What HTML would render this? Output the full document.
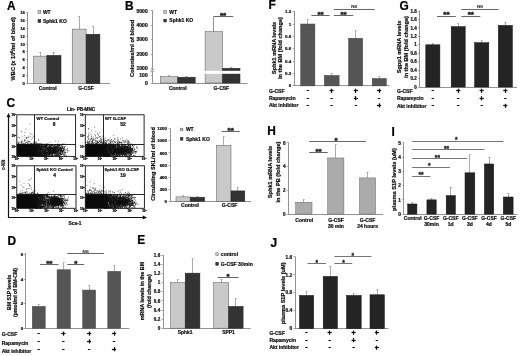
<!DOCTYPE html>
<html><head><meta charset="utf-8"><title>Figure</title>
<style>html,body{margin:0;padding:0;background:#fff;}svg{display:block;filter:grayscale(1);}text{font-family:"Liberation Sans",sans-serif;}</style>
</head><body>
<svg width="520" height="356" viewBox="0 0 520 356">
<rect x="0" y="0" width="520" height="356" fill="#ffffff"/>
<text x="7.00" y="10.40" font-size="11.9" text-anchor="start" font-weight="bold" fill="#000" stroke="#000" stroke-width="0.22">A</text>
<text x="125.00" y="10.40" font-size="11.9" text-anchor="start" font-weight="bold" fill="#000" stroke="#000" stroke-width="0.22">B</text>
<text x="6.50" y="107.20" font-size="11.9" text-anchor="start" font-weight="bold" fill="#000" stroke="#000" stroke-width="0.22">C</text>
<text x="7.50" y="244.90" font-size="11.9" text-anchor="start" font-weight="bold" fill="#000" stroke="#000" stroke-width="0.22">D</text>
<text x="137.30" y="244.00" font-size="11.9" text-anchor="start" font-weight="bold" fill="#000" stroke="#000" stroke-width="0.22">E</text>
<text x="268.40" y="9.40" font-size="11.9" text-anchor="start" font-weight="bold" fill="#000" stroke="#000" stroke-width="0.22">F</text>
<text x="399.60" y="9.70" font-size="11.9" text-anchor="start" font-weight="bold" fill="#000" stroke="#000" stroke-width="0.22">G</text>
<text x="267.30" y="134.60" font-size="11.9" text-anchor="start" font-weight="bold" fill="#000" stroke="#000" stroke-width="0.22">H</text>
<text x="391.50" y="135.80" font-size="11.9" text-anchor="start" font-weight="bold" fill="#000" stroke="#000" stroke-width="0.22">I</text>
<text x="270.40" y="247.40" font-size="11.9" text-anchor="start" font-weight="bold" fill="#000" stroke="#000" stroke-width="0.22">J</text>
<line x1="27.50" y1="12.00" x2="27.50" y2="83.60" stroke="#777" stroke-width="0.8"/>
<line x1="27.70" y1="83.50" x2="110.00" y2="83.50" stroke="#777" stroke-width="0.8"/>
<line x1="26.10" y1="83.50" x2="27.70" y2="83.50" stroke="#777" stroke-width="0.6"/>
<text x="24.90" y="85.08" font-size="4.1" text-anchor="end" font-weight="bold" fill="#111" stroke="#111" stroke-width="0.22">0</text>
<line x1="26.10" y1="75.50" x2="27.70" y2="75.50" stroke="#777" stroke-width="0.6"/>
<text x="24.90" y="77.18" font-size="4.1" text-anchor="end" font-weight="bold" fill="#111" stroke="#111" stroke-width="0.22">2</text>
<line x1="26.10" y1="67.50" x2="27.70" y2="67.50" stroke="#777" stroke-width="0.6"/>
<text x="24.90" y="69.28" font-size="4.1" text-anchor="end" font-weight="bold" fill="#111" stroke="#111" stroke-width="0.22">4</text>
<line x1="26.10" y1="59.50" x2="27.70" y2="59.50" stroke="#777" stroke-width="0.6"/>
<text x="24.90" y="61.38" font-size="4.1" text-anchor="end" font-weight="bold" fill="#111" stroke="#111" stroke-width="0.22">6</text>
<line x1="26.10" y1="51.50" x2="27.70" y2="51.50" stroke="#777" stroke-width="0.6"/>
<text x="24.90" y="53.48" font-size="4.1" text-anchor="end" font-weight="bold" fill="#111" stroke="#111" stroke-width="0.22">8</text>
<line x1="26.10" y1="44.50" x2="27.70" y2="44.50" stroke="#777" stroke-width="0.6"/>
<text x="24.90" y="45.58" font-size="4.1" text-anchor="end" font-weight="bold" fill="#111" stroke="#111" stroke-width="0.22">10</text>
<line x1="26.10" y1="36.50" x2="27.70" y2="36.50" stroke="#777" stroke-width="0.6"/>
<text x="24.90" y="37.68" font-size="4.1" text-anchor="end" font-weight="bold" fill="#111" stroke="#111" stroke-width="0.22">12</text>
<line x1="26.10" y1="28.50" x2="27.70" y2="28.50" stroke="#777" stroke-width="0.6"/>
<text x="24.90" y="29.78" font-size="4.1" text-anchor="end" font-weight="bold" fill="#111" stroke="#111" stroke-width="0.22">14</text>
<line x1="26.10" y1="20.50" x2="27.70" y2="20.50" stroke="#777" stroke-width="0.6"/>
<text x="24.90" y="21.88" font-size="4.1" text-anchor="end" font-weight="bold" fill="#111" stroke="#111" stroke-width="0.22">16</text>
<line x1="26.10" y1="12.50" x2="27.70" y2="12.50" stroke="#777" stroke-width="0.6"/>
<text x="24.90" y="13.98" font-size="4.1" text-anchor="end" font-weight="bold" fill="#111" stroke="#111" stroke-width="0.22">18</text>
<line x1="40.50" y1="52.40" x2="40.50" y2="56.15" stroke="#888" stroke-width="0.7"/>
<line x1="39.20" y1="52.50" x2="41.20" y2="52.50" stroke="#888" stroke-width="0.6"/>
<rect x="33.50" y="56.15" width="13.40" height="27.45" fill="#c9c9c9" stroke="#555" stroke-width="0.5"/>
<line x1="53.50" y1="52.40" x2="53.50" y2="55.36" stroke="#888" stroke-width="0.7"/>
<line x1="52.95" y1="52.50" x2="54.95" y2="52.50" stroke="#888" stroke-width="0.6"/>
<rect x="46.90" y="55.36" width="14.10" height="28.24" fill="#333333" stroke="#222" stroke-width="0.5"/>
<line x1="79.50" y1="16.45" x2="79.50" y2="29.09" stroke="#888" stroke-width="0.7"/>
<line x1="78.15" y1="16.50" x2="80.15" y2="16.50" stroke="#888" stroke-width="0.6"/>
<rect x="72.20" y="29.09" width="13.90" height="54.51" fill="#c9c9c9" stroke="#555" stroke-width="0.5"/>
<line x1="93.50" y1="26.72" x2="93.50" y2="34.22" stroke="#888" stroke-width="0.7"/>
<line x1="92.00" y1="26.50" x2="94.00" y2="26.50" stroke="#888" stroke-width="0.6"/>
<rect x="86.10" y="34.22" width="13.80" height="49.38" fill="#333333" stroke="#222" stroke-width="0.5"/>
<text x="47.70" y="89.80" font-size="5" text-anchor="middle" font-weight="bold" fill="#111" stroke="#111" stroke-width="0.22">Control</text>
<text x="86.00" y="89.80" font-size="5" text-anchor="middle" font-weight="bold" fill="#111" stroke="#111" stroke-width="0.22">G-CSF</text>
<rect x="38.00" y="10.40" width="2.80" height="2.90" fill="#c9c9c9" stroke="#555" stroke-width="0.5"/>
<text x="42.90" y="13.70" font-size="5.0" text-anchor="start" font-weight="bold" fill="#111" stroke="#111" stroke-width="0.22">WT</text>
<rect x="38.00" y="19.50" width="2.80" height="3.00" fill="#333333" stroke="#222" stroke-width="0.5"/>
<text x="42.90" y="22.90" font-size="5.0" text-anchor="start" font-weight="bold" fill="#111" stroke="#111" stroke-width="0.22">Sphk1 KO</text>
<text x="14.70" y="48.80" font-size="5.6" text-anchor="middle" font-weight="bold" fill="#111" transform="rotate(-90 14.70 48.80)" stroke="#111" stroke-width="0.22">WBC (x 10<tspan font-size="3.6" dy="-2">6</tspan><tspan dy="2">/ml of blood)</tspan></text>
<line x1="152.50" y1="10.20" x2="152.50" y2="83.00" stroke="#777" stroke-width="0.8"/>
<line x1="152.30" y1="83.50" x2="247.50" y2="83.50" stroke="#777" stroke-width="0.8"/>
<line x1="150.70" y1="83.50" x2="152.30" y2="83.50" stroke="#777" stroke-width="0.6"/>
<text x="147.70" y="84.80" font-size="5.0" text-anchor="end" font-weight="bold" fill="#111" stroke="#111" stroke-width="0.22">0</text>
<line x1="150.70" y1="75.50" x2="152.30" y2="75.50" stroke="#777" stroke-width="0.6"/>
<text x="147.70" y="77.10" font-size="5.0" text-anchor="end" font-weight="bold" fill="#111" stroke="#111" stroke-width="0.22">100</text>
<line x1="150.70" y1="68.50" x2="152.30" y2="68.50" stroke="#777" stroke-width="0.6"/>
<text x="147.70" y="70.10" font-size="5.0" text-anchor="end" font-weight="bold" fill="#111" stroke="#111" stroke-width="0.22">1000</text>
<line x1="150.70" y1="54.50" x2="152.30" y2="54.50" stroke="#777" stroke-width="0.6"/>
<text x="147.70" y="55.80" font-size="5.0" text-anchor="end" font-weight="bold" fill="#111" stroke="#111" stroke-width="0.22">2000</text>
<line x1="150.70" y1="39.50" x2="152.30" y2="39.50" stroke="#777" stroke-width="0.6"/>
<text x="147.70" y="41.10" font-size="5.0" text-anchor="end" font-weight="bold" fill="#111" stroke="#111" stroke-width="0.22">3000</text>
<line x1="150.70" y1="25.50" x2="152.30" y2="25.50" stroke="#777" stroke-width="0.6"/>
<text x="147.70" y="27.10" font-size="5.0" text-anchor="end" font-weight="bold" fill="#111" stroke="#111" stroke-width="0.22">4000</text>
<line x1="150.70" y1="10.50" x2="152.30" y2="10.50" stroke="#777" stroke-width="0.6"/>
<text x="147.70" y="12.50" font-size="5.0" text-anchor="end" font-weight="bold" fill="#111" stroke="#111" stroke-width="0.22">5000</text>
<line x1="169.50" y1="75.80" x2="169.50" y2="76.70" stroke="#888" stroke-width="0.7"/>
<line x1="168.05" y1="75.50" x2="170.05" y2="75.50" stroke="#888" stroke-width="0.6"/>
<rect x="160.30" y="76.70" width="17.50" height="6.30" fill="#c9c9c9" stroke="#555" stroke-width="0.5"/>
<line x1="186.50" y1="76.40" x2="186.50" y2="77.20" stroke="#888" stroke-width="0.7"/>
<line x1="185.50" y1="76.50" x2="187.50" y2="76.50" stroke="#888" stroke-width="0.6"/>
<rect x="177.80" y="77.20" width="17.40" height="5.80" fill="#333333" stroke="#222" stroke-width="0.5"/>
<rect x="205.10" y="31.70" width="17.40" height="51.30" fill="#c9c9c9" stroke="#555" stroke-width="0.5"/>
<line x1="213.50" y1="16.30" x2="213.50" y2="31.70" stroke="#666" stroke-width="0.7"/>
<line x1="231.50" y1="67.00" x2="231.50" y2="68.30" stroke="#888" stroke-width="0.7"/>
<line x1="230.25" y1="67.50" x2="232.25" y2="67.50" stroke="#888" stroke-width="0.6"/>
<rect x="222.50" y="68.30" width="17.50" height="14.70" fill="#333333" stroke="#222" stroke-width="0.5"/>
<rect x="158.00" y="70.80" width="83.00" height="3.00" fill="#fff"/>
<rect x="151.00" y="69.90" width="3.00" height="1.70" fill="#fff"/>
<path d="M150.3 70.3 L154.3 69.5 M150.3 72.0 L154.3 71.2" stroke="#666" stroke-width="0.6" fill="none"/>
<text x="177.80" y="89.80" font-size="5" text-anchor="middle" font-weight="bold" fill="#111" stroke="#111" stroke-width="0.22">Control</text>
<text x="221.40" y="89.80" font-size="5" text-anchor="middle" font-weight="bold" fill="#111" stroke="#111" stroke-width="0.22">G-CSF</text>
<rect x="163.80" y="10.70" width="2.60" height="2.70" fill="#c9c9c9" stroke="#555" stroke-width="0.5"/>
<text x="169.30" y="13.80" font-size="5.0" text-anchor="start" font-weight="bold" fill="#111" stroke="#111" stroke-width="0.22">WT</text>
<rect x="163.80" y="19.20" width="2.60" height="2.80" fill="#333333" stroke="#222" stroke-width="0.5"/>
<text x="169.30" y="22.40" font-size="5.0" text-anchor="start" font-weight="bold" fill="#111" stroke="#111" stroke-width="0.22">Sphk1 KO</text>
<text x="134.30" y="48.30" font-size="5.8" text-anchor="middle" font-weight="bold" fill="#111" transform="rotate(-90 134.30 48.30)" stroke="#111" stroke-width="0.22">Colonies/ml of blood</text>
<line x1="213.90" y1="16.50" x2="233.20" y2="16.50" stroke="#555" stroke-width="0.9"/>
<text x="223.10" y="17.90" font-size="8" text-anchor="middle" font-weight="bold" fill="#222" stroke="#222" stroke-width="0.45">**</text>
<line x1="8.50" y1="217.60" x2="8.50" y2="115.50" stroke="#111" stroke-width="1.2"/>
<path d="M6.50 117.30 L8.50 112.90 L10.50 117.30 Z" fill="#111"/>
<line x1="8.10" y1="217.50" x2="144.50" y2="217.50" stroke="#111" stroke-width="1.2"/>
<path d="M142.70 215.50 L147.10 217.50 L142.70 219.50 Z" fill="#111"/>
<text x="81.00" y="111.20" font-size="4.6" text-anchor="middle" font-weight="bold" fill="#111" stroke="#111" stroke-width="0.22">Lin- PB-MNC</text>
<text x="4.90" y="164.80" font-size="4.7" text-anchor="middle" font-weight="bold" fill="#111" transform="rotate(-90 4.90 164.80)" stroke="#111" stroke-width="0.22">c-Kit</text>
<text x="75.00" y="225.30" font-size="4.8" text-anchor="middle" font-weight="bold" fill="#111" stroke="#111" stroke-width="0.22">Sca-1</text>
<rect x="16.80" y="144.00" width="19.10" height="12.40" fill="#0a0a0a"/>
<path d="M37.6 145.9h.8M41.2 144.9h.8M39.6 148.5h.8M35.7 150.3h.8M35.6 149.4h.8M35.8 145.1h.8M38.4 154.3h.8M36.1 146.8h.8M40.8 155.8h.8M40.1 148.9h.8M56.0 144.6h.8M46.2 147.6h.8M36.3 145.5h.8M37.4 154.1h.8M36.5 151.2h.8M41.0 148.6h.8M39.8 144.8h.8M35.7 146.6h.8M41.7 149.3h.8M37.5 151.3h.8M38.7 147.7h.8M44.1 152.7h.8M36.9 151.1h.8M39.5 154.9h.8M42.6 147.6h.8M57.0 145.5h.8M38.4 153.4h.8M36.3 150.1h.8M35.6 152.3h.8M43.4 151.1h.8M46.9 147.9h.8M41.9 151.4h.8M40.2 149.7h.8M45.5 155.7h.8M38.9 152.2h.8M35.7 152.7h.8M41.1 156.3h.8M44.9 147.5h.8M38.1 152.3h.8M35.5 149.7h.8M36.4 145.5h.8M35.7 153.5h.8M36.2 147.1h.8M38.1 154.8h.8M35.9 149.6h.8M39.8 155.0h.8M44.8 154.7h.8M37.2 149.1h.8M37.8 155.0h.8M52.8 145.9h.8M36.5 146.9h.8M36.9 150.0h.8M40.3 147.3h.8M35.4 149.2h.8M37.9 151.0h.8M52.2 152.6h.8M39.4 151.7h.8M41.6 144.7h.8M48.0 153.7h.8M46.8 153.9h.8M38.1 148.9h.8M36.0 151.9h.8M35.8 144.8h.8M36.7 146.0h.8M37.7 144.7h.8M35.4 145.9h.8M36.0 148.5h.8M35.5 154.8h.8M40.6 145.8h.8M37.0 148.3h.8M37.9 145.5h.8M45.8 156.3h.8M38.9 150.0h.8M35.9 145.3h.8M37.7 147.3h.8M45.1 146.0h.8M35.5 155.8h.8M39.5 145.8h.8M39.7 144.3h.8M39.5 156.1h.8M46.3 152.6h.8M37.1 148.5h.8M36.4 153.6h.8M39.6 153.7h.8M37.6 146.8h.8M44.6 156.2h.8M45.9 154.0h.8M44.8 153.2h.8M36.8 150.4h.8M37.8 144.4h.8M35.6 147.5h.8M37.0 152.6h.8M52.6 149.5h.8M50.6 156.3h.8M52.5 148.5h.8M36.8 146.8h.8M36.6 146.5h.8M40.8 155.2h.8M45.5 149.9h.8M41.2 153.9h.8M35.9 152.2h.8M48.6 153.7h.8M43.0 149.9h.8M36.5 153.8h.8M37.6 153.9h.8M55.0 148.9h.8M38.2 155.7h.8M42.5 146.1h.8M36.1 145.9h.8M48.3 154.0h.8M36.3 154.2h.8M57.0 152.2h.8M37.8 150.8h.8M36.2 144.2h.8M54.9 152.1h.8M39.5 155.6h.8M38.5 154.8h.8M45.0 146.6h.8M37.0 147.6h.8M36.9 151.3h.8M37.1 149.2h.8M36.2 155.3h.8M37.8 149.7h.8M40.2 155.2h.8M38.4 155.4h.8M39.2 150.6h.8M39.5 144.2h.8M38.6 146.3h.8M35.4 153.9h.8M36.4 149.9h.8M42.5 150.9h.8M37.6 150.4h.8M39.9 153.7h.8M36.0 150.9h.8M37.0 147.4h.8M43.5 150.3h.8M39.9 153.4h.8M48.8 149.5h.8M40.6 150.3h.8M39.3 152.6h.8M38.7 150.6h.8M39.0 155.7h.8M42.0 154.9h.8M51.1 147.2h.8M39.9 155.7h.8M45.5 145.7h.8M36.1 149.5h.8M35.8 147.0h.8M35.8 152.3h.8M43.8 155.1h.8M36.3 152.9h.8M41.3 145.8h.8M47.2 156.0h.8M36.8 155.8h.8M38.2 150.0h.8M60.7 154.3h.8M36.4 149.4h.8M39.4 148.2h.8M36.6 147.9h.8M42.4 144.2h.8M39.8 149.5h.8M35.5 148.1h.8M40.8 150.4h.8M35.8 156.2h.8M43.9 156.0h.8M36.0 147.3h.8M35.6 153.7h.8M37.1 145.6h.8M38.4 155.3h.8M44.8 147.2h.8M36.3 155.4h.8M40.0 152.7h.8M35.9 144.7h.8M41.8 149.3h.8M35.8 155.6h.8M40.9 153.9h.8M35.9 154.6h.8M35.8 154.7h.8M38.7 148.2h.8M39.8 155.5h.8M37.1 145.6h.8M39.5 147.0h.8M36.0 146.0h.8M35.7 146.5h.8M37.5 147.8h.8M43.2 147.6h.8M39.2 146.2h.8M37.7 144.2h.8M37.0 144.2h.8M42.7 150.8h.8M36.6 149.9h.8M50.4 145.3h.8M44.8 149.4h.8M39.2 154.3h.8M38.1 150.3h.8M41.8 156.2h.8M37.7 154.3h.8M42.1 151.9h.8M38.3 148.3h.8M35.7 145.6h.8M35.8 153.2h.8M37.0 146.0h.8M35.9 154.4h.8M46.6 152.3h.8M37.2 147.0h.8M37.3 149.7h.8M36.3 149.5h.8M37.1 155.9h.8M55.2 150.8h.8M36.9 156.0h.8M37.4 148.4h.8M35.4 148.7h.8M38.9 150.2h.8M36.6 150.3h.8M35.4 147.3h.8M35.9 149.0h.8M35.6 144.3h.8M37.4 146.9h.8M40.2 150.6h.8M43.0 152.2h.8M42.3 154.9h.8M38.1 148.0h.8M58.4 145.9h.8M42.5 152.0h.8M35.6 154.4h.8M47.6 151.8h.8M42.7 154.1h.8M36.2 150.5h.8M39.3 154.4h.8M44.4 154.2h.8M40.2 155.1h.8M41.7 152.6h.8M36.8 144.4h.8M36.2 148.5h.8M36.0 154.4h.8M39.9 151.8h.8M40.8 152.4h.8M39.1 144.0h.8M44.2 153.3h.8M39.2 150.6h.8M41.3 144.8h.8M42.7 147.1h.8M35.8 147.3h.8M42.6 146.5h.8M42.8 156.1h.8M39.1 148.7h.8M39.0 152.5h.8M43.4 151.7h.8M41.1 145.0h.8M36.3 147.1h.8M42.9 147.8h.8M40.0 144.2h.8M35.7 147.3h.8M41.5 152.6h.8M41.6 147.6h.8M39.4 149.8h.8M38.9 145.5h.8M47.7 146.5h.8M56.4 155.6h.8M35.5 149.7h.8M44.8 156.0h.8M38.7 147.3h.8M36.7 155.7h.8M36.7 151.2h.8M36.2 150.5h.8M52.2 145.6h.8M44.8 150.3h.8M47.4 152.7h.8M36.8 155.1h.8M39.1 144.3h.8M35.4 150.1h.8M38.7 147.7h.8M36.2 148.3h.8M37.5 154.4h.8M35.4 153.3h.8M45.4 145.5h.8M49.8 152.8h.8M48.2 147.6h.8M38.0 148.9h.8M37.9 149.3h.8M37.2 144.6h.8M36.0 154.3h.8M37.2 155.6h.8M37.0 147.3h.8M39.3 146.4h.8M38.0 155.9h.8M47.3 154.1h.8M40.9 155.3h.8M50.9 150.8h.8M42.4 144.6h.8M42.6 149.6h.8M43.1 152.0h.8M37.3 144.6h.8M49.8 145.6h.8M38.9 148.3h.8M37.3 153.2h.8M56.0 147.2h.8M41.3 147.7h.8M39.9 148.9h.8M36.4 146.0h.8M36.7 155.2h.8M39.2 146.7h.8M48.4 156.4h.8M38.7 145.7h.8M36.6 145.1h.8M37.7 145.1h.8M36.9 147.2h.8M40.0 155.0h.8M43.0 149.1h.8M38.3 150.5h.8M38.0 148.2h.8M35.8 147.4h.8M54.3 145.6h.8M39.2 151.8h.8M46.3 146.7h.8M37.1 147.1h.8M38.2 149.5h.8M52.3 154.5h.8M46.7 144.3h.8M35.6 152.8h.8M47.8 149.9h.8M40.3 144.0h.8M38.1 155.5h.8M45.0 154.6h.8M55.1 147.1h.8M36.0 145.9h.8M39.5 152.5h.8M51.0 152.9h.8M41.1 153.5h.8M38.8 150.8h.8M35.6 153.7h.8M36.9 155.4h.8M41.1 147.8h.8M36.2 147.1h.8M41.0 152.7h.8M36.1 144.9h.8M39.5 151.2h.8M38.1 146.8h.8M40.5 144.1h.8M37.4 149.7h.8M53.0 152.0h.8M47.2 149.9h.8M36.9 147.1h.8M53.2 152.7h.8M37.4 144.3h.8M39.2 152.4h.8M38.4 147.2h.8M41.5 155.5h.8M36.8 144.4h.8M37.7 149.2h.8M41.7 146.5h.8M44.2 153.2h.8M39.3 146.5h.8M54.7 147.9h.8M44.8 146.9h.8M36.8 153.4h.8M37.3 155.8h.8M39.2 146.3h.8M36.8 149.2h.8M41.4 155.8h.8M36.3 148.9h.8M36.7 156.1h.8M36.2 144.6h.8M35.7 148.9h.8M48.0 155.0h.8M42.7 156.4h.8M50.2 148.1h.8M36.5 155.6h.8M42.9 144.4h.8M41.4 148.7h.8M38.0 148.1h.8M36.4 144.0h.8M37.2 148.4h.8M52.5 145.5h.8M53.7 146.6h.8M37.8 154.2h.8M44.9 149.4h.8M35.7 149.9h.8M38.0 155.4h.8M36.6 148.5h.8M47.9 144.4h.8M38.3 154.1h.8M43.4 144.5h.8M35.6 144.8h.8M49.3 147.2h.8M43.0 155.1h.8M37.7 147.4h.8M52.8 151.7h.8M37.1 152.9h.8M37.5 147.4h.8M35.4 153.4h.8M49.1 151.9h.8M51.2 144.3h.8M36.9 149.9h.8M52.7 155.8h.8M38.1 147.1h.8M38.5 150.1h.8M49.9 146.3h.8M44.3 153.2h.8M44.9 153.6h.8M40.5 148.1h.8M37.5 148.5h.8M43.8 145.0h.8M36.6 153.3h.8M37.0 144.8h.8M35.6 150.9h.8M37.6 156.2h.8M47.2 156.2h.8M37.1 145.0h.8M36.0 150.2h.8M42.2 149.5h.8M36.9 149.2h.8M40.7 152.4h.8M43.0 154.5h.8M41.4 145.5h.8M45.5 147.6h.8M40.0 148.6h.8M42.8 146.5h.8M37.0 147.0h.8M36.3 155.0h.8M40.1 148.0h.8M38.2 156.3h.8M39.3 146.9h.8M44.5 152.1h.8M61.3 145.3h.8M38.9 154.2h.8M45.5 155.3h.8M35.6 147.6h.8M36.1 146.4h.8M55.3 151.2h.8M50.0 148.6h.8M46.5 149.6h.8M37.1 153.6h.8M51.4 145.3h.8M40.4 151.7h.8M36.7 148.6h.8M36.2 146.5h.8M37.0 151.4h.8M41.2 146.5h.8M35.5 148.1h.8M41.6 146.3h.8M37.5 146.5h.8M44.1 150.8h.8M35.8 145.3h.8M38.2 150.8h.8M41.0 145.1h.8M36.4 152.6h.8M38.3 147.5h.8M37.4 155.8h.8M37.5 151.0h.8M37.8 149.2h.8M46.4 156.4h.8M37.9 146.4h.8M42.6 146.5h.8M35.4 155.2h.8M38.4 154.2h.8M38.3 154.9h.8M38.8 146.0h.8M35.5 150.8h.8M41.0 155.3h.8M35.9 151.7h.8M37.9 150.3h.8M36.3 147.5h.8M39.5 155.5h.8M36.0 150.1h.8M44.4 156.0h.8M36.6 145.6h.8M51.2 156.1h.8M39.0 144.7h.8M49.7 148.8h.8M48.3 151.7h.8M45.0 146.0h.8M43.9 146.8h.8M38.3 154.5h.8M45.1 146.3h.8M36.8 149.0h.8M39.4 148.8h.8M36.1 147.1h.8M42.5 155.1h.8M35.6 151.0h.8M43.2 144.5h.8M45.4 145.5h.8M40.4 150.8h.8M40.8 147.8h.8M38.4 151.2h.8M38.5 152.2h.8M38.7 149.4h.8M35.5 151.7h.8M39.1 146.9h.8M43.3 153.7h.8M38.8 146.2h.8M38.9 145.3h.8M36.2 149.3h.8M35.9 149.5h.8M39.3 144.5h.8M41.0 145.0h.8M42.7 153.6h.8M39.3 144.7h.8M39.3 148.7h.8M52.0 145.7h.8M46.1 156.4h.8M42.6 154.1h.8M36.6 156.2h.8M39.1 155.9h.8M49.0 146.0h.8M43.9 155.5h.8M35.8 148.4h.8M43.2 146.0h.8M47.9 147.4h.8M44.7 145.8h.8M39.2 155.4h.8M36.7 147.3h.8M39.3 148.0h.8M35.6 146.3h.8M36.4 155.6h.8M41.7 155.1h.8M36.4 153.7h.8M36.1 150.6h.8M41.0 148.5h.8M46.7 150.9h.8M40.2 154.9h.8M36.0 156.3h.8M40.9 148.9h.8M44.2 147.3h.8M61.0 151.2h.8M37.9 153.5h.8M38.6 146.2h.8M42.9 144.6h.8M44.8 147.1h.8M41.0 156.2h.8M40.2 152.2h.8M37.5 144.0h.8M35.6 145.9h.8M40.7 149.4h.8M39.4 155.1h.8M36.2 146.8h.8M41.2 144.3h.8M35.4 148.4h.8M36.0 148.4h.8M36.8 151.2h.8M40.3 146.5h.8M40.8 149.9h.8M36.2 155.6h.8M36.9 145.9h.8M36.0 151.9h.8M46.7 153.7h.8M38.2 147.3h.8M35.5 152.0h.8M39.9 148.3h.8M41.1 149.5h.8M50.6 153.1h.8M37.0 155.2h.8M35.6 150.6h.8M38.3 146.9h.8M35.7 153.7h.8M35.5 150.8h.8M51.0 145.8h.8M36.6 151.5h.8M39.3 152.0h.8M44.6 146.2h.8M37.4 147.7h.8M35.7 155.0h.8M43.8 152.9h.8M35.4 154.5h.8M42.9 149.8h.8M42.8 149.6h.8M36.8 145.3h.8M36.9 144.5h.8M37.6 153.3h.8M41.9 154.5h.8M42.2 147.3h.8M39.8 149.4h.8M43.9 150.5h.8M37.1 152.0h.8M53.9 146.7h.8M47.1 144.2h.8M37.1 146.9h.8M42.9 155.7h.8M42.9 148.1h.8M47.1 148.1h.8M36.9 155.3h.8M40.9 152.6h.8M41.4 156.1h.8M38.9 154.4h.8M42.0 154.6h.8M38.6 153.0h.8M40.0 147.8h.8M36.7 151.7h.8M35.8 155.3h.8M36.3 144.3h.8M36.0 155.5h.8M37.7 145.8h.8M35.6 144.5h.8M41.9 151.9h.8M42.0 153.1h.8M35.8 151.3h.8M37.9 154.1h.8M44.8 155.1h.8M35.8 154.8h.8M48.9 155.7h.8M36.0 146.6h.8M36.1 144.4h.8M45.8 154.1h.8M40.9 154.2h.8M40.9 147.6h.8M36.0 145.2h.8M43.2 146.5h.8M37.5 149.3h.8M35.5 147.2h.8M37.2 152.9h.8M37.9 148.0h.8M53.7 150.2h.8M45.9 151.7h.8M35.6 149.1h.8M38.6 153.6h.8M37.7 152.7h.8M39.6 146.7h.8M46.3 145.1h.8M44.8 146.1h.8M35.4 146.5h.8M43.3 156.1h.8M35.4 150.1h.8M39.1 153.9h.8M36.5 150.1h.8M37.7 154.3h.8M37.1 155.7h.8M37.2 146.7h.8M42.0 150.2h.8M36.0 151.9h.8M35.9 153.8h.8M42.0 153.8h.8M40.8 148.4h.8M38.2 148.9h.8M47.6 145.1h.8M47.5 144.3h.8M36.7 147.3h.8M48.1 150.2h.8M38.0 155.0h.8M36.9 149.7h.8M39.6 153.4h.8M43.1 152.0h.8M37.8 148.1h.8M36.3 154.5h.8M41.4 153.2h.8M36.4 149.4h.8M43.6 151.2h.8M36.1 149.7h.8M47.3 147.0h.8M36.6 147.7h.8M42.1 154.5h.8M36.3 145.9h.8M37.0 148.0h.8M39.5 146.0h.8M37.6 146.3h.8M55.7 153.0h.8M36.0 155.9h.8M36.0 148.8h.8M58.1 153.9h.8M42.7 149.4h.8M36.6 151.9h.8M36.0 146.6h.8M38.1 144.4h.8M38.2 153.8h.8M41.9 150.2h.8M40.9 149.7h.8M36.2 151.5h.8M38.3 153.2h.8M48.5 149.3h.8M40.1 153.3h.8M38.4 146.8h.8M42.4 154.9h.8M43.6 152.7h.8M45.9 152.4h.8M41.0 149.6h.8M37.5 151.8h.8M36.0 149.2h.8M43.8 152.8h.8M40.9 147.1h.8M38.4 149.6h.8M40.7 149.1h.8M41.6 155.5h.8M36.5 152.1h.8M43.7 148.8h.8M39.1 156.1h.8M35.6 150.7h.8M36.4 153.7h.8M50.9 150.4h.8M36.0 151.1h.8M39.7 152.9h.8M39.3 151.9h.8M45.1 150.5h.8M38.3 155.8h.8M36.7 152.5h.8M38.1 153.5h.8M36.1 156.2h.8M37.8 144.7h.8M37.2 149.0h.8M35.5 149.2h.8M38.4 152.7h.8M49.3 152.3h.8M54.1 155.3h.8M59.8 149.1h.8M54.7 155.7h.8M48.9 151.7h.8M60.1 154.2h.8M55.8 146.5h.8M44.2 151.2h.8M46.8 153.9h.8M57.4 145.4h.8M47.1 150.9h.8M49.2 150.0h.8M55.5 148.0h.8M55.4 148.5h.8M48.9 152.1h.8M48.7 151.3h.8M62.8 150.5h.8M51.5 152.7h.8M50.0 153.7h.8M44.1 152.3h.8M49.1 148.1h.8M63.9 147.9h.8M63.8 152.4h.8M61.8 147.5h.8M60.2 154.8h.8M51.6 150.1h.8M68.4 151.0h.8M49.7 148.6h.8M55.3 151.4h.8M53.6 155.6h.8M50.3 151.9h.8M61.9 147.4h.8M59.2 155.9h.8M43.6 147.2h.8M45.7 144.9h.8M55.3 144.9h.8M55.6 154.8h.8M41.9 149.5h.8M39.9 152.8h.8M47.6 149.7h.8M52.8 152.1h.8M50.1 150.5h.8M48.8 150.8h.8M44.8 150.6h.8M39.8 149.0h.8M64.8 150.7h.8M44.2 151.2h.8M46.1 145.5h.8M47.6 152.7h.8M54.9 150.2h.8M46.4 147.2h.8M61.2 151.2h.8M46.2 144.1h.8M44.9 150.2h.8M53.8 150.0h.8M50.6 146.3h.8M45.6 155.5h.8M47.5 153.0h.8M41.4 149.6h.8M54.1 153.6h.8M45.1 152.2h.8M54.9 148.2h.8M55.5 147.8h.8M47.2 150.4h.8M34.8 150.1h.8M45.9 146.1h.8M49.6 152.7h.8M49.8 154.2h.8M44.9 146.5h.8M62.5 151.6h.8M58.5 148.0h.8M57.6 151.2h.8M56.6 150.5h.8M60.2 148.5h.8M46.1 146.0h.8M59.9 148.2h.8M45.6 147.6h.8M49.5 146.6h.8M50.5 148.6h.8M48.8 147.6h.8M52.6 149.1h.8M53.1 151.2h.8M48.9 148.1h.8M57.4 145.7h.8M47.8 149.6h.8M50.2 153.4h.8M49.5 153.3h.8M42.9 145.0h.8M60.3 151.8h.8M55.6 150.8h.8M55.5 146.8h.8M58.6 148.9h.8M58.8 150.7h.8M39.6 146.6h.8M59.7 150.0h.8M49.8 151.2h.8M49.6 148.8h.8M53.1 150.9h.8M62.3 150.6h.8M64.6 155.9h.8M63.6 153.6h.8M53.2 150.9h.8M51.5 148.3h.8M52.0 148.5h.8M63.1 152.1h.8M49.5 144.7h.8M52.1 149.2h.8M45.3 147.0h.8M37.8 152.2h.8M52.2 150.0h.8M61.8 150.9h.8M53.5 149.3h.8M48.5 154.9h.8M58.9 155.6h.8M50.1 150.5h.8M46.7 153.3h.8M43.3 152.1h.8M59.5 154.7h.8M46.3 153.7h.8M47.8 148.2h.8M43.8 153.9h.8M63.1 148.7h.8M47.5 149.4h.8M48.9 145.1h.8M48.0 154.0h.8M64.5 149.6h.8M47.9 148.9h.8M40.1 153.2h.8M45.3 153.6h.8M41.3 146.6h.8M54.3 148.2h.8M57.5 150.5h.8M44.8 152.3h.8M57.9 144.7h.8M64.3 151.9h.8M57.3 144.9h.8M47.7 149.4h.8M59.4 146.1h.8M46.7 144.4h.8M50.8 151.5h.8M41.4 148.7h.8M55.7 155.2h.8M56.7 149.5h.8M44.7 147.6h.8M48.1 150.9h.8M52.1 155.4h.8M54.3 147.2h.8M62.4 153.3h.8M53.1 148.3h.8M40.2 147.4h.8M58.3 148.0h.8M43.8 151.0h.8M54.0 152.3h.8M56.7 154.7h.8M46.9 153.4h.8M46.0 152.5h.8M53.6 151.2h.8M58.7 150.4h.8M59.6 153.1h.8M53.3 148.7h.8M47.5 148.9h.8M51.1 150.4h.8M57.4 147.9h.8M47.8 149.5h.8M53.6 147.3h.8M62.9 148.8h.8M52.4 151.3h.8M53.6 152.3h.8M54.2 150.9h.8M40.1 148.3h.8M37.2 152.3h.8M54.4 149.9h.8M47.1 148.7h.8M64.4 155.6h.8M52.0 154.3h.8M42.1 144.6h.8M49.3 147.8h.8M48.8 151.0h.8M52.7 151.3h.8M52.2 153.2h.8M63.9 146.7h.8M53.5 149.7h.8M54.7 145.9h.8M55.8 151.0h.8M50.0 148.2h.8M43.2 147.7h.8M56.9 152.1h.8M52.3 152.0h.8M48.5 150.7h.8M52.7 152.1h.8M51.9 150.0h.8M51.5 148.5h.8M66.9 152.0h.8M61.5 145.8h.8M56.9 153.0h.8M64.7 154.4h.8M57.4 146.9h.8M46.7 151.3h.8M55.7 147.4h.8M49.9 149.2h.8M52.8 151.5h.8M50.5 146.7h.8M60.5 155.2h.8M51.7 153.5h.8M55.3 152.4h.8M55.5 148.2h.8M56.1 153.5h.8M46.6 156.3h.8M66.0 155.9h.8M65.3 152.7h.8M50.2 148.6h.8M47.1 150.8h.8M52.2 152.5h.8M67.2 150.4h.8M56.8 151.9h.8M54.2 149.8h.8M51.6 148.0h.8M53.6 150.4h.8M54.5 147.9h.8M52.7 150.6h.8M56.3 147.3h.8M55.1 153.4h.8M56.3 149.3h.8M49.2 149.7h.8M57.1 155.1h.8M51.4 148.5h.8M54.8 151.1h.8M46.5 148.2h.8M51.7 152.5h.8M44.6 147.4h.8M55.6 146.8h.8M53.1 151.5h.8M51.7 147.4h.8M52.0 149.5h.8M54.6 147.9h.8M59.5 145.4h.8M51.3 150.5h.8M58.7 148.6h.8M55.9 148.7h.8M57.2 155.7h.8M49.8 151.8h.8M46.4 153.4h.8M60.3 150.6h.8M45.0 151.7h.8M59.9 153.7h.8M57.7 145.0h.8M48.0 154.7h.8M44.4 153.8h.8M64.6 152.7h.8M59.7 149.4h.8M44.4 150.1h.8M51.1 150.3h.8M56.9 150.0h.8M53.6 151.7h.8M52.4 156.0h.8M55.3 150.7h.8M51.1 148.6h.8M61.1 150.9h.8M45.4 148.8h.8M51.5 149.1h.8M59.4 147.0h.8M55.6 150.9h.8M44.7 150.6h.8M51.8 152.0h.8M49.5 151.4h.8M41.6 147.2h.8M57.5 153.6h.8M52.3 148.7h.8M59.4 144.2h.8M47.2 152.5h.8M56.6 147.4h.8M40.1 154.8h.8M53.4 147.8h.8M52.8 153.2h.8M35.6 153.8h.8M57.2 144.2h.8M57.4 145.1h.8M59.8 151.6h.8M67.0 148.6h.8M52.4 153.6h.8M48.2 148.3h.8M50.0 150.2h.8M45.4 151.9h.8M55.9 150.7h.8M63.5 149.5h.8M60.9 148.8h.8M57.3 144.6h.8M53.7 149.9h.8M49.2 148.6h.8M50.1 148.3h.8M38.1 148.7h.8M48.8 148.9h.8M45.5 150.0h.8M57.5 149.7h.8M49.2 154.5h.8M58.8 153.2h.8M59.9 149.5h.8M51.6 153.8h.8M48.8 150.1h.8M54.9 151.6h.8M50.6 153.4h.8M51.2 152.6h.8M59.4 152.4h.8M57.2 147.0h.8M43.9 148.6h.8M55.5 155.0h.8M44.5 151.4h.8M46.8 148.3h.8M50.6 152.5h.8M53.8 154.0h.8M46.0 153.1h.8M58.4 150.7h.8M55.5 148.8h.8M45.3 149.2h.8M49.2 155.4h.8M53.7 151.4h.8M57.2 148.1h.8M58.4 151.6h.8M42.5 152.3h.8M56.0 151.8h.8M62.7 149.2h.8M55.7 152.7h.8M46.5 154.0h.8M43.0 146.5h.8M55.8 147.2h.8M51.6 145.5h.8M52.8 147.0h.8M54.6 145.9h.8M55.3 149.6h.8M52.8 150.2h.8M53.2 146.5h.8M35.7 150.6h.8M46.3 149.1h.8M55.2 144.5h.8M47.4 148.6h.8M45.5 151.4h.8M51.5 148.0h.8M46.0 152.9h.8M48.1 152.2h.8M55.3 144.8h.8M45.4 150.5h.8M54.6 152.8h.8M57.6 153.6h.8M50.0 149.8h.8M57.4 149.2h.8M59.3 145.7h.8M56.6 149.9h.8M39.6 153.4h.8M54.4 150.5h.8M45.4 149.1h.8M62.2 148.0h.8M44.6 150.1h.8M49.8 147.7h.8M46.9 153.6h.8M43.0 156.3h.8M48.9 147.2h.8M57.5 152.1h.8M45.6 152.7h.8M40.4 147.7h.8M59.7 149.7h.8M43.9 152.0h.8M58.4 150.4h.8M40.7 149.4h.8M55.1 152.8h.8M64.4 149.7h.8M49.3 150.3h.8M60.2 147.6h.8M57.6 148.4h.8M55.4 152.5h.8M44.7 150.2h.8M54.0 152.2h.8M46.4 147.5h.8M51.1 149.8h.8M42.7 153.2h.8M48.9 154.8h.8M57.9 150.5h.8M57.1 147.1h.8M50.3 148.7h.8M44.1 150.5h.8M51.5 154.8h.8M46.4 149.1h.8M55.1 151.7h.8M52.6 149.0h.8M55.6 151.5h.8M40.4 149.7h.8M43.5 146.9h.8M53.4 150.6h.8M53.1 147.8h.8M51.1 147.7h.8M54.9 152.5h.8M63.8 154.2h.8M47.2 149.1h.8M46.3 151.4h.8M65.3 152.6h.8M38.1 146.7h.8M44.0 152.0h.8M52.4 151.3h.8M64.0 148.0h.8M46.9 156.3h.8M54.6 148.1h.8M39.2 145.9h.8M36.5 150.7h.8M52.7 153.4h.8M51.5 148.4h.8M47.6 156.2h.8M40.9 151.0h.8M52.6 152.3h.8M49.8 151.9h.8M57.7 150.0h.8M49.4 149.9h.8M46.1 149.8h.8M50.4 151.1h.8M61.1 154.4h.8M49.5 152.3h.8M54.3 152.7h.8M52.5 151.2h.8M49.4 148.1h.8M58.1 154.3h.8M56.7 151.8h.8M54.1 149.1h.8M40.8 152.4h.8M53.7 148.8h.8M46.1 154.3h.8M40.7 155.7h.8M47.7 150.4h.8M49.1 150.9h.8M51.0 148.2h.8M59.4 148.1h.8M49.1 152.1h.8M48.9 149.1h.8M54.7 149.3h.8M44.3 150.1h.8M51.0 155.6h.8M45.3 153.4h.8M47.3 149.4h.8M50.3 151.3h.8M58.0 155.7h.8M48.3 154.4h.8M58.9 152.9h.8M47.5 153.1h.8M51.7 151.5h.8M50.7 152.4h.8M59.6 153.8h.8M51.1 153.4h.8M61.8 147.6h.8M62.0 146.4h.8M55.9 152.2h.8M62.0 151.3h.8M49.3 148.1h.8M44.3 152.7h.8M50.9 148.3h.8M55.9 148.2h.8M49.6 149.1h.8M63.2 154.8h.8M51.4 145.7h.8M54.2 150.7h.8M54.7 152.1h.8M50.3 153.2h.8M57.8 151.1h.8M49.8 149.0h.8M56.9 147.1h.8M51.4 148.2h.8M43.3 152.3h.8M52.2 150.6h.8M58.1 146.0h.8M52.0 151.3h.8M57.8 147.2h.8M57.1 151.1h.8M61.2 153.9h.8M52.4 149.2h.8M50.2 147.6h.8M52.2 144.8h.8M51.9 151.7h.8M58.8 149.4h.8M61.4 148.5h.8M51.5 144.8h.8M47.5 148.1h.8M61.9 152.0h.8M45.4 152.0h.8M55.5 149.8h.8M52.5 149.6h.8M49.0 145.3h.8M51.8 154.2h.8M61.5 149.6h.8M47.7 149.8h.8M58.1 151.5h.8M48.7 151.5h.8M51.1 152.0h.8M49.8 146.1h.8M52.8 152.7h.8M45.4 150.1h.8M58.0 149.4h.8M48.3 156.4h.8M57.7 153.5h.8M46.4 155.2h.8M41.9 148.9h.8M57.1 154.3h.8M46.5 148.5h.8M53.6 144.8h.8M56.4 152.1h.8M49.6 152.0h.8M57.3 151.3h.8M55.7 154.9h.8M49.4 150.9h.8M49.1 153.5h.8M49.8 151.8h.8M53.3 150.6h.8M63.2 150.2h.8M61.3 152.8h.8M60.7 150.0h.8M58.2 152.6h.8M48.5 151.2h.8M51.6 150.3h.8M60.6 148.4h.8M41.8 145.4h.8M49.6 148.6h.8M52.5 152.1h.8M63.4 151.3h.8M55.3 148.3h.8M56.0 154.4h.8M60.8 144.8h.8M58.0 155.0h.8M57.6 146.1h.8M50.5 152.1h.8M55.0 148.1h.8M46.8 153.2h.8M44.0 154.6h.8M52.5 151.3h.8M44.1 148.7h.8M56.7 146.2h.8M65.4 146.4h.8M44.8 150.6h.8M55.4 152.6h.8M50.1 149.8h.8M50.9 148.8h.8M36.3 153.2h.8M54.0 150.9h.8M48.5 151.2h.8M52.3 150.2h.8M59.3 145.5h.8M54.0 147.4h.8M50.4 154.8h.8M45.6 150.2h.8M48.7 153.2h.8M46.3 145.6h.8M55.6 149.4h.8M50.4 153.6h.8M46.9 149.4h.8M53.3 151.6h.8M49.2 153.4h.8M66.4 149.3h.8M64.1 144.4h.8M61.2 149.5h.8M53.3 149.5h.8M48.4 146.8h.8M49.9 154.2h.8M59.5 149.4h.8M49.1 148.4h.8M44.9 155.6h.8M56.5 150.8h.8M49.3 147.5h.8M60.6 152.7h.8M46.5 153.3h.8M45.5 152.3h.8M46.4 149.3h.8M55.5 151.7h.8M58.7 148.0h.8M62.3 154.3h.8M52.3 151.8h.8M47.5 150.0h.8M44.2 150.7h.8M53.6 154.3h.8M58.3 152.8h.8M50.1 149.8h.8M50.3 151.1h.8M40.4 152.7h.8M42.6 149.0h.8M52.5 149.0h.8M62.8 150.2h.8M62.2 153.8h.8M49.3 151.6h.8M60.5 149.5h.8M53.0 148.8h.8M52.8 149.4h.8M52.9 153.3h.8M61.1 150.8h.8M53.7 152.9h.8M50.6 147.4h.8M59.3 147.8h.8M58.2 147.7h.8M63.8 147.4h.8M57.7 154.8h.8M46.4 154.7h.8M47.3 145.4h.8M56.9 152.5h.8M52.1 149.6h.8M50.0 149.6h.8M41.2 148.8h.8M63.6 154.9h.8M50.1 148.4h.8M40.0 149.5h.8M58.9 151.2h.8M37.7 144.3h.8M37.6 153.9h.8M39.8 150.9h.8M42.9 152.5h.8M45.5 145.8h.8M60.0 150.7h.8M54.5 154.0h.8M62.1 144.2h.8M44.4 145.9h.8M49.1 154.8h.8M57.8 144.4h.8M39.7 154.1h.8M54.2 148.9h.8M48.3 146.0h.8M59.1 148.9h.8M59.9 151.6h.8M36.6 148.1h.8M40.7 155.1h.8M51.6 144.5h.8M39.4 148.5h.8M48.1 151.2h.8M45.7 148.4h.8M34.6 151.2h.8M44.1 144.3h.8M47.8 156.2h.8M35.7 145.8h.8M54.0 147.4h.8M42.4 150.2h.8M42.1 151.1h.8M49.8 155.9h.8M63.4 144.4h.8M50.8 153.6h.8M59.9 153.6h.8M52.9 151.9h.8M45.0 147.5h.8M57.6 154.8h.8M61.8 152.4h.8M43.3 153.5h.8M56.0 150.3h.8M52.9 148.3h.8M50.5 149.0h.8M36.2 148.2h.8M43.8 156.3h.8M48.5 148.6h.8M41.5 146.9h.8M44.6 145.7h.8M34.6 154.8h.8M47.6 149.5h.8M51.0 147.7h.8M39.3 144.8h.8M43.2 147.8h.8M55.6 150.8h.8M61.8 148.2h.8M61.3 151.2h.8M36.7 146.2h.8M51.4 156.2h.8M44.8 153.6h.8M46.9 154.8h.8M36.4 150.0h.8M60.7 147.4h.8M41.9 144.3h.8M39.2 147.3h.8M55.0 146.7h.8M46.1 146.5h.8M52.0 154.7h.8M53.3 146.4h.8M55.8 155.9h.8M51.9 145.0h.8M58.0 154.9h.8M44.4 145.7h.8M39.9 150.7h.8M60.0 151.9h.8M61.3 146.6h.8M43.9 153.3h.8M53.3 149.0h.8M54.2 148.2h.8M36.1 149.1h.8M35.7 151.8h.8M44.2 150.1h.8M51.9 147.2h.8M47.9 144.2h.8M61.4 151.0h.8M63.2 144.7h.8M52.3 153.0h.8M44.0 145.2h.8M39.0 145.8h.8M56.8 145.1h.8M58.2 149.2h.8M50.1 151.3h.8M50.6 152.2h.8M52.0 148.1h.8M56.0 147.2h.8M55.2 153.5h.8M57.1 147.8h.8M57.0 156.1h.8M47.6 147.5h.8M49.7 155.7h.8M38.3 144.1h.8M48.3 152.1h.8M57.0 148.5h.8M63.3 146.8h.8M56.5 145.1h.8M35.2 145.7h.8M36.2 150.2h.8M50.6 146.3h.8M61.8 148.5h.8M38.8 146.2h.8M55.9 155.4h.8M39.1 144.4h.8M57.1 147.0h.8M63.1 150.2h.8M53.0 148.3h.8M57.8 149.7h.8M43.9 155.2h.8M37.5 153.1h.8M36.3 152.0h.8M46.1 154.7h.8M36.2 151.0h.8M46.4 155.4h.8M62.0 151.8h.8M40.9 147.1h.8M42.1 149.4h.8M41.2 146.5h.8M56.6 152.0h.8M43.1 156.3h.8M40.7 151.1h.8M39.0 154.7h.8M59.8 147.3h.8M56.3 154.2h.8M42.7 148.1h.8M48.6 155.0h.8M39.1 152.5h.8M51.8 149.6h.8M51.3 154.9h.8M40.5 155.0h.8M44.9 153.7h.8M59.6 146.3h.8M59.6 156.3h.8M43.1 144.3h.8M37.7 156.1h.8M34.7 155.3h.8M38.8 153.1h.8M37.2 146.1h.8M54.3 145.1h.8M44.3 155.4h.8M55.3 154.9h.8M63.0 144.4h.8M41.3 153.8h.8M54.5 144.5h.8M49.1 146.9h.8M47.0 145.3h.8M35.0 156.3h.8M43.6 154.9h.8M37.9 150.0h.8M38.4 149.3h.8M39.6 152.5h.8M38.7 153.2h.8M49.0 145.4h.8M44.7 150.2h.8M61.2 148.3h.8M40.7 156.0h.8M60.2 153.1h.8M42.4 146.2h.8M42.1 144.9h.8M35.7 150.3h.8M46.3 150.9h.8M45.0 144.1h.8M54.5 152.1h.8M50.3 150.8h.8M54.6 156.2h.8M59.9 152.9h.8M46.1 147.9h.8M46.6 156.1h.8M45.7 148.8h.8M46.4 145.8h.8M63.6 144.1h.8M52.1 155.5h.8M41.8 151.6h.8M45.4 147.0h.8M40.2 145.4h.8M59.0 153.7h.8M60.9 144.6h.8M54.7 148.0h.8M53.3 150.8h.8M43.6 156.0h.8M34.4 153.3h.8M59.3 150.3h.8M51.7 156.3h.8M41.2 151.8h.8M56.1 148.7h.8M55.2 148.9h.8M49.8 151.6h.8M54.2 148.0h.8M52.8 150.7h.8M40.9 151.6h.8M42.1 155.3h.8M48.2 152.9h.8M49.6 149.9h.8M40.9 145.8h.8M61.5 150.6h.8M49.7 150.5h.8M58.1 147.0h.8M39.4 154.2h.8M47.8 151.9h.8M58.6 155.1h.8M59.7 144.5h.8M45.5 154.3h.8M58.3 145.5h.8M38.9 147.1h.8M37.4 148.4h.8M57.9 150.5h.8M47.6 145.1h.8M46.0 156.4h.8M54.7 149.6h.8M48.4 153.9h.8M56.6 145.9h.8M54.3 148.5h.8M49.6 146.9h.8" stroke="#111" stroke-width="0.8" fill="none"/>
<path d="M24.0 139.8h.8M18.1 137.4h.8M21.1 141.5h.8M20.8 142.8h.8M29.7 142.9h.8M21.8 137.0h.8M31.6 134.4h.8M32.1 137.8h.8M21.1 131.4h.8M28.1 137.4h.8M24.0 135.7h.8M23.9 141.6h.8M29.6 141.7h.8M28.6 136.1h.8M31.3 139.3h.8M27.4 137.7h.8M33.2 136.3h.8M29.6 124.1h.8M24.0 140.4h.8M19.0 137.8h.8M30.4 136.9h.8M26.0 137.3h.8M32.8 143.9h.8M27.6 142.2h.8M25.5 129.1h.8M24.7 140.4h.8M25.7 137.4h.8M26.0 138.5h.8M26.3 138.6h.8M30.1 133.4h.8M24.5 132.3h.8M27.0 141.0h.8M30.6 143.5h.8M21.5 140.0h.8M18.4 143.8h.8M18.6 143.5h.8M32.3 143.6h.8M30.8 143.8h.8M31.4 143.6h.8M31.0 144.0h.8M25.4 140.0h.8M33.6 141.7h.8M34.8 143.3h.8M27.5 143.1h.8M16.9 143.0h.8M22.2 143.9h.8M23.2 143.9h.8M28.2 141.4h.8M27.3 143.6h.8M23.1 143.8h.8M34.7 143.2h.8M22.1 141.6h.8M21.0 142.5h.8M24.5 143.5h.8M26.4 142.3h.8M24.3 143.9h.8M33.3 143.1h.8M28.3 141.2h.8M17.9 143.4h.8M25.2 142.5h.8M28.4 143.5h.8M33.2 143.1h.8M22.8 143.4h.8M29.0 141.7h.8M26.2 142.7h.8M34.9 143.4h.8M18.0 142.3h.8M17.8 143.2h.8M34.6 142.4h.8M20.5 143.2h.8M35.8 141.8h.8M27.1 143.1h.8M30.7 143.5h.8M21.1 143.0h.8M34.1 142.2h.8M21.1 141.7h.8M18.9 142.1h.8M36.4 142.7h.8M25.3 143.5h.8M35.5 143.2h.8M30.9 143.8h.8M31.1 143.6h.8M17.7 143.4h.8M21.6 143.1h.8M49.6 142.2h.8M38.4 140.7h.8M58.3 141.4h.8M38.4 139.5h.8M55.3 141.1h.8" stroke="#333" stroke-width="0.75" fill="none"/>
<rect x="16.80" y="114.80" width="58.80" height="41.60" fill="none" stroke="#111" stroke-width="0.9"/>
<line x1="34.50" y1="114.80" x2="34.50" y2="144.00" stroke="#111" stroke-width="0.9"/>
<line x1="16.80" y1="144.50" x2="75.60" y2="144.50" stroke="#111" stroke-width="0.9"/>
<text x="16.00" y="116.40" font-size="3.0" text-anchor="end" font-weight="bold" fill="#000" stroke="#000" stroke-width="0.22">10<tspan font-size="2" dy="-1.1">4</tspan></text>
<text x="16.80" y="160.00" font-size="3.0" text-anchor="middle" font-weight="bold" fill="#000" stroke="#000" stroke-width="0.22">10<tspan font-size="2" dy="-1.1">0</tspan></text>
<text x="16.00" y="126.80" font-size="3.0" text-anchor="end" font-weight="bold" fill="#000" stroke="#000" stroke-width="0.22">10<tspan font-size="2" dy="-1.1">3</tspan></text>
<text x="31.50" y="160.00" font-size="3.0" text-anchor="middle" font-weight="bold" fill="#000" stroke="#000" stroke-width="0.22">10<tspan font-size="2" dy="-1.1">1</tspan></text>
<text x="16.00" y="137.20" font-size="3.0" text-anchor="end" font-weight="bold" fill="#000" stroke="#000" stroke-width="0.22">10<tspan font-size="2" dy="-1.1">2</tspan></text>
<text x="46.20" y="160.00" font-size="3.0" text-anchor="middle" font-weight="bold" fill="#000" stroke="#000" stroke-width="0.22">10<tspan font-size="2" dy="-1.1">2</tspan></text>
<text x="16.00" y="147.60" font-size="3.0" text-anchor="end" font-weight="bold" fill="#000" stroke="#000" stroke-width="0.22">10<tspan font-size="2" dy="-1.1">1</tspan></text>
<text x="60.90" y="160.00" font-size="3.0" text-anchor="middle" font-weight="bold" fill="#000" stroke="#000" stroke-width="0.22">10<tspan font-size="2" dy="-1.1">3</tspan></text>
<text x="16.00" y="158.00" font-size="3.0" text-anchor="end" font-weight="bold" fill="#000" stroke="#000" stroke-width="0.22">10<tspan font-size="2" dy="-1.1">0</tspan></text>
<text x="75.60" y="160.00" font-size="3.0" text-anchor="middle" font-weight="bold" fill="#000" stroke="#000" stroke-width="0.22">10<tspan font-size="2" dy="-1.1">4</tspan></text>
<text x="36.40" y="120.00" font-size="4.25" text-anchor="start" font-weight="bold" fill="#111" stroke="#111" stroke-width="0.22">WT Control</text>
<text x="54.20" y="126.10" font-size="4.9" text-anchor="middle" font-weight="bold" fill="#111" stroke="#111" stroke-width="0.22">6</text>
<rect x="85.30" y="144.00" width="19.30" height="12.40" fill="#0a0a0a"/>
<path d="M104.3 148.7h.8M109.7 146.8h.8M108.4 145.2h.8M107.5 153.0h.8M107.2 152.4h.8M104.8 154.3h.8M104.8 155.4h.8M134.6 155.6h.8M108.2 147.6h.8M106.5 153.3h.8M107.9 155.5h.8M104.6 150.0h.8M115.1 151.4h.8M108.4 145.1h.8M104.9 147.4h.8M116.4 154.5h.8M105.5 155.5h.8M104.3 151.4h.8M122.9 148.3h.8M120.0 152.1h.8M104.4 148.1h.8M107.4 147.1h.8M111.6 146.2h.8M112.6 147.7h.8M104.5 150.9h.8M104.7 150.8h.8M112.6 151.4h.8M107.5 144.4h.8M108.1 145.2h.8M109.8 145.6h.8M108.8 148.4h.8M106.7 152.2h.8M105.1 146.1h.8M119.7 148.1h.8M114.3 154.8h.8M107.7 145.8h.8M104.6 154.9h.8M104.8 150.2h.8M108.3 145.5h.8M107.6 146.0h.8M108.3 150.3h.8M106.6 146.5h.8M106.9 146.5h.8M104.8 147.0h.8M115.4 150.2h.8M116.3 144.2h.8M119.9 150.1h.8M112.7 151.1h.8M110.5 146.8h.8M111.7 145.9h.8M105.8 144.4h.8M106.8 150.4h.8M106.0 155.0h.8M104.6 151.2h.8M105.6 151.4h.8M112.5 152.8h.8M104.5 147.0h.8M109.1 156.2h.8M104.3 151.7h.8M110.6 154.1h.8M106.4 154.1h.8M107.5 155.4h.8M104.2 155.7h.8M107.0 149.0h.8M104.6 147.0h.8M111.4 152.4h.8M105.0 148.3h.8M104.9 146.5h.8M105.5 148.1h.8M124.6 156.4h.8M112.7 149.9h.8M107.9 153.7h.8M117.2 153.3h.8M109.7 146.5h.8M109.5 154.5h.8M112.6 145.1h.8M111.1 148.3h.8M105.1 156.0h.8M110.2 153.2h.8M104.9 154.3h.8M119.3 155.2h.8M111.6 154.3h.8M113.0 151.3h.8M107.2 154.2h.8M112.5 154.8h.8M106.1 155.9h.8M108.3 155.7h.8M104.8 156.0h.8M112.6 147.1h.8M114.1 146.9h.8M105.3 149.7h.8M105.6 150.1h.8M117.2 152.5h.8M110.9 148.9h.8M112.5 153.8h.8M110.4 155.7h.8M113.7 149.0h.8M104.6 152.1h.8M114.1 148.2h.8M109.1 154.4h.8M112.8 144.1h.8M107.8 144.2h.8M104.7 154.1h.8M107.1 151.5h.8M107.5 148.2h.8M105.4 148.4h.8M114.3 151.7h.8M106.0 145.1h.8M105.8 152.7h.8M107.3 152.2h.8M113.2 145.5h.8M110.4 144.5h.8M113.6 146.3h.8M105.8 155.9h.8M106.6 146.8h.8M116.2 151.6h.8M116.4 148.9h.8M107.9 155.9h.8M108.0 156.3h.8M105.3 154.3h.8M105.1 150.5h.8M104.1 146.2h.8M120.1 149.6h.8M113.2 147.1h.8M106.5 145.3h.8M108.5 154.7h.8M108.1 148.7h.8M118.6 155.1h.8M110.1 144.9h.8M109.5 149.5h.8M121.5 148.5h.8M110.1 151.8h.8M106.7 150.5h.8M110.3 155.2h.8M107.9 148.5h.8M124.7 144.7h.8M114.0 152.5h.8M108.6 149.6h.8M111.7 155.0h.8M111.3 153.3h.8M104.3 148.0h.8M104.9 155.8h.8M116.3 145.8h.8M109.0 151.2h.8M104.4 148.9h.8M111.7 152.0h.8M105.9 153.5h.8M106.0 150.7h.8M107.1 156.1h.8M109.9 154.0h.8M110.3 148.7h.8M122.2 152.8h.8M110.6 147.4h.8M105.1 151.1h.8M113.7 153.8h.8M106.4 145.7h.8M108.1 154.9h.8M105.1 153.2h.8M105.1 147.9h.8M104.4 147.7h.8M106.8 156.0h.8M122.1 146.3h.8M106.1 155.7h.8M105.3 148.0h.8M107.3 145.3h.8M105.8 148.9h.8M106.8 155.9h.8M105.8 146.5h.8M117.3 149.6h.8M114.1 151.9h.8M112.4 147.9h.8M105.0 153.4h.8M107.6 150.9h.8M110.2 153.3h.8M105.9 148.5h.8M117.8 150.6h.8M106.0 151.8h.8M105.8 153.6h.8M104.3 154.3h.8M108.7 148.4h.8M119.6 147.3h.8M105.6 144.9h.8M108.5 153.3h.8M110.3 149.1h.8M113.2 145.4h.8M106.1 152.0h.8M122.9 151.9h.8M110.6 153.6h.8M106.9 155.7h.8M111.6 148.2h.8M106.8 154.0h.8M106.5 146.3h.8M115.4 150.6h.8M108.2 152.3h.8M116.8 145.7h.8M106.4 144.8h.8M107.0 150.2h.8M114.6 152.3h.8M108.8 149.0h.8M108.8 147.4h.8M114.3 153.8h.8M114.1 145.9h.8M110.2 153.4h.8M107.9 155.1h.8M116.7 153.2h.8M113.6 152.0h.8M115.7 145.6h.8M110.8 152.7h.8M109.3 147.4h.8M104.5 151.5h.8M113.7 147.4h.8M105.4 146.8h.8M104.6 152.4h.8M124.4 153.9h.8M106.6 152.7h.8M104.5 154.4h.8M106.3 144.0h.8M109.6 145.7h.8M105.9 144.7h.8M107.3 150.9h.8M113.2 144.5h.8M113.8 145.4h.8M105.5 151.8h.8M106.4 148.1h.8M108.7 146.7h.8M112.8 146.6h.8M114.2 154.0h.8M108.3 144.4h.8M112.4 144.4h.8M108.0 149.3h.8M104.5 151.8h.8M111.2 151.3h.8M106.9 150.3h.8M109.0 146.8h.8M115.2 156.3h.8M113.1 155.9h.8M106.3 156.2h.8M104.5 149.9h.8M104.9 149.6h.8M110.4 152.8h.8M107.4 148.2h.8M105.3 149.0h.8M105.9 146.4h.8M111.4 150.4h.8M107.3 146.5h.8M110.8 146.4h.8M105.8 150.9h.8M110.7 156.1h.8M111.7 155.8h.8M118.0 153.0h.8M111.1 144.8h.8M105.4 144.2h.8M115.1 153.0h.8M109.6 147.3h.8M106.5 146.0h.8M109.6 156.3h.8M106.1 144.5h.8M105.2 148.4h.8M116.7 154.0h.8M107.4 145.3h.8M104.7 145.9h.8M112.4 149.8h.8M129.8 155.3h.8M112.8 149.9h.8M113.6 145.6h.8M104.7 151.0h.8M108.0 146.6h.8M105.7 144.3h.8M117.3 152.8h.8M120.1 156.2h.8M107.3 153.1h.8M106.8 154.1h.8M114.2 145.7h.8M104.2 146.7h.8M108.9 148.7h.8M104.2 154.3h.8M112.6 149.8h.8M104.3 155.0h.8M108.3 144.9h.8M106.2 151.7h.8M116.0 150.0h.8M109.7 146.6h.8M105.6 155.2h.8M106.8 145.3h.8M109.0 145.6h.8M105.3 149.7h.8M108.9 151.9h.8M110.9 149.5h.8M104.5 153.0h.8M104.4 149.8h.8M106.9 152.3h.8M111.0 147.0h.8M109.9 152.6h.8M107.6 145.8h.8M117.3 151.4h.8M104.5 147.0h.8M127.9 146.8h.8M106.8 153.8h.8M113.6 151.9h.8M111.5 144.5h.8M104.6 156.1h.8M113.0 144.5h.8M104.4 147.0h.8M118.8 146.7h.8M110.2 155.5h.8M109.7 155.4h.8M105.8 145.9h.8M104.2 153.4h.8M104.7 156.1h.8M110.9 146.3h.8M113.1 146.0h.8M108.0 145.3h.8M112.6 155.0h.8M117.7 144.0h.8M114.6 150.9h.8M113.6 150.2h.8M109.4 151.4h.8M112.9 145.0h.8M104.4 150.8h.8M106.0 148.9h.8M104.1 153.2h.8M104.2 154.3h.8M113.3 149.7h.8M104.8 152.1h.8M105.4 149.3h.8M104.7 156.1h.8M108.4 148.4h.8M104.6 153.1h.8M114.5 154.5h.8M104.7 148.6h.8M106.1 153.5h.8M105.0 151.5h.8M125.2 153.5h.8M104.1 144.9h.8M104.8 152.6h.8M109.1 150.4h.8M107.4 149.1h.8M109.3 152.0h.8M117.7 153.1h.8M112.9 155.3h.8M114.1 152.9h.8M104.3 152.4h.8M114.5 149.3h.8M115.7 146.2h.8M119.8 149.5h.8M110.8 147.1h.8M106.1 148.3h.8M106.3 145.2h.8M107.3 156.2h.8M109.9 155.6h.8M112.0 154.4h.8M132.5 153.3h.8M105.9 147.1h.8M107.0 144.3h.8M105.5 155.0h.8M118.1 148.1h.8M112.2 153.6h.8M116.2 153.9h.8M108.3 145.3h.8M113.7 147.9h.8M109.5 148.6h.8M108.3 156.0h.8M105.1 150.6h.8M109.9 150.7h.8M119.4 149.1h.8M117.6 152.6h.8M122.9 145.1h.8M105.4 147.6h.8M117.1 144.2h.8M105.8 152.9h.8M129.3 146.2h.8M107.3 152.5h.8M110.6 153.3h.8M111.8 147.1h.8M105.7 144.3h.8M110.6 146.6h.8M105.8 156.0h.8M109.8 151.3h.8M110.0 151.4h.8M110.6 147.8h.8M104.5 144.8h.8M104.2 148.5h.8M104.9 145.4h.8M107.8 156.0h.8M110.5 147.4h.8M112.2 146.2h.8M104.7 147.8h.8M107.0 152.6h.8M107.3 153.0h.8M104.6 155.6h.8M106.4 154.3h.8M104.3 154.3h.8M105.5 154.6h.8M113.0 152.3h.8M105.9 144.1h.8M105.3 155.2h.8M105.0 152.2h.8M109.0 152.2h.8M105.2 145.8h.8M104.7 156.2h.8M106.8 152.1h.8M108.7 146.8h.8M104.5 144.2h.8M114.6 145.6h.8M122.2 148.5h.8M111.2 145.7h.8M112.6 147.1h.8M106.6 150.5h.8M104.8 147.1h.8M112.8 147.5h.8M106.7 153.5h.8M105.5 146.4h.8M105.5 148.8h.8M106.6 152.0h.8M107.6 154.8h.8M104.4 152.2h.8M114.1 146.9h.8M104.3 149.4h.8M104.8 149.7h.8M110.9 145.2h.8M104.8 149.9h.8M105.2 146.9h.8M107.3 145.5h.8M104.5 148.5h.8M107.6 155.6h.8M108.6 144.9h.8M105.5 153.2h.8M108.7 154.8h.8M122.2 154.6h.8M104.7 155.7h.8M108.2 147.0h.8M105.1 154.7h.8M105.4 145.0h.8M105.8 155.5h.8M107.5 153.1h.8M104.5 149.6h.8M106.2 146.5h.8M110.1 148.5h.8M104.8 156.2h.8M107.7 146.2h.8M104.2 152.1h.8M108.1 144.3h.8M107.6 153.2h.8M108.3 146.9h.8M107.9 151.5h.8M109.9 145.8h.8M113.1 155.7h.8M111.5 154.6h.8M106.6 155.2h.8M105.2 146.8h.8M109.1 155.2h.8M104.6 146.7h.8M104.3 149.4h.8M104.9 146.4h.8M111.7 151.2h.8M119.5 149.0h.8M110.4 144.2h.8M120.4 146.9h.8M107.7 150.3h.8M120.4 150.1h.8M130.6 151.7h.8M105.4 154.3h.8M105.3 156.4h.8M107.5 146.8h.8M122.0 148.0h.8M107.0 148.3h.8M110.2 144.3h.8M106.7 146.0h.8M113.8 144.0h.8M109.2 147.2h.8M107.4 151.0h.8M110.9 145.7h.8M105.6 145.5h.8M121.8 145.8h.8M104.9 150.5h.8M108.9 155.0h.8M104.4 146.9h.8M105.1 151.3h.8M107.4 149.1h.8M116.2 152.2h.8M114.9 155.9h.8M105.8 155.7h.8M107.0 144.6h.8M117.6 145.3h.8M104.2 147.6h.8M106.0 156.0h.8M115.3 149.2h.8M108.2 154.5h.8M113.1 152.1h.8M108.1 145.4h.8M105.6 152.2h.8M109.0 153.9h.8M116.7 155.9h.8M105.3 144.9h.8M116.6 151.1h.8M105.2 152.6h.8M105.7 146.9h.8M106.6 150.5h.8M110.3 144.9h.8M111.5 151.7h.8M107.6 152.3h.8M112.9 144.1h.8M107.6 152.4h.8M110.9 152.0h.8M105.2 155.9h.8M112.6 146.9h.8M107.2 155.9h.8M105.4 149.1h.8M122.0 155.2h.8M105.6 153.1h.8M106.6 152.2h.8M112.1 145.6h.8M105.5 146.7h.8M105.8 144.4h.8M104.9 149.0h.8M107.1 145.0h.8M108.9 155.7h.8M108.8 148.4h.8M110.8 149.4h.8M105.2 150.0h.8M104.2 152.4h.8M105.1 148.6h.8M122.2 153.5h.8M114.0 152.0h.8M109.6 152.7h.8M122.8 146.4h.8M112.1 147.7h.8M105.7 154.2h.8M109.2 154.5h.8M115.5 151.3h.8M105.3 144.2h.8M108.3 153.0h.8M105.8 144.9h.8M104.1 146.1h.8M110.6 144.0h.8M105.5 147.3h.8M110.9 156.2h.8M104.2 145.4h.8M119.1 156.0h.8M105.0 148.2h.8M108.2 148.0h.8M107.1 149.9h.8M105.7 144.7h.8M104.6 146.0h.8M104.6 151.7h.8M110.7 147.3h.8M112.7 153.0h.8M106.4 150.1h.8M105.2 155.5h.8M108.6 144.6h.8M105.0 152.6h.8M106.8 152.9h.8M105.5 153.9h.8M113.0 145.2h.8M109.0 146.4h.8M110.9 154.0h.8M112.7 146.9h.8M104.6 152.2h.8M108.7 145.7h.8M105.3 151.2h.8M104.7 151.9h.8M105.6 147.2h.8M107.1 150.6h.8M111.2 144.4h.8M111.2 146.7h.8M106.0 151.9h.8M110.6 151.6h.8M116.9 146.5h.8M106.1 152.2h.8M105.8 146.0h.8M105.5 153.6h.8M113.7 152.9h.8M121.6 153.9h.8M106.1 147.9h.8M111.1 144.7h.8M109.3 145.1h.8M104.4 150.4h.8M105.0 155.6h.8M115.6 149.7h.8M105.3 145.5h.8M108.0 150.5h.8M106.6 152.9h.8M108.2 153.6h.8M104.7 144.9h.8M106.8 150.0h.8M105.7 152.3h.8M105.5 147.9h.8M107.7 152.8h.8M112.2 148.6h.8M107.4 155.5h.8M119.0 151.7h.8M104.7 149.7h.8M109.7 147.5h.8M104.3 156.2h.8M117.3 145.6h.8M107.5 151.7h.8M106.1 144.8h.8M111.7 153.6h.8M107.3 145.1h.8M106.9 145.2h.8M122.3 144.6h.8M106.0 153.5h.8M104.9 145.3h.8M104.5 146.0h.8M108.3 154.3h.8M105.1 146.2h.8M112.1 149.3h.8M106.4 145.5h.8M105.6 156.0h.8M104.8 147.2h.8M111.5 155.1h.8M117.0 149.9h.8M121.3 151.5h.8M106.0 149.8h.8M111.0 153.1h.8M104.9 146.4h.8M121.6 145.3h.8M113.3 148.2h.8M105.7 147.2h.8M107.6 156.3h.8M105.0 154.6h.8M106.2 146.1h.8M111.6 148.2h.8M105.2 149.2h.8M113.6 154.7h.8M108.8 144.1h.8M112.0 151.5h.8M116.7 155.8h.8M106.3 154.5h.8M113.5 147.3h.8M106.6 148.6h.8M106.5 148.7h.8M104.7 146.8h.8M117.3 149.1h.8M109.7 155.0h.8M111.8 147.0h.8M118.0 154.0h.8M129.8 153.0h.8M111.8 154.1h.8M105.7 152.1h.8M106.7 154.4h.8M104.9 150.7h.8M106.4 154.2h.8M106.4 154.5h.8M114.5 154.9h.8M104.9 155.6h.8M111.6 152.4h.8M109.9 144.6h.8M115.3 150.8h.8M107.4 148.2h.8M112.5 153.7h.8M115.3 146.7h.8M106.4 147.1h.8M104.7 148.1h.8M104.2 153.9h.8M105.5 144.9h.8M104.5 153.2h.8M105.3 149.7h.8M106.9 153.9h.8M121.0 147.8h.8M109.6 155.1h.8M107.6 155.2h.8M111.4 147.9h.8M115.5 151.1h.8M104.7 151.3h.8M113.8 150.4h.8M107.7 149.2h.8M115.8 152.3h.8M105.4 148.5h.8M106.6 155.9h.8M110.6 145.5h.8M117.6 144.4h.8M109.0 149.4h.8M111.1 149.3h.8M104.6 150.5h.8M113.5 153.8h.8M106.5 146.8h.8M111.6 153.9h.8M105.5 155.0h.8M131.0 149.4h.8M106.7 152.8h.8M118.7 146.5h.8M106.1 148.1h.8M111.3 146.3h.8M108.5 150.2h.8M110.2 145.8h.8M121.4 156.4h.8M108.6 153.9h.8M105.2 155.3h.8M108.5 153.4h.8M115.3 148.5h.8M118.3 146.6h.8M104.2 150.2h.8M116.7 155.2h.8M121.2 150.3h.8M118.9 150.9h.8M105.0 151.8h.8M113.0 149.3h.8M109.2 147.2h.8M105.9 149.2h.8M120.3 147.1h.8M120.5 150.7h.8M121.5 147.9h.8M129.8 150.4h.8M116.3 150.3h.8M128.9 152.3h.8M129.0 152.1h.8M118.6 146.3h.8M115.8 150.4h.8M110.8 149.9h.8M116.1 154.0h.8M126.2 149.3h.8M122.1 155.3h.8M126.0 149.7h.8M117.9 146.3h.8M123.4 153.2h.8M121.0 150.7h.8M116.3 151.0h.8M124.8 146.9h.8M125.9 149.9h.8M124.7 150.7h.8M123.8 151.4h.8M126.4 148.5h.8M121.0 147.2h.8M122.0 153.9h.8M119.8 153.6h.8M118.6 151.7h.8M129.3 151.6h.8M124.2 154.6h.8M125.6 153.4h.8M119.7 148.5h.8M126.5 147.7h.8M129.1 149.1h.8M123.4 153.0h.8M114.7 156.3h.8M121.6 150.1h.8M115.1 145.8h.8M110.4 147.8h.8M125.1 149.3h.8M129.0 147.9h.8M112.1 152.0h.8M120.0 146.5h.8M130.6 151.5h.8M112.7 149.2h.8M115.8 154.0h.8M118.3 148.9h.8M123.5 155.2h.8M130.3 150.7h.8M119.7 148.9h.8M127.8 147.6h.8M121.3 152.6h.8M118.1 148.3h.8M115.4 149.0h.8M126.7 146.4h.8M113.9 150.3h.8M127.3 148.3h.8M125.1 153.6h.8M116.9 150.0h.8M126.9 151.2h.8M117.6 150.2h.8M119.8 150.8h.8M123.2 151.0h.8M117.7 150.6h.8M123.3 150.0h.8M131.6 149.2h.8M107.1 154.0h.8M118.4 151.6h.8M119.8 153.3h.8M118.0 152.2h.8M131.2 152.3h.8M116.1 155.5h.8M128.4 150.5h.8M112.3 151.3h.8M120.8 151.9h.8M122.3 155.1h.8M122.5 149.4h.8M118.8 151.4h.8M124.6 147.0h.8M114.9 153.2h.8M119.9 153.6h.8M120.2 148.7h.8M124.2 151.3h.8M120.8 151.3h.8M124.7 152.1h.8M126.0 150.4h.8M118.8 146.0h.8M119.2 153.6h.8M122.6 151.4h.8M112.9 144.5h.8M125.1 148.3h.8M117.6 144.7h.8M130.6 154.7h.8M110.0 148.9h.8M119.8 151.8h.8M126.8 150.3h.8M120.5 152.1h.8M110.3 150.1h.8M121.0 151.4h.8M114.7 148.6h.8M113.7 150.0h.8M117.1 154.2h.8M117.2 149.3h.8M126.9 149.7h.8M135.1 151.8h.8M110.0 154.4h.8M103.2 149.5h.8M115.8 150.6h.8M116.0 149.1h.8M118.6 152.6h.8M115.2 149.4h.8M128.6 150.5h.8M117.4 150.7h.8M112.6 153.8h.8M116.3 144.2h.8M127.8 154.9h.8M127.0 152.4h.8M124.3 155.0h.8M129.7 145.9h.8M124.8 150.2h.8M131.6 149.6h.8M118.7 145.7h.8M121.5 151.4h.8M130.3 149.9h.8M113.6 153.6h.8M121.0 145.5h.8M116.0 150.6h.8M113.9 152.4h.8M116.1 153.7h.8M118.8 154.1h.8M128.4 153.2h.8M127.5 145.7h.8M118.4 153.3h.8M127.9 148.8h.8M124.5 150.8h.8M119.5 149.2h.8M121.5 154.2h.8M110.0 153.7h.8M122.7 145.8h.8M123.1 150.1h.8M115.2 152.2h.8M119.4 154.0h.8M130.1 151.9h.8M124.0 147.7h.8M121.1 154.0h.8M133.9 145.3h.8M123.0 150.4h.8M135.5 151.6h.8M135.0 144.4h.8M109.8 151.0h.8M112.0 144.7h.8M118.5 149.2h.8M122.1 155.1h.8M115.0 148.4h.8M111.3 150.8h.8M128.3 153.8h.8M106.2 152.0h.8M119.3 148.9h.8M113.5 148.9h.8M123.3 152.7h.8M126.7 148.1h.8M121.3 147.9h.8M127.2 150.7h.8M112.5 153.7h.8M132.6 145.3h.8M133.3 152.1h.8M112.7 147.6h.8M126.5 150.2h.8M122.5 150.9h.8M124.3 149.5h.8M115.0 149.3h.8M115.4 154.5h.8M118.2 144.7h.8M117.6 149.1h.8M115.7 148.4h.8M117.7 152.7h.8M120.2 151.5h.8M120.7 154.2h.8M121.6 151.4h.8M128.5 154.7h.8M129.5 148.2h.8M112.1 148.4h.8M111.9 151.4h.8M128.7 148.9h.8M128.9 153.6h.8M121.5 153.7h.8M116.1 150.7h.8M120.2 151.0h.8M125.0 151.1h.8M118.5 152.6h.8M119.0 153.1h.8M115.8 147.0h.8M136.3 146.6h.8M126.7 155.6h.8M126.1 151.9h.8M120.7 150.4h.8M115.9 152.2h.8M126.1 146.5h.8M120.3 147.3h.8M114.5 153.0h.8M130.0 147.8h.8M119.2 152.3h.8M118.2 151.6h.8M124.1 152.8h.8M128.1 151.0h.8M117.5 146.5h.8M121.0 147.6h.8M118.6 149.9h.8M120.8 153.4h.8M123.5 150.9h.8M132.0 150.7h.8M133.2 150.5h.8M124.0 147.5h.8M122.0 147.8h.8M130.6 151.2h.8M130.6 152.1h.8M120.8 148.9h.8M118.6 151.6h.8M122.2 149.8h.8M123.5 148.6h.8M115.6 149.2h.8M128.4 152.5h.8M119.2 151.9h.8M125.7 147.5h.8M133.8 149.6h.8M114.5 150.9h.8M122.8 154.6h.8M129.9 149.4h.8M118.1 149.7h.8M119.5 147.7h.8M120.8 154.4h.8M127.5 149.7h.8M113.5 152.6h.8M129.5 146.4h.8M125.0 155.9h.8M128.7 152.6h.8M121.2 148.8h.8M123.7 154.3h.8M126.3 153.2h.8M120.9 150.0h.8M130.7 151.0h.8M127.6 149.2h.8M114.7 151.1h.8M115.8 151.7h.8M119.7 147.0h.8M121.0 152.0h.8M130.2 145.0h.8M121.4 148.6h.8M135.7 151.8h.8M114.3 152.6h.8M126.9 153.6h.8M128.2 149.2h.8M113.0 151.4h.8M120.8 149.3h.8M109.7 152.5h.8M124.8 154.2h.8M123.9 150.0h.8M115.2 149.5h.8M115.2 149.9h.8M116.0 153.6h.8M120.1 151.8h.8M121.2 149.6h.8M108.2 149.3h.8M118.2 153.8h.8M113.7 152.6h.8M125.3 150.3h.8M120.6 153.2h.8M105.7 147.7h.8M134.0 151.8h.8M112.1 145.9h.8M108.7 148.6h.8M119.4 147.0h.8M120.2 148.9h.8M126.5 146.5h.8M120.5 150.9h.8M126.3 146.9h.8M121.0 146.6h.8M125.8 151.9h.8M128.5 149.6h.8M132.1 148.9h.8M110.2 148.2h.8M120.6 153.7h.8M117.6 148.7h.8M124.9 146.6h.8M127.0 151.9h.8M114.3 150.2h.8M116.6 147.8h.8M122.9 149.5h.8M126.9 150.6h.8M110.5 151.0h.8M125.7 151.4h.8M111.8 148.5h.8M112.8 149.6h.8M116.2 153.1h.8M124.5 146.0h.8M119.6 155.7h.8M118.6 150.8h.8M126.9 154.6h.8M128.4 150.2h.8M113.6 148.8h.8M124.9 145.7h.8M121.9 155.1h.8M113.4 152.6h.8M115.9 148.2h.8M123.8 152.3h.8M120.4 151.8h.8M125.5 155.6h.8M115.1 147.6h.8M132.2 152.9h.8M116.8 152.3h.8M131.6 149.4h.8M123.4 153.1h.8M117.1 147.2h.8M126.4 150.4h.8M122.4 148.2h.8M125.1 153.3h.8M121.5 150.6h.8M115.3 148.7h.8M112.9 150.7h.8M122.3 148.6h.8M113.2 149.9h.8M125.3 154.5h.8M109.9 150.9h.8M129.7 148.1h.8M118.5 153.0h.8M122.4 147.9h.8M114.1 148.9h.8M120.9 151.0h.8M126.6 148.0h.8M124.2 151.7h.8M119.2 152.7h.8M120.7 151.8h.8M117.3 148.0h.8M117.8 155.6h.8M123.8 151.3h.8M116.3 151.0h.8M113.8 151.4h.8M120.9 148.9h.8M124.3 146.8h.8M113.1 152.5h.8M114.2 146.4h.8M128.7 152.3h.8M124.2 150.5h.8M114.1 151.8h.8M121.0 148.4h.8M122.2 151.8h.8M121.1 152.9h.8M124.5 147.2h.8M124.3 149.3h.8M119.2 152.2h.8M127.9 147.6h.8M121.3 151.8h.8M117.7 152.5h.8M116.8 148.3h.8M128.8 148.2h.8M129.3 149.4h.8M123.4 148.4h.8M114.4 149.2h.8M126.2 152.0h.8M129.2 148.5h.8M126.2 152.8h.8M129.3 148.8h.8M115.0 148.6h.8M123.7 151.3h.8M114.1 151.9h.8M115.6 150.4h.8M119.5 151.9h.8M112.2 147.1h.8M121.2 151.0h.8M124.9 147.6h.8M113.2 150.2h.8M130.4 153.2h.8M127.9 152.1h.8M127.9 149.0h.8M128.7 152.7h.8M126.7 149.2h.8M118.8 148.8h.8M130.2 146.5h.8M118.5 151.2h.8M112.8 151.0h.8M128.0 152.3h.8M113.7 150.5h.8M126.6 152.4h.8M112.6 153.7h.8M124.2 155.2h.8M119.3 149.8h.8M133.6 152.9h.8M132.0 149.9h.8M120.9 152.9h.8M116.6 152.7h.8M112.4 144.6h.8M118.5 152.3h.8M134.4 150.1h.8M122.4 149.9h.8M123.2 154.2h.8M125.1 151.7h.8M123.7 149.8h.8M126.2 156.2h.8M106.8 145.5h.8M125.4 149.1h.8M135.7 152.3h.8M111.3 150.6h.8M123.9 153.8h.8M117.4 145.9h.8M112.7 153.3h.8M129.0 145.3h.8M123.7 148.5h.8M122.3 152.8h.8M119.7 150.3h.8M108.8 150.5h.8M131.1 148.8h.8M123.9 152.0h.8M136.9 148.0h.8M126.8 149.8h.8M121.1 150.6h.8M110.4 152.5h.8M116.8 151.1h.8M126.9 150.0h.8M111.6 147.4h.8M125.5 154.3h.8M133.1 146.9h.8M122.5 150.9h.8M116.9 150.0h.8M115.1 151.0h.8M118.4 149.8h.8M130.2 147.5h.8M121.8 148.6h.8M118.9 150.3h.8M121.3 151.1h.8M116.4 152.3h.8M113.9 147.1h.8M115.7 154.1h.8M129.1 148.9h.8M133.6 151.5h.8M111.6 151.7h.8M114.7 147.0h.8M106.9 151.0h.8M123.9 147.4h.8M125.2 151.7h.8M124.8 152.4h.8M116.3 151.6h.8M124.4 148.7h.8M119.1 146.8h.8M122.4 147.1h.8M123.9 150.7h.8M120.1 152.3h.8M119.3 155.4h.8M123.7 147.1h.8M117.7 151.5h.8M132.2 148.8h.8M130.9 151.0h.8M129.5 148.7h.8M116.1 149.4h.8M121.4 147.6h.8M113.3 152.6h.8M127.9 150.3h.8M118.1 153.7h.8M110.0 152.6h.8M122.6 152.4h.8M123.6 153.4h.8M125.0 150.4h.8M126.6 147.6h.8M122.6 151.6h.8M111.0 152.1h.8M124.1 153.1h.8M121.4 154.1h.8M127.4 152.3h.8M122.8 150.6h.8M114.4 153.2h.8M118.4 150.0h.8M123.4 153.9h.8M118.6 147.5h.8M123.6 151.1h.8M108.9 148.6h.8M121.7 145.2h.8M128.7 146.8h.8M126.3 147.3h.8M118.5 148.4h.8M118.9 144.8h.8M116.5 153.0h.8M108.8 154.6h.8M121.9 146.5h.8M111.9 148.9h.8M121.7 149.0h.8M130.9 150.2h.8M116.7 147.7h.8M113.7 150.1h.8M120.0 148.0h.8M123.2 148.2h.8M117.7 153.5h.8M128.1 149.2h.8M132.3 149.2h.8M128.8 151.0h.8M118.1 150.3h.8M118.7 151.1h.8M120.5 150.0h.8M114.9 151.7h.8M127.0 147.3h.8M121.0 153.1h.8M126.6 148.0h.8M125.8 151.5h.8M129.5 151.9h.8M115.5 150.5h.8M115.8 151.1h.8M122.3 144.7h.8M125.3 151.4h.8M127.8 150.6h.8M115.9 152.5h.8M127.5 144.1h.8M128.0 152.2h.8M118.2 147.6h.8M118.6 153.6h.8M122.6 152.6h.8M118.3 146.4h.8M126.8 152.4h.8M124.6 150.3h.8M119.8 149.3h.8M123.5 149.9h.8M121.3 151.7h.8M124.8 151.6h.8M122.5 151.7h.8M128.5 154.1h.8M130.2 148.5h.8M123.6 150.8h.8M133.5 155.2h.8M124.2 156.3h.8M130.1 147.1h.8M125.9 151.3h.8M118.8 154.7h.8M125.0 146.4h.8M115.7 149.8h.8M128.6 151.7h.8M127.5 149.7h.8M129.6 149.7h.8M126.1 149.7h.8M119.0 151.6h.8M113.9 150.6h.8M124.3 146.9h.8M120.7 149.9h.8M114.9 145.1h.8M128.3 149.2h.8M108.7 152.6h.8M119.4 152.1h.8M112.9 153.4h.8M111.6 149.3h.8M120.2 151.7h.8M118.0 150.2h.8M130.1 151.6h.8M127.9 150.1h.8M118.3 149.7h.8M118.5 146.2h.8M122.5 150.1h.8M119.3 153.2h.8M136.5 148.0h.8M125.4 147.2h.8M128.2 150.2h.8M111.7 147.3h.8M126.0 148.5h.8M115.8 152.1h.8M123.8 150.7h.8M131.8 148.9h.8M106.1 153.5h.8M109.5 149.9h.8M132.5 147.9h.8M122.0 146.8h.8M129.7 153.6h.8M110.6 149.6h.8M117.6 152.6h.8M128.1 151.1h.8M126.8 151.8h.8M123.4 150.0h.8M116.6 152.0h.8M116.4 151.9h.8M116.6 150.1h.8M127.6 153.6h.8M121.6 150.1h.8M121.8 152.3h.8M121.1 150.8h.8M126.0 151.8h.8M121.6 149.5h.8M112.8 148.2h.8M121.0 148.6h.8M135.2 151.6h.8M118.9 150.8h.8M120.0 149.1h.8M109.6 149.2h.8M113.4 151.1h.8M117.6 148.2h.8M119.8 148.9h.8M123.6 149.4h.8M112.9 151.2h.8M112.1 144.9h.8M112.5 151.9h.8M113.3 147.3h.8M134.3 149.5h.8M123.3 148.1h.8M129.9 154.4h.8M117.2 146.8h.8M108.1 151.0h.8M114.1 145.5h.8M123.7 149.9h.8M124.0 146.5h.8M113.0 150.5h.8M131.0 151.7h.8M119.0 152.7h.8M126.8 146.7h.8M134.8 153.7h.8M121.0 151.6h.8M112.2 154.2h.8M136.5 151.0h.8M123.4 149.9h.8M121.5 147.4h.8M121.9 153.4h.8M119.2 153.5h.8M111.9 148.6h.8M118.6 149.3h.8M128.2 147.0h.8M126.8 147.8h.8M107.5 151.2h.8M126.7 151.8h.8M121.3 153.4h.8M123.4 152.8h.8M112.5 156.0h.8M118.5 147.1h.8M116.7 153.4h.8M121.6 150.1h.8M130.1 153.9h.8M124.3 148.0h.8M126.4 149.3h.8M122.8 149.8h.8M109.5 149.2h.8M119.2 145.5h.8M113.4 155.5h.8M120.2 156.4h.8M124.9 149.2h.8M116.6 155.4h.8M115.2 152.2h.8M118.1 147.9h.8M118.2 149.0h.8M131.6 148.4h.8M117.1 144.4h.8M112.9 153.7h.8M122.4 145.9h.8M117.7 154.6h.8M119.3 146.2h.8M122.4 145.9h.8M119.0 150.9h.8M120.7 147.8h.8M133.1 155.4h.8M125.3 154.7h.8M122.9 151.1h.8M116.5 148.9h.8M124.3 149.4h.8M113.4 148.4h.8M117.5 144.1h.8M112.7 151.8h.8M105.4 150.5h.8M128.9 148.4h.8M125.0 151.1h.8M117.3 145.6h.8M117.1 151.0h.8M120.6 150.0h.8M128.6 152.1h.8M119.6 152.1h.8M116.7 152.9h.8M123.4 151.3h.8M124.0 148.9h.8M130.6 149.1h.8M119.5 151.6h.8M113.8 153.9h.8M130.5 151.4h.8M117.0 155.5h.8M116.7 150.5h.8M121.4 154.2h.8M112.1 154.6h.8M127.5 151.1h.8M112.0 154.7h.8M104.8 147.8h.8M132.0 152.7h.8M118.4 148.6h.8M112.1 152.7h.8M114.3 150.1h.8M126.0 148.9h.8M120.2 154.4h.8M110.6 150.7h.8M131.1 149.7h.8M118.2 151.4h.8M110.2 150.0h.8M123.9 149.4h.8M132.0 145.1h.8M123.6 151.2h.8M123.7 146.8h.8M132.0 151.1h.8M123.3 150.5h.8M118.3 149.8h.8M118.7 150.5h.8M130.7 152.6h.8M116.3 149.7h.8M121.6 149.2h.8M125.2 151.6h.8M111.1 151.2h.8M113.3 150.0h.8M117.9 148.6h.8M124.7 149.5h.8M131.5 151.0h.8M126.7 149.2h.8M133.8 148.2h.8M115.4 145.5h.8M131.2 153.5h.8M118.5 145.0h.8M115.8 150.4h.8M126.1 153.3h.8M125.7 150.7h.8M129.3 147.5h.8M121.9 153.8h.8M109.5 149.4h.8M123.4 147.2h.8M113.0 154.4h.8M116.7 149.2h.8M128.4 149.7h.8M129.4 155.5h.8M117.0 156.0h.8M107.1 155.4h.8M121.7 154.8h.8M115.1 156.3h.8M103.8 154.5h.8M126.9 148.6h.8M127.1 146.6h.8M124.9 149.8h.8M115.0 146.4h.8M126.3 153.1h.8M105.7 156.1h.8M109.5 148.7h.8M115.1 151.1h.8M128.9 155.7h.8M121.5 148.5h.8M106.2 144.9h.8M118.1 151.2h.8M116.1 156.2h.8M115.1 148.4h.8M115.2 146.1h.8M130.3 151.3h.8M118.8 149.3h.8M110.4 147.9h.8M117.4 149.5h.8M131.5 151.0h.8M109.1 144.7h.8M107.7 148.3h.8M125.8 155.0h.8M110.0 153.7h.8M115.9 150.7h.8M118.6 144.5h.8M105.0 152.3h.8M123.1 148.7h.8M129.8 154.2h.8M111.9 144.8h.8M119.1 152.1h.8M109.6 144.5h.8M117.2 144.4h.8M124.5 151.8h.8M111.2 149.5h.8M109.9 146.3h.8M108.4 154.1h.8M116.2 152.9h.8M113.2 154.0h.8M120.4 152.1h.8M114.5 151.0h.8M108.6 156.1h.8M122.6 150.6h.8M121.6 145.2h.8M112.8 146.9h.8M127.6 144.2h.8M116.0 154.8h.8M125.8 152.9h.8M111.8 146.9h.8M123.5 147.7h.8M124.1 148.3h.8M125.2 151.1h.8M126.7 156.2h.8M114.1 156.2h.8M103.4 154.9h.8M104.0 150.8h.8M114.4 153.5h.8M112.2 146.6h.8M125.8 150.8h.8M125.0 150.1h.8M104.2 153.6h.8M109.4 149.9h.8M103.1 147.2h.8M122.4 153.5h.8M121.6 149.5h.8M124.3 152.3h.8M109.1 150.6h.8M120.4 153.0h.8M108.8 147.9h.8M113.0 145.2h.8M113.2 153.0h.8M119.9 146.1h.8M124.3 145.4h.8M124.9 145.8h.8M105.9 147.1h.8M118.0 147.3h.8M128.7 155.6h.8M111.3 153.3h.8M123.3 151.0h.8M110.5 155.8h.8M130.8 144.2h.8M112.7 148.0h.8M108.9 149.3h.8M129.1 144.3h.8M127.3 147.8h.8M103.5 155.2h.8M111.0 146.6h.8M106.5 148.6h.8M106.6 146.2h.8M110.4 151.2h.8M116.0 147.8h.8M118.4 153.6h.8M124.1 148.3h.8M129.7 153.8h.8M119.4 149.9h.8M112.7 145.7h.8M128.8 151.5h.8M106.0 155.5h.8M128.8 144.4h.8M123.4 147.0h.8M118.6 154.3h.8M113.3 150.2h.8M122.4 146.4h.8M121.3 149.3h.8M131.6 146.3h.8M123.7 144.5h.8M111.1 145.5h.8M107.4 150.6h.8M108.2 153.9h.8M105.9 151.7h.8M128.1 145.6h.8M109.4 153.5h.8M116.7 155.6h.8M112.9 148.9h.8M130.9 148.3h.8M131.1 155.0h.8M108.9 150.8h.8M130.4 145.5h.8M127.7 153.6h.8M124.8 151.4h.8M106.0 155.9h.8M106.1 153.7h.8M124.1 147.9h.8M123.0 149.1h.8M124.9 144.5h.8M130.2 148.8h.8M126.4 149.8h.8M126.7 147.7h.8M118.9 144.3h.8M117.3 145.0h.8M128.0 152.4h.8M115.4 156.1h.8M130.6 155.9h.8M105.5 152.7h.8M124.2 151.5h.8M103.6 155.5h.8M115.8 151.4h.8M126.7 147.4h.8M103.9 155.4h.8M110.9 144.5h.8M107.1 156.3h.8M124.6 146.6h.8M107.3 155.1h.8M122.4 151.2h.8M106.9 149.1h.8M130.5 144.0h.8M115.3 144.7h.8M132.0 145.3h.8M130.8 154.4h.8M124.3 144.5h.8M123.3 150.1h.8M117.3 145.8h.8M118.0 153.9h.8M106.9 154.9h.8M115.3 147.3h.8M110.0 149.7h.8M121.9 151.1h.8M128.9 150.3h.8M118.0 156.3h.8M109.3 144.2h.8M112.6 147.9h.8M106.7 149.2h.8M104.1 155.4h.8M117.1 154.9h.8M123.3 153.1h.8M125.1 147.7h.8M124.2 146.6h.8M119.2 151.4h.8M125.6 146.1h.8M113.1 154.2h.8M126.4 156.1h.8M106.5 146.6h.8M106.2 153.0h.8M124.7 152.0h.8M125.7 150.4h.8M119.4 155.4h.8M121.9 152.1h.8M120.2 150.1h.8M125.0 151.1h.8M106.8 149.3h.8M115.3 149.4h.8M119.4 148.5h.8M114.4 149.3h.8M113.9 156.1h.8M105.7 144.2h.8M124.0 148.9h.8M116.1 151.3h.8M113.7 147.0h.8M103.5 154.8h.8M130.3 147.5h.8M116.6 148.0h.8M104.8 155.1h.8M127.4 147.0h.8M110.5 152.7h.8M126.2 149.8h.8M114.3 146.9h.8M126.2 154.7h.8M128.0 145.4h.8M120.3 156.2h.8M123.8 149.7h.8M107.3 144.8h.8M124.3 144.9h.8M126.6 152.3h.8M116.8 155.1h.8M130.1 151.6h.8M106.0 151.3h.8M115.3 147.1h.8M130.0 153.1h.8M106.6 146.8h.8M113.0 151.1h.8M112.5 149.5h.8M126.7 146.3h.8M124.0 148.1h.8M130.5 155.8h.8" stroke="#111" stroke-width="0.8" fill="none"/>
<path d="M91.8 140.5h.8M96.5 137.7h.8M96.8 138.7h.8M97.0 142.8h.8M88.4 142.2h.8M95.7 140.7h.8M96.7 138.0h.8M101.4 137.9h.8M96.1 143.4h.8M90.9 143.1h.8M90.7 139.4h.8M93.7 140.0h.8M89.5 141.4h.8M88.5 142.4h.8M92.9 137.0h.8M99.1 136.5h.8M93.0 138.8h.8M99.3 137.1h.8M101.8 139.2h.8M90.5 134.3h.8M97.8 142.6h.8M92.7 143.4h.8M101.2 139.7h.8M92.3 141.2h.8M95.1 135.6h.8M89.8 140.8h.8M97.7 137.5h.8M95.4 131.4h.8M93.6 143.8h.8M87.5 143.7h.8M100.1 138.5h.8M95.5 141.2h.8M91.2 138.6h.8M91.0 135.9h.8M99.5 132.4h.8M98.0 135.3h.8M88.2 136.3h.8M87.0 140.8h.8M95.2 138.7h.8M100.1 136.7h.8M90.4 139.7h.8M102.8 143.8h.8M87.1 136.7h.8M102.8 143.4h.8M88.3 128.5h.8M97.3 133.6h.8M91.3 130.8h.8M88.0 139.4h.8M102.7 130.3h.8M97.1 141.3h.8M90.9 138.1h.8M87.8 141.6h.8M96.6 143.8h.8M92.2 140.7h.8M101.9 136.1h.8M90.5 138.2h.8M97.3 134.3h.8M94.9 137.0h.8M88.2 129.3h.8M89.2 143.5h.8M94.3 134.4h.8M95.6 141.6h.8M94.2 127.2h.8M87.0 143.2h.8M91.6 142.7h.8M88.7 132.8h.8M88.5 135.6h.8M91.2 136.7h.8M88.1 134.2h.8M97.8 141.8h.8M88.5 141.8h.8M99.0 143.5h.8M88.7 142.9h.8M93.7 142.5h.8M96.8 142.4h.8M96.8 140.8h.8M87.1 141.8h.8M92.2 140.0h.8M104.5 142.2h.8M101.2 140.2h.8M97.2 143.1h.8M87.7 144.0h.8M103.5 143.0h.8M92.0 141.7h.8M87.4 142.5h.8M100.0 142.9h.8M103.6 140.2h.8M91.9 141.7h.8M99.7 141.0h.8M93.0 143.3h.8M102.6 142.9h.8M94.9 143.2h.8M92.0 142.1h.8M96.0 143.9h.8M92.6 139.4h.8M99.7 140.4h.8M101.1 141.5h.8M96.8 142.9h.8M103.7 142.7h.8M102.0 143.7h.8M89.4 143.1h.8M105.4 140.1h.8M96.3 143.0h.8M96.8 141.8h.8M96.9 143.4h.8M87.2 143.1h.8M88.2 143.5h.8M99.3 141.5h.8M99.7 140.9h.8M104.7 143.7h.8M90.2 143.9h.8M101.5 142.4h.8M101.3 141.8h.8M88.6 139.3h.8M100.8 143.2h.8M93.6 142.2h.8M105.3 143.8h.8M101.6 143.2h.8M100.5 142.3h.8M95.4 143.4h.8M103.6 142.0h.8M99.5 141.3h.8M102.0 143.1h.8M96.3 143.7h.8M104.0 143.9h.8M100.2 139.7h.8M88.4 143.7h.8M92.3 143.1h.8M93.1 140.0h.8M106.0 143.6h.8M87.9 143.5h.8M86.9 142.2h.8M90.7 143.2h.8M94.6 139.8h.8M102.7 141.7h.8M96.9 142.2h.8M97.8 143.4h.8M92.5 138.6h.8M100.4 143.2h.8M102.5 143.0h.8M92.5 143.5h.8M87.9 138.3h.8M102.7 141.0h.8M105.2 143.7h.8M85.8 142.5h.8M91.0 141.5h.8M91.6 143.1h.8M99.3 141.2h.8M91.5 142.9h.8M100.6 142.7h.8M95.1 140.8h.8M94.9 143.9h.8M95.0 143.4h.8M98.1 142.3h.8M103.6 140.0h.8M103.1 143.0h.8M89.0 141.7h.8M90.9 143.5h.8M87.6 137.7h.8M85.4 142.8h.8M118.6 141.7h.8M106.0 142.2h.8M126.7 141.7h.8M111.7 142.9h.8M128.2 142.1h.8M118.4 143.0h.8M117.2 142.7h.8M122.2 138.0h.8M105.8 142.9h.8M112.8 140.6h.8M128.0 143.4h.8M109.7 137.9h.8M110.0 142.5h.8M117.7 141.5h.8M127.4 141.1h.8M127.7 142.1h.8M124.4 142.2h.8M103.6 138.6h.8M109.7 140.6h.8M112.6 141.9h.8M121.5 142.6h.8M120.1 139.1h.8M105.0 140.5h.8M121.2 142.7h.8M105.1 142.4h.8M129.0 142.6h.8M123.8 141.0h.8M128.3 140.9h.8M110.2 142.1h.8M116.6 139.7h.8M120.5 143.0h.8M125.0 140.9h.8M125.2 141.8h.8M108.3 143.1h.8M117.1 143.0h.8M118.0 140.2h.8M114.5 139.3h.8M107.9 140.8h.8M114.3 141.8h.8M103.2 140.4h.8M106.5 141.4h.8M109.7 141.8h.8M126.0 139.1h.8M107.6 139.5h.8M118.7 143.3h.8M112.6 141.0h.8M109.3 143.1h.8M118.4 141.8h.8M105.1 143.2h.8M121.2 142.1h.8M114.5 142.4h.8M128.7 142.5h.8M115.5 141.6h.8M107.3 140.5h.8M111.5 141.3h.8M123.8 143.0h.8M119.4 142.4h.8M114.9 142.5h.8M122.5 142.9h.8M120.5 142.6h.8M119.0 142.5h.8M122.8 140.8h.8M120.9 143.0h.8M118.9 142.1h.8M115.2 142.7h.8M117.4 137.5h.8M117.6 138.9h.8M111.6 142.8h.8M122.3 140.2h.8M109.5 140.2h.8M113.3 135.3h.8M127.5 140.3h.8M125.6 142.1h.8M108.4 139.7h.8M104.8 137.9h.8M111.1 139.6h.8M119.5 142.8h.8M127.3 143.3h.8M105.0 143.3h.8M104.1 142.9h.8M116.8 143.2h.8M119.5 142.1h.8M113.9 139.1h.8M128.1 141.4h.8M117.2 140.9h.8M109.9 143.4h.8M109.6 143.2h.8M111.4 141.4h.8M104.0 141.6h.8M110.9 140.2h.8M105.9 140.7h.8M123.4 141.2h.8M114.0 141.6h.8M114.5 138.3h.8M127.0 143.1h.8" stroke="#333" stroke-width="0.75" fill="none"/>
<rect x="85.30" y="114.80" width="58.80" height="41.60" fill="none" stroke="#111" stroke-width="0.9"/>
<line x1="103.50" y1="114.80" x2="103.50" y2="144.00" stroke="#111" stroke-width="0.9"/>
<line x1="85.30" y1="144.50" x2="144.10" y2="144.50" stroke="#111" stroke-width="0.9"/>
<text x="84.50" y="116.40" font-size="3.0" text-anchor="end" font-weight="bold" fill="#000" stroke="#000" stroke-width="0.22">10<tspan font-size="2" dy="-1.1">4</tspan></text>
<text x="85.30" y="160.00" font-size="3.0" text-anchor="middle" font-weight="bold" fill="#000" stroke="#000" stroke-width="0.22">10<tspan font-size="2" dy="-1.1">0</tspan></text>
<text x="84.50" y="126.80" font-size="3.0" text-anchor="end" font-weight="bold" fill="#000" stroke="#000" stroke-width="0.22">10<tspan font-size="2" dy="-1.1">3</tspan></text>
<text x="100.00" y="160.00" font-size="3.0" text-anchor="middle" font-weight="bold" fill="#000" stroke="#000" stroke-width="0.22">10<tspan font-size="2" dy="-1.1">1</tspan></text>
<text x="84.50" y="137.20" font-size="3.0" text-anchor="end" font-weight="bold" fill="#000" stroke="#000" stroke-width="0.22">10<tspan font-size="2" dy="-1.1">2</tspan></text>
<text x="114.70" y="160.00" font-size="3.0" text-anchor="middle" font-weight="bold" fill="#000" stroke="#000" stroke-width="0.22">10<tspan font-size="2" dy="-1.1">2</tspan></text>
<text x="84.50" y="147.60" font-size="3.0" text-anchor="end" font-weight="bold" fill="#000" stroke="#000" stroke-width="0.22">10<tspan font-size="2" dy="-1.1">1</tspan></text>
<text x="129.40" y="160.00" font-size="3.0" text-anchor="middle" font-weight="bold" fill="#000" stroke="#000" stroke-width="0.22">10<tspan font-size="2" dy="-1.1">3</tspan></text>
<text x="84.50" y="158.00" font-size="3.0" text-anchor="end" font-weight="bold" fill="#000" stroke="#000" stroke-width="0.22">10<tspan font-size="2" dy="-1.1">0</tspan></text>
<text x="144.10" y="160.00" font-size="3.0" text-anchor="middle" font-weight="bold" fill="#000" stroke="#000" stroke-width="0.22">10<tspan font-size="2" dy="-1.1">4</tspan></text>
<text x="105.00" y="120.00" font-size="4.25" text-anchor="start" font-weight="bold" fill="#111" stroke="#111" stroke-width="0.22">WT G-CSF</text>
<text x="123.00" y="126.10" font-size="4.9" text-anchor="middle" font-weight="bold" fill="#111" stroke="#111" stroke-width="0.22">52</text>
<rect x="16.80" y="194.60" width="19.30" height="13.70" fill="#0a0a0a"/>
<path d="M42.9 204.2h.8M36.4 195.1h.8M45.4 203.8h.8M41.1 198.9h.8M37.3 207.2h.8M39.8 194.9h.8M37.9 199.4h.8M36.0 208.0h.8M48.4 205.8h.8M35.6 200.3h.8M36.3 204.5h.8M44.7 205.4h.8M44.2 196.3h.8M35.7 195.9h.8M45.8 206.0h.8M39.6 197.8h.8M46.3 196.2h.8M37.8 194.6h.8M58.0 200.3h.8M43.7 205.6h.8M40.4 208.1h.8M43.8 207.3h.8M53.8 195.7h.8M43.2 197.7h.8M37.8 199.3h.8M60.2 195.4h.8M38.7 196.4h.8M42.3 201.7h.8M43.6 199.2h.8M38.5 204.8h.8M42.3 206.8h.8M37.6 206.2h.8M42.9 202.5h.8M38.5 202.4h.8M36.0 195.9h.8M37.7 196.3h.8M35.9 204.4h.8M42.8 203.0h.8M36.9 204.5h.8M45.2 203.1h.8M37.0 202.3h.8M38.4 198.3h.8M36.5 206.4h.8M41.1 207.4h.8M36.6 198.2h.8M39.5 195.4h.8M37.6 202.0h.8M39.2 207.1h.8M40.3 203.3h.8M40.4 205.4h.8M38.1 194.6h.8M57.3 205.5h.8M36.3 196.1h.8M37.0 203.6h.8M36.4 194.9h.8M39.3 194.7h.8M37.2 199.8h.8M36.9 194.6h.8M37.3 197.9h.8M37.8 200.3h.8M38.1 199.0h.8M35.7 206.1h.8M43.0 201.4h.8M35.6 197.8h.8M48.3 200.9h.8M36.9 205.8h.8M47.8 196.3h.8M39.4 202.3h.8M36.3 199.0h.8M40.9 203.8h.8M41.0 203.1h.8M38.2 195.5h.8M35.7 206.1h.8M46.6 207.0h.8M36.0 205.1h.8M36.6 199.3h.8M36.8 206.4h.8M45.0 206.0h.8M38.2 207.4h.8M37.3 202.5h.8M41.8 197.8h.8M38.2 196.0h.8M44.4 197.1h.8M36.4 198.4h.8M41.2 203.3h.8M39.7 206.3h.8M43.3 197.5h.8M39.8 196.9h.8M37.1 196.6h.8M36.0 199.4h.8M47.6 203.6h.8M36.1 197.6h.8M40.5 201.9h.8M35.7 195.9h.8M40.2 202.8h.8M36.1 205.2h.8M37.1 202.7h.8M39.7 199.3h.8M51.7 200.0h.8M38.6 202.0h.8M45.7 208.1h.8M43.7 202.0h.8M42.5 203.3h.8M53.2 207.9h.8M43.4 197.6h.8M40.2 200.6h.8M37.0 205.3h.8M37.0 204.3h.8M39.3 200.4h.8M42.3 204.5h.8M60.7 208.3h.8M44.5 198.2h.8M41.7 201.4h.8M51.1 200.7h.8M38.0 195.0h.8M39.1 201.9h.8M37.6 196.0h.8M39.2 195.6h.8M36.6 200.7h.8M38.0 201.5h.8M39.8 199.9h.8M36.4 194.9h.8M40.1 207.9h.8M37.4 199.4h.8M37.7 204.8h.8M39.3 205.5h.8M35.6 196.4h.8M36.9 199.7h.8M38.4 199.9h.8M54.1 200.6h.8M40.3 207.8h.8M41.2 202.7h.8M45.3 199.2h.8M35.8 207.7h.8M39.8 202.6h.8M36.0 204.8h.8M38.2 203.4h.8M37.4 207.2h.8M38.1 198.4h.8M47.9 197.7h.8M37.3 201.3h.8M57.4 196.2h.8M36.9 205.5h.8M36.0 200.3h.8M44.0 204.4h.8M44.3 196.2h.8M47.7 199.5h.8M44.9 201.1h.8M47.8 201.1h.8M37.2 196.7h.8M39.4 195.3h.8M36.6 206.6h.8M40.3 206.4h.8M36.5 201.2h.8M39.1 196.1h.8M37.3 207.2h.8M42.7 201.6h.8M40.8 206.4h.8M52.5 202.7h.8M35.9 206.5h.8M36.6 197.9h.8M36.4 201.6h.8M40.4 200.9h.8M39.1 196.5h.8M42.6 202.0h.8M37.6 206.0h.8M51.0 207.2h.8M58.7 195.5h.8M38.3 200.8h.8M37.2 204.8h.8M48.5 196.5h.8M39.5 207.9h.8M47.7 200.8h.8M36.2 200.9h.8M39.6 205.4h.8M36.7 198.4h.8M58.6 194.8h.8M40.8 195.9h.8M43.2 200.4h.8M49.9 197.7h.8M47.1 197.7h.8M35.9 195.8h.8M36.0 199.9h.8M55.3 199.5h.8M42.5 195.1h.8M39.6 202.0h.8M36.2 202.5h.8M38.8 199.1h.8M45.4 204.1h.8M36.3 196.1h.8M35.9 198.2h.8M41.2 207.9h.8M54.7 206.4h.8M36.3 205.4h.8M43.5 201.1h.8M65.6 202.8h.8M36.3 197.6h.8M36.4 203.0h.8M41.0 206.4h.8M35.7 194.7h.8M55.4 198.2h.8M37.3 206.5h.8M36.2 205.5h.8M48.1 202.3h.8M40.8 194.7h.8M40.7 203.0h.8M43.7 201.7h.8M36.3 197.6h.8M41.4 195.7h.8M36.2 198.0h.8M44.4 202.1h.8M38.0 207.8h.8M40.4 197.9h.8M40.2 206.3h.8M38.1 200.6h.8M40.3 208.1h.8M41.2 197.1h.8M40.4 199.0h.8M39.1 204.4h.8M35.7 201.6h.8M37.7 202.8h.8M45.1 201.0h.8M41.1 198.6h.8M37.2 201.6h.8M39.8 197.7h.8M43.6 201.4h.8M38.0 198.1h.8M45.6 207.0h.8M50.9 198.0h.8M36.0 203.3h.8M35.7 206.3h.8M41.9 199.2h.8M38.8 204.0h.8M36.6 199.6h.8M44.1 203.9h.8M40.4 196.0h.8M36.9 198.1h.8M35.8 203.4h.8M40.3 207.3h.8M40.0 207.2h.8M39.1 201.7h.8M37.4 201.0h.8M50.8 201.3h.8M35.6 199.4h.8M36.8 203.1h.8M39.5 201.1h.8M50.0 205.0h.8M36.1 195.0h.8M42.2 202.8h.8M41.4 201.5h.8M35.8 200.8h.8M45.5 202.8h.8M35.8 196.3h.8M48.5 202.1h.8M36.6 204.3h.8M49.8 206.5h.8M41.3 205.7h.8M36.1 200.9h.8M44.7 199.3h.8M36.5 206.5h.8M42.3 194.7h.8M36.0 202.2h.8M52.5 203.1h.8M47.1 196.0h.8M40.3 197.1h.8M37.8 196.6h.8M39.0 195.2h.8M41.5 203.5h.8M48.5 205.1h.8M36.0 206.5h.8M39.9 207.4h.8M39.3 195.7h.8M42.3 197.0h.8M58.4 202.0h.8M48.4 201.3h.8M37.8 203.7h.8M42.4 200.9h.8M37.4 200.4h.8M42.5 197.7h.8M36.5 201.2h.8M41.5 195.5h.8M37.3 207.9h.8M37.3 205.2h.8M37.6 195.8h.8M39.3 206.5h.8M43.9 195.3h.8M42.3 203.1h.8M39.2 203.7h.8M39.7 197.1h.8M42.1 196.4h.8M37.6 206.3h.8M40.2 201.6h.8M42.4 201.3h.8M38.3 202.2h.8M35.7 199.4h.8M35.8 208.2h.8M48.7 203.6h.8M36.5 206.3h.8M37.4 205.6h.8M41.4 202.9h.8M43.0 198.3h.8M45.5 202.0h.8M43.4 206.1h.8M37.2 200.2h.8M38.1 195.7h.8M47.1 204.0h.8M39.3 202.1h.8M47.3 195.6h.8M38.0 204.0h.8M39.8 201.4h.8M37.2 197.7h.8M41.7 199.3h.8M50.8 207.0h.8M54.9 198.4h.8M39.6 196.0h.8M38.0 195.6h.8M39.4 207.7h.8M43.5 199.6h.8M37.4 207.4h.8M35.9 206.2h.8M46.3 195.5h.8M52.2 203.5h.8M38.3 200.4h.8M40.8 201.8h.8M46.7 206.9h.8M37.8 194.7h.8M43.9 203.5h.8M41.5 195.6h.8M36.0 206.9h.8M38.1 201.1h.8M55.5 197.3h.8M41.1 195.4h.8M40.1 204.7h.8M36.5 205.0h.8M54.6 205.9h.8M44.2 207.6h.8M42.5 202.1h.8M45.2 205.6h.8M41.1 203.8h.8M36.7 199.2h.8M37.8 206.4h.8M44.0 198.6h.8M63.6 195.4h.8M36.0 199.1h.8M36.0 207.6h.8M38.0 199.9h.8M46.2 201.9h.8M41.1 200.6h.8M39.0 207.7h.8M37.4 201.8h.8M39.2 196.5h.8M36.5 201.5h.8M44.4 200.5h.8M35.9 207.4h.8M36.4 206.7h.8M35.9 203.5h.8M36.5 198.2h.8M38.6 204.9h.8M38.7 200.3h.8M38.4 201.7h.8M37.4 207.7h.8M36.8 196.4h.8M40.0 199.4h.8M42.6 195.1h.8M41.8 199.6h.8M50.0 198.7h.8M38.7 198.9h.8M39.8 198.4h.8M41.7 200.2h.8M42.4 198.6h.8M39.0 202.2h.8M42.6 203.5h.8M38.7 195.8h.8M36.3 196.6h.8M36.7 197.1h.8M41.6 199.3h.8M48.7 197.8h.8M37.2 197.1h.8M36.5 203.9h.8M40.4 198.0h.8M44.7 203.9h.8M38.7 202.9h.8M41.5 200.6h.8M36.1 199.6h.8M51.7 199.7h.8M41.2 195.8h.8M43.8 206.4h.8M38.2 199.7h.8M39.6 198.1h.8M36.9 196.4h.8M42.0 201.6h.8M52.8 207.8h.8M47.0 207.5h.8M45.6 194.9h.8M36.4 208.0h.8M47.0 203.0h.8M40.9 200.6h.8M38.6 196.6h.8M40.0 198.4h.8M36.3 206.5h.8M40.3 206.6h.8M37.5 202.5h.8M37.4 206.0h.8M36.9 203.5h.8M40.1 199.1h.8M36.1 201.3h.8M39.7 205.8h.8M36.8 197.1h.8M37.6 205.6h.8M37.1 203.3h.8M35.8 195.7h.8M42.4 201.4h.8M36.3 201.1h.8M51.1 200.0h.8M40.1 200.4h.8M39.5 195.2h.8M47.4 202.5h.8M37.9 198.5h.8M36.7 207.4h.8M45.7 199.8h.8M40.7 202.2h.8M36.8 195.1h.8M42.9 196.8h.8M40.2 194.8h.8M35.7 196.8h.8M41.4 203.0h.8M61.6 203.6h.8M39.7 194.8h.8M53.0 201.3h.8M46.3 195.2h.8M45.5 201.1h.8M36.9 200.2h.8M36.0 202.6h.8M37.0 204.2h.8M36.6 204.1h.8M40.9 204.4h.8M52.1 198.6h.8M41.9 200.0h.8M47.9 205.9h.8M43.5 202.8h.8M37.3 207.0h.8M54.7 207.6h.8M37.9 205.9h.8M41.8 206.1h.8M44.5 200.8h.8M38.4 205.5h.8M41.4 202.0h.8M47.0 195.0h.8M35.7 201.0h.8M36.2 206.1h.8M36.1 206.7h.8M37.0 196.4h.8M43.3 203.9h.8M38.5 202.8h.8M40.0 207.6h.8M39.5 202.0h.8M39.0 200.2h.8M42.0 196.1h.8M42.1 207.3h.8M43.5 202.0h.8M38.0 195.9h.8M36.1 202.0h.8M47.3 206.5h.8M36.7 204.9h.8M44.7 201.2h.8M46.3 197.2h.8M37.8 201.6h.8M42.7 200.7h.8M37.6 206.5h.8M38.3 200.3h.8M37.0 201.2h.8M42.3 199.6h.8M41.6 201.4h.8M35.7 207.8h.8M37.5 202.1h.8M53.1 197.4h.8M36.0 197.4h.8M36.5 206.3h.8M39.6 195.2h.8M37.3 201.6h.8M36.7 198.8h.8M48.5 200.7h.8M37.1 202.8h.8M36.3 201.7h.8M41.3 195.8h.8M40.0 198.8h.8M43.1 203.0h.8M48.8 202.9h.8M36.7 197.1h.8M42.3 205.7h.8M36.0 200.3h.8M37.4 201.0h.8M46.9 202.3h.8M43.1 205.1h.8M37.4 203.1h.8M38.2 201.1h.8M39.8 203.7h.8M36.6 206.1h.8M36.6 198.9h.8M46.0 208.1h.8M38.1 207.6h.8M35.8 207.7h.8M36.8 195.1h.8M43.5 196.8h.8M43.3 194.7h.8M36.3 199.5h.8M36.1 201.1h.8M37.9 204.7h.8M39.3 207.8h.8M45.8 196.9h.8M49.3 206.9h.8M40.2 201.8h.8M36.6 199.0h.8M37.0 197.3h.8M40.8 199.0h.8M43.6 202.5h.8M45.3 195.8h.8M45.9 201.6h.8M41.1 197.9h.8M42.1 200.2h.8M42.6 202.6h.8M36.4 198.7h.8M43.3 194.8h.8M41.1 202.1h.8M42.5 199.1h.8M39.2 201.1h.8M43.2 195.6h.8M39.5 198.2h.8M40.5 198.2h.8M36.9 197.8h.8M48.0 199.6h.8M47.3 204.7h.8M37.3 202.2h.8M35.6 207.4h.8M41.1 196.1h.8M39.6 201.4h.8M41.7 198.6h.8M48.8 203.1h.8M36.0 205.8h.8M47.5 198.8h.8M42.4 206.4h.8M47.4 195.6h.8M45.6 198.0h.8M44.5 204.0h.8M39.0 207.0h.8M44.5 208.2h.8M53.1 202.5h.8M42.9 203.8h.8M38.4 201.4h.8M39.5 197.6h.8M37.3 206.2h.8M45.9 204.2h.8M42.0 201.6h.8M40.3 203.7h.8M35.6 200.7h.8M54.8 197.4h.8M39.1 195.7h.8M37.2 205.9h.8M35.8 205.5h.8M44.4 206.5h.8M37.2 207.4h.8M38.2 200.8h.8M52.2 202.1h.8M41.9 196.1h.8M35.6 198.2h.8M36.2 205.9h.8M37.2 207.7h.8M41.8 197.2h.8M42.4 199.0h.8M39.7 195.6h.8M45.4 205.4h.8M40.4 204.1h.8M37.9 196.3h.8M37.8 204.7h.8M40.2 196.4h.8M37.1 201.1h.8M35.7 195.2h.8M38.9 196.4h.8M47.7 196.4h.8M43.2 205.5h.8M37.7 202.0h.8M62.2 203.1h.8M38.3 208.0h.8M37.3 207.7h.8M37.6 200.4h.8M37.7 203.5h.8M47.4 204.0h.8M36.7 208.2h.8M42.7 201.5h.8M46.0 196.1h.8M40.6 205.4h.8M43.8 203.8h.8M36.0 201.2h.8M37.3 202.9h.8M38.4 200.8h.8M39.8 202.7h.8M47.8 198.5h.8M37.4 197.1h.8M36.3 206.2h.8M49.5 196.3h.8M38.1 207.0h.8M46.6 208.0h.8M62.5 198.8h.8M36.0 198.0h.8M39.4 194.8h.8M37.2 201.1h.8M41.9 196.7h.8M36.3 199.1h.8M36.1 196.3h.8M36.2 205.6h.8M47.2 195.2h.8M44.6 206.2h.8M41.4 198.7h.8M45.0 195.7h.8M35.9 207.7h.8M37.0 207.1h.8M43.3 195.2h.8M36.1 203.5h.8M36.5 203.7h.8M41.7 197.8h.8M39.2 197.5h.8M46.9 203.2h.8M42.1 203.1h.8M35.9 206.7h.8M43.9 201.7h.8M40.5 201.3h.8M43.3 201.9h.8M37.4 201.7h.8M36.9 194.7h.8M39.6 206.5h.8M42.6 197.5h.8M39.5 202.6h.8M40.4 200.9h.8M39.5 204.0h.8M47.3 201.7h.8M44.0 203.9h.8M36.3 198.1h.8M37.7 199.5h.8M39.3 198.6h.8M38.2 204.2h.8M49.8 196.8h.8M41.1 207.7h.8M38.2 206.6h.8M44.6 199.0h.8M36.5 205.6h.8M38.6 199.4h.8M39.0 204.6h.8M48.0 207.2h.8M43.6 197.0h.8M38.1 194.7h.8M36.8 199.3h.8M36.7 201.1h.8M36.4 203.5h.8M38.5 198.0h.8M42.0 199.1h.8M35.7 206.1h.8M43.3 206.6h.8M37.5 198.2h.8M42.2 196.6h.8M54.3 203.5h.8M40.0 195.3h.8M37.4 200.4h.8M57.3 196.6h.8M40.5 195.7h.8M55.1 204.8h.8M44.8 204.9h.8M36.7 197.9h.8M35.8 202.2h.8M36.1 197.2h.8M36.7 207.2h.8M44.2 198.5h.8M55.0 196.8h.8M36.4 199.8h.8M44.6 196.0h.8M44.2 202.1h.8M44.4 199.2h.8M35.8 196.0h.8M42.7 201.5h.8M43.5 197.3h.8M37.4 197.5h.8M46.1 204.2h.8M36.5 204.5h.8M35.8 201.0h.8M37.2 205.1h.8M42.6 204.0h.8M36.8 195.2h.8M41.2 204.1h.8M35.7 206.1h.8M48.1 199.5h.8M39.6 203.5h.8M49.9 203.5h.8M39.6 205.1h.8M39.3 195.1h.8M40.0 200.3h.8M37.8 200.0h.8M37.0 198.9h.8M43.2 206.7h.8M39.0 206.2h.8M59.2 203.8h.8M55.3 197.5h.8M53.7 202.7h.8M61.2 200.9h.8M53.4 199.9h.8M59.7 203.8h.8M48.3 204.6h.8M51.9 198.3h.8M49.2 200.0h.8M65.0 207.7h.8M50.6 200.2h.8M56.3 202.7h.8M53.7 198.0h.8M54.0 200.1h.8M48.4 202.1h.8M49.8 197.7h.8M61.7 203.9h.8M61.5 202.0h.8M54.0 201.5h.8M50.2 203.5h.8M56.7 201.0h.8M48.1 201.5h.8M62.2 205.1h.8M59.2 200.9h.8M56.2 203.0h.8M56.4 204.2h.8M53.0 196.3h.8M45.9 199.6h.8M50.1 203.3h.8M60.0 201.7h.8M57.8 201.9h.8M56.3 200.6h.8M54.0 204.5h.8M54.6 201.6h.8M60.5 204.0h.8M54.1 202.3h.8M51.6 202.0h.8M56.9 201.7h.8M56.3 202.6h.8M45.5 199.8h.8M56.0 200.6h.8M51.8 201.2h.8M62.1 201.2h.8M53.0 200.6h.8M50.9 202.9h.8M51.7 203.9h.8M59.3 203.1h.8M59.8 201.5h.8M48.6 201.6h.8M58.2 198.1h.8M50.7 204.3h.8M57.4 204.9h.8M58.3 201.9h.8M57.4 203.7h.8M55.5 201.2h.8M56.9 201.0h.8M65.4 199.9h.8M49.5 198.7h.8M59.9 200.8h.8M56.3 201.2h.8M56.8 198.3h.8M56.0 200.4h.8M60.0 203.2h.8M50.6 199.5h.8M57.9 204.5h.8M58.7 201.4h.8M60.1 196.2h.8M53.5 199.4h.8M51.5 203.0h.8M56.8 202.4h.8M55.1 203.2h.8M58.8 200.4h.8M59.4 199.5h.8M62.8 198.7h.8M54.5 199.2h.8M55.8 204.8h.8M52.6 205.9h.8M61.4 202.6h.8M53.3 203.8h.8M44.1 199.9h.8M59.5 201.6h.8M65.7 200.1h.8M50.3 201.2h.8M58.0 205.7h.8M48.5 202.1h.8M60.8 200.1h.8M53.8 198.9h.8M58.8 203.7h.8M58.0 202.3h.8M59.7 201.4h.8M58.6 203.6h.8M60.9 202.9h.8M56.0 203.4h.8M49.4 197.6h.8M62.2 202.0h.8M51.4 200.4h.8M55.0 201.9h.8M52.5 204.1h.8M51.2 205.6h.8M58.4 197.8h.8M50.7 201.9h.8M56.8 200.7h.8M55.7 202.1h.8M51.0 201.9h.8M64.9 200.2h.8M51.5 203.3h.8M61.2 204.2h.8M53.1 201.5h.8M56.5 201.2h.8M57.3 204.3h.8M57.9 201.7h.8M54.8 205.9h.8M50.6 206.5h.8M58.7 201.9h.8M52.6 206.1h.8M60.6 203.9h.8M64.2 197.5h.8M56.1 201.0h.8M52.7 201.9h.8M57.9 203.0h.8M55.1 198.6h.8M58.0 203.2h.8M64.4 203.9h.8M55.7 199.0h.8M66.9 200.1h.8M56.5 203.5h.8M57.7 204.9h.8M51.4 200.1h.8M56.4 198.8h.8M53.1 205.0h.8M56.9 201.5h.8M53.3 201.8h.8M55.5 199.2h.8M58.9 198.7h.8M60.9 200.9h.8M46.2 198.0h.8M56.8 199.7h.8M63.1 205.0h.8M64.4 203.8h.8M61.2 200.3h.8M61.0 200.7h.8M55.5 198.5h.8M55.9 202.7h.8M55.4 199.1h.8M59.4 203.9h.8M55.3 203.6h.8M59.8 199.4h.8M55.5 197.3h.8M51.4 202.7h.8M52.0 202.7h.8M57.2 196.8h.8M53.6 205.3h.8M55.7 202.0h.8M52.7 197.9h.8M54.9 199.7h.8M56.1 197.1h.8M61.5 205.8h.8M52.5 202.5h.8M51.9 203.8h.8M52.1 201.4h.8M61.1 203.0h.8M54.3 198.1h.8M49.0 204.6h.8M57.8 201.9h.8M60.9 202.1h.8M52.6 201.5h.8M55.2 201.7h.8M66.1 203.1h.8M56.8 201.1h.8M52.8 199.4h.8M47.8 200.6h.8M49.3 197.3h.8M51.7 196.9h.8M61.4 204.7h.8M51.6 206.6h.8M58.4 195.7h.8M55.7 199.3h.8M48.3 201.1h.8M60.5 202.8h.8M49.5 200.1h.8M52.5 204.5h.8M55.2 199.4h.8M51.8 197.0h.8M52.1 203.9h.8M47.6 202.2h.8M55.2 203.7h.8M50.8 203.9h.8M62.2 207.2h.8M48.8 201.7h.8M54.8 202.0h.8M51.5 203.8h.8M65.5 205.3h.8M51.6 200.3h.8M58.7 202.0h.8M52.4 204.7h.8M57.8 204.2h.8M54.9 204.8h.8M53.7 199.0h.8M55.6 198.4h.8M60.9 203.5h.8M48.6 202.1h.8M59.2 200.9h.8M57.4 200.3h.8M55.3 201.5h.8M57.7 199.4h.8M50.9 202.5h.8M53.5 203.0h.8M53.5 198.6h.8M58.7 202.4h.8M58.7 200.9h.8M54.1 204.8h.8M48.5 205.9h.8M57.8 201.6h.8M56.0 203.2h.8M52.4 202.4h.8M51.6 197.3h.8M56.5 202.0h.8M58.4 203.1h.8M58.6 203.6h.8M51.2 204.6h.8M66.9 200.4h.8M50.3 203.4h.8M59.5 204.2h.8M62.1 198.4h.8M57.2 202.8h.8M60.9 199.6h.8M55.7 200.8h.8M54.9 201.4h.8M55.0 197.5h.8M55.5 201.9h.8M52.7 200.1h.8M51.9 205.6h.8M59.5 201.3h.8M51.5 202.9h.8M53.1 205.3h.8M60.3 201.4h.8M58.2 199.8h.8M48.9 203.8h.8M62.5 201.0h.8M53.4 197.4h.8M64.7 198.8h.8M51.5 201.3h.8M60.7 201.9h.8M55.5 201.8h.8M59.2 201.6h.8M56.3 201.5h.8M50.9 205.0h.8M52.7 198.5h.8M53.8 201.8h.8M59.1 198.2h.8M50.3 202.2h.8M57.2 199.1h.8M50.8 202.1h.8M55.0 197.8h.8M51.9 205.3h.8M51.1 204.3h.8M49.1 205.3h.8M62.4 200.2h.8M52.7 203.2h.8M50.4 203.1h.8M60.8 202.4h.8M57.0 201.3h.8M59.8 199.7h.8M62.3 201.7h.8M54.2 197.8h.8M53.7 202.3h.8M60.9 197.8h.8M55.1 200.1h.8M50.6 201.7h.8M52.4 203.8h.8M44.2 203.5h.8M47.6 197.0h.8M57.8 200.9h.8M56.1 199.4h.8M51.2 200.0h.8M55.4 199.7h.8M53.8 199.7h.8M56.6 199.0h.8M46.8 195.4h.8M55.5 202.0h.8M59.7 199.9h.8M50.8 198.1h.8M58.8 200.2h.8M59.8 201.5h.8M54.4 197.2h.8M52.7 203.6h.8M53.0 203.4h.8M48.7 204.2h.8M67.3 204.4h.8M57.0 198.8h.8M53.4 200.1h.8M56.4 196.9h.8M52.0 203.6h.8M56.2 203.5h.8M59.2 199.0h.8M49.9 202.8h.8M55.7 201.9h.8M52.2 204.2h.8M57.7 204.5h.8M54.1 203.4h.8M55.4 199.5h.8M55.3 197.7h.8M54.8 202.2h.8M58.5 199.2h.8M50.0 200.0h.8M46.9 200.1h.8M66.6 202.1h.8M52.4 200.1h.8M63.1 198.9h.8M55.1 201.5h.8M52.5 200.0h.8M48.5 199.7h.8M61.1 205.1h.8M54.4 203.4h.8M57.5 202.0h.8M55.0 204.7h.8M58.0 201.2h.8M54.6 204.0h.8M53.1 200.0h.8M54.4 200.5h.8M60.9 202.6h.8M55.2 200.5h.8M61.6 202.8h.8M64.4 203.9h.8M54.7 200.4h.8M54.4 202.2h.8M58.9 202.9h.8M62.2 198.1h.8M55.7 198.3h.8M51.3 200.3h.8M52.9 199.4h.8M49.2 204.5h.8M54.3 204.0h.8M50.9 196.1h.8M53.1 203.8h.8M53.2 202.7h.8M51.1 205.1h.8M57.4 204.3h.8M54.4 204.8h.8M55.9 200.5h.8M52.9 201.9h.8M51.8 198.8h.8M56.1 203.4h.8M54.4 203.7h.8M62.3 198.7h.8M56.7 199.4h.8M52.9 202.2h.8M45.6 203.2h.8M59.1 203.0h.8M58.3 206.1h.8M54.1 204.4h.8M61.7 202.9h.8M48.1 201.3h.8M54.4 197.8h.8M55.3 203.5h.8M54.5 201.3h.8M61.8 200.2h.8M51.6 201.8h.8M60.3 203.2h.8M55.9 200.5h.8M60.8 203.9h.8M48.3 202.5h.8M45.5 205.3h.8M58.2 200.2h.8M50.2 201.0h.8M48.2 203.1h.8M53.4 197.5h.8M55.5 204.6h.8M50.2 200.9h.8M63.2 202.2h.8M53.3 202.2h.8M58.9 199.3h.8M55.2 197.8h.8M48.9 198.0h.8M59.2 202.5h.8M58.7 204.6h.8M55.8 202.3h.8M57.3 202.8h.8M51.1 201.1h.8M55.0 201.8h.8M52.4 201.4h.8M56.8 202.2h.8M58.1 203.7h.8M57.9 204.0h.8M59.1 205.1h.8M58.2 200.2h.8M65.4 204.4h.8M60.9 203.5h.8M55.8 199.0h.8M57.4 200.9h.8M53.9 196.6h.8M62.1 198.9h.8M51.0 202.8h.8M58.0 199.8h.8M55.6 202.3h.8M56.3 203.0h.8M58.9 200.8h.8M48.8 206.9h.8M54.0 199.3h.8M58.8 203.1h.8M53.0 207.4h.8M45.7 204.8h.8M55.4 202.5h.8M56.9 201.2h.8M56.9 198.6h.8M53.9 206.2h.8M44.7 204.7h.8M46.2 199.7h.8M59.3 200.7h.8M53.2 198.1h.8M55.1 201.3h.8M52.9 198.0h.8M56.3 202.7h.8M60.4 203.0h.8M62.0 204.6h.8M43.7 205.7h.8M55.2 199.2h.8M57.4 204.0h.8M49.1 198.7h.8M58.5 200.4h.8M61.7 202.2h.8M53.3 198.5h.8M58.1 197.6h.8M50.1 198.6h.8M62.8 205.8h.8M54.7 200.8h.8M58.5 204.7h.8M52.2 207.0h.8M54.7 204.4h.8M45.6 201.6h.8M52.7 206.5h.8M54.7 198.7h.8M63.8 200.1h.8M55.6 198.7h.8M58.5 202.2h.8M54.4 200.8h.8M53.2 200.0h.8M49.7 204.6h.8M59.4 198.4h.8M50.7 202.7h.8M65.1 201.2h.8M54.3 201.1h.8M56.6 201.3h.8M60.2 204.1h.8M57.9 205.5h.8M54.6 200.4h.8M68.2 197.1h.8M49.0 196.0h.8M57.1 199.1h.8M60.1 196.7h.8M55.0 200.8h.8M51.0 204.4h.8M53.9 202.8h.8M53.4 202.1h.8M53.7 201.9h.8M55.2 200.1h.8M57.4 201.3h.8M51.5 199.2h.8M57.5 204.9h.8M50.1 200.7h.8M57.5 204.2h.8M58.6 198.9h.8M55.7 203.9h.8M56.6 201.2h.8M50.6 202.1h.8M55.3 201.8h.8M61.9 204.6h.8M52.2 202.3h.8M54.3 202.0h.8M62.5 203.9h.8M55.8 200.1h.8M54.9 202.6h.8M53.5 204.4h.8M55.7 198.9h.8M64.2 194.7h.8M54.5 201.4h.8M59.8 204.4h.8M61.7 205.5h.8M56.9 202.0h.8M59.9 201.7h.8M50.3 200.6h.8M58.4 203.2h.8M50.9 204.6h.8M56.9 198.1h.8M57.6 204.1h.8M57.8 201.0h.8M52.2 204.4h.8M56.6 201.7h.8M53.9 199.2h.8M47.7 200.9h.8M60.3 203.6h.8M52.7 205.4h.8M54.6 199.3h.8M59.7 205.1h.8M54.0 198.8h.8M55.3 195.9h.8M55.8 205.4h.8M56.8 200.0h.8M58.6 200.5h.8M60.9 200.9h.8M64.2 200.9h.8M56.4 199.5h.8M50.2 202.6h.8M57.1 199.4h.8M58.0 200.7h.8M53.3 201.5h.8M57.3 203.5h.8M60.8 202.6h.8M52.5 200.1h.8M57.2 198.8h.8M54.9 200.8h.8M55.2 202.2h.8M60.0 205.7h.8M59.3 204.2h.8M51.1 204.2h.8M61.1 198.5h.8M66.2 200.4h.8M45.6 206.0h.8M55.9 199.8h.8M53.2 204.3h.8M56.7 200.8h.8M60.5 199.5h.8M52.0 200.4h.8M52.4 203.4h.8M54.6 199.2h.8M53.7 196.9h.8M56.3 202.0h.8M58.2 201.2h.8M57.3 199.5h.8M55.7 202.1h.8M50.5 203.1h.8M56.2 201.8h.8M53.6 206.5h.8M55.6 199.9h.8M52.0 203.1h.8M54.7 199.8h.8M52.5 204.0h.8M56.0 204.3h.8M55.5 198.9h.8M59.3 202.5h.8M52.8 201.0h.8M51.5 203.7h.8M53.8 202.9h.8M56.7 201.1h.8M57.2 201.1h.8M50.6 200.7h.8M50.6 203.5h.8M58.3 200.3h.8M58.2 202.3h.8M59.7 199.5h.8M55.7 199.3h.8M52.7 205.0h.8M47.1 199.5h.8M57.6 203.6h.8M52.3 196.8h.8M48.4 202.6h.8M60.2 203.9h.8M52.5 205.0h.8M54.8 203.2h.8M54.8 205.5h.8M53.4 196.6h.8M54.3 202.2h.8M56.8 200.0h.8M54.6 199.0h.8M54.6 201.9h.8M56.6 205.7h.8M47.2 203.0h.8M57.4 198.9h.8M55.9 201.7h.8M51.4 203.5h.8M63.6 203.3h.8M58.9 204.3h.8M55.1 204.1h.8M52.2 202.2h.8M58.6 204.9h.8M54.4 201.0h.8M57.6 201.5h.8M56.2 203.6h.8M52.4 203.8h.8M57.2 201.1h.8M50.4 200.2h.8M55.4 204.0h.8M47.3 203.4h.8M56.4 199.0h.8M59.2 202.7h.8M57.4 199.4h.8M51.0 203.9h.8M61.5 202.6h.8M54.8 200.6h.8M48.4 204.1h.8M55.2 204.7h.8M52.6 204.2h.8M52.6 203.1h.8M61.3 200.0h.8M59.4 201.7h.8M51.7 202.2h.8M58.3 200.0h.8M54.5 200.4h.8M52.4 201.2h.8M59.0 200.5h.8M60.8 200.8h.8M52.7 204.3h.8M61.5 200.2h.8M58.0 199.0h.8M53.9 200.8h.8M58.6 198.7h.8M53.5 200.1h.8M56.0 198.8h.8M56.5 198.1h.8M59.1 198.6h.8M47.8 205.7h.8M60.8 199.7h.8M51.1 202.9h.8M64.0 203.1h.8M58.3 198.9h.8M48.2 202.6h.8M59.8 202.0h.8M55.6 205.0h.8M52.1 204.3h.8M59.1 200.2h.8M56.1 202.0h.8M58.0 199.4h.8M54.6 201.9h.8M55.7 201.8h.8M56.6 201.3h.8M53.5 204.2h.8M52.9 201.0h.8M51.9 199.0h.8M57.5 201.6h.8M55.0 202.8h.8M54.9 203.3h.8M63.1 202.5h.8M54.5 205.6h.8M58.5 197.8h.8M61.1 202.2h.8M59.1 199.0h.8M52.1 200.2h.8M57.9 199.1h.8M52.7 204.0h.8M52.9 202.0h.8M51.9 197.7h.8M55.3 201.4h.8M49.7 204.0h.8M59.0 203.8h.8M53.5 199.0h.8M55.2 202.1h.8M54.9 200.3h.8M51.5 200.0h.8M55.3 200.6h.8M62.5 201.1h.8M57.5 200.6h.8M54.8 199.4h.8M53.6 198.2h.8M47.0 204.9h.8M51.2 202.7h.8M55.1 200.4h.8M58.6 200.4h.8M57.4 200.9h.8M59.6 204.0h.8M55.9 204.3h.8M57.7 205.4h.8M55.1 198.1h.8M56.5 202.3h.8M54.1 201.2h.8M54.5 198.8h.8M62.7 199.9h.8M51.2 198.0h.8M52.1 201.6h.8M61.7 203.1h.8M52.6 198.8h.8M51.0 201.5h.8M59.2 200.6h.8M62.2 206.3h.8M56.2 196.6h.8M60.1 201.5h.8M58.3 204.0h.8M51.4 201.9h.8M56.3 200.0h.8M58.5 201.4h.8M53.9 206.1h.8M56.3 205.6h.8M55.0 204.2h.8M52.5 202.1h.8M60.0 196.6h.8M57.8 201.1h.8M60.1 202.1h.8M55.3 198.7h.8M67.7 200.0h.8M54.3 200.0h.8M54.3 202.2h.8M50.1 204.2h.8M54.5 203.1h.8M46.9 200.5h.8M54.4 200.8h.8M52.8 202.4h.8M57.3 199.4h.8M47.5 203.4h.8M54.3 204.2h.8M59.2 201.5h.8M49.7 200.9h.8M52.6 204.6h.8M48.6 203.9h.8M49.3 200.4h.8M49.8 200.1h.8M53.8 202.6h.8M53.2 203.3h.8M62.8 202.1h.8M50.9 201.3h.8M55.2 200.9h.8M60.3 204.4h.8M63.8 202.9h.8M44.6 201.4h.8M58.3 199.8h.8M53.1 203.9h.8M56.2 199.1h.8M55.6 198.8h.8M55.4 198.9h.8M51.8 200.5h.8M67.0 198.9h.8M50.7 200.5h.8M59.9 203.6h.8M58.4 201.0h.8M56.1 199.9h.8M54.8 199.8h.8M49.6 199.4h.8M63.5 202.7h.8M52.5 201.5h.8M53.7 204.6h.8M55.5 200.2h.8M58.4 202.5h.8M52.8 199.9h.8M56.1 197.9h.8M51.8 204.1h.8M59.1 204.3h.8M53.7 200.3h.8M54.4 200.6h.8M60.8 201.2h.8M61.1 200.0h.8M57.1 205.5h.8M52.5 200.2h.8M53.1 197.9h.8M54.3 200.2h.8M64.6 200.6h.8M46.8 203.9h.8M59.5 201.6h.8M56.7 203.4h.8M53.3 201.8h.8M56.1 205.6h.8M61.3 202.1h.8M50.1 203.8h.8M55.3 204.5h.8M55.8 202.1h.8M58.2 200.0h.8M52.9 207.1h.8M45.5 202.0h.8M38.7 200.2h.8M60.3 205.9h.8M58.6 207.1h.8M41.4 195.3h.8M38.4 203.5h.8M50.6 199.7h.8M55.5 197.6h.8M52.5 200.3h.8M38.7 205.2h.8M40.0 205.6h.8M57.0 200.6h.8M47.9 197.4h.8M38.7 204.1h.8M45.5 202.3h.8M45.4 198.2h.8M39.4 205.0h.8M47.3 196.7h.8M60.3 196.7h.8M41.3 196.8h.8M51.1 205.3h.8M35.5 207.3h.8M55.3 206.0h.8M47.0 200.6h.8M37.4 198.2h.8M60.2 198.5h.8M61.1 206.0h.8M61.7 196.5h.8M47.0 206.0h.8M43.8 198.0h.8M35.2 201.9h.8M50.8 197.5h.8M42.2 203.3h.8M39.7 205.4h.8M60.2 200.4h.8M38.4 202.4h.8M43.3 196.0h.8M55.5 202.3h.8M42.6 198.0h.8M55.9 207.2h.8M44.9 202.6h.8M41.1 201.0h.8M51.7 198.8h.8M52.4 202.0h.8M35.9 196.2h.8M46.8 196.6h.8M50.7 202.7h.8M53.0 206.7h.8M52.5 205.2h.8M38.0 206.6h.8M61.9 202.7h.8M58.9 202.1h.8M47.4 196.8h.8M48.7 204.4h.8M58.0 206.8h.8M49.8 207.5h.8M45.5 194.9h.8M47.1 202.0h.8M57.3 197.8h.8M35.3 204.5h.8M40.2 206.3h.8M51.2 196.5h.8M49.9 205.2h.8M41.2 207.7h.8M36.3 196.6h.8M52.1 203.9h.8M52.3 207.2h.8M40.5 195.2h.8M50.4 199.4h.8M46.2 200.0h.8M60.5 198.5h.8M54.9 202.4h.8M43.0 207.1h.8M42.1 198.7h.8M40.3 204.2h.8M55.0 199.6h.8M38.1 202.8h.8M44.5 202.1h.8M53.9 194.6h.8M35.9 205.8h.8M60.1 195.8h.8M41.2 200.4h.8M59.1 198.8h.8M62.7 195.8h.8M61.2 195.4h.8M52.3 207.9h.8M55.8 207.1h.8M44.9 207.7h.8M61.2 198.4h.8M57.3 207.2h.8M40.9 200.0h.8M57.3 202.5h.8M61.6 200.5h.8M47.8 196.9h.8M42.7 206.6h.8M42.3 206.9h.8M58.2 202.4h.8M43.5 194.6h.8M38.1 205.9h.8M62.8 207.8h.8M42.8 207.4h.8M47.5 199.6h.8M61.3 205.8h.8M54.6 198.5h.8M37.7 197.1h.8M42.3 197.2h.8M51.4 198.9h.8M40.9 206.6h.8M45.4 194.6h.8M34.9 202.2h.8M35.5 202.2h.8M35.4 201.0h.8M52.8 202.0h.8M41.0 206.1h.8M63.2 205.7h.8M62.0 207.9h.8M45.4 202.0h.8M46.8 205.4h.8M39.5 197.7h.8M47.9 202.1h.8M63.7 199.2h.8M34.7 199.9h.8M60.4 195.9h.8M49.8 202.8h.8M59.3 199.1h.8M52.5 207.6h.8M63.2 202.3h.8M44.5 203.5h.8M56.1 203.9h.8M54.4 199.9h.8M55.7 199.4h.8M41.4 196.0h.8M50.9 196.9h.8M42.9 198.7h.8M45.5 200.3h.8M63.3 201.8h.8M50.7 200.1h.8M50.7 205.8h.8M50.0 201.6h.8M44.9 197.1h.8M40.9 195.8h.8M43.0 195.2h.8M46.8 202.5h.8M38.0 205.0h.8M47.9 203.1h.8M47.2 205.5h.8M54.6 196.3h.8M50.7 198.2h.8M56.6 199.7h.8M41.2 195.1h.8M63.6 196.2h.8M42.0 207.4h.8M36.1 200.2h.8M47.3 203.9h.8M57.6 208.0h.8M44.0 195.8h.8M40.9 194.7h.8M42.5 203.1h.8M60.9 196.0h.8M42.5 206.8h.8M51.9 200.1h.8M36.7 195.4h.8M41.0 203.0h.8M36.3 201.5h.8M58.6 194.6h.8M43.1 200.3h.8M52.5 204.7h.8M54.6 200.5h.8M44.5 203.2h.8M48.1 207.3h.8M50.2 202.6h.8M54.2 201.2h.8M49.1 203.7h.8M52.2 208.3h.8M43.6 201.4h.8M63.3 205.8h.8M50.9 198.8h.8M39.9 200.3h.8M47.1 200.5h.8M42.1 201.2h.8M51.5 196.0h.8M54.0 204.3h.8M40.3 198.0h.8M35.7 201.1h.8M54.4 200.2h.8M51.9 202.9h.8M35.9 195.3h.8M49.5 207.3h.8M55.4 200.7h.8M42.2 196.4h.8M53.6 205.1h.8M46.1 195.8h.8M42.7 204.3h.8M57.3 200.1h.8M60.7 199.9h.8M35.3 197.4h.8M60.8 204.3h.8M37.1 198.5h.8M46.2 201.2h.8M35.3 207.2h.8M50.2 198.2h.8M35.5 202.4h.8M62.0 204.4h.8M59.8 206.6h.8M54.2 195.4h.8M43.7 202.6h.8M46.8 197.6h.8M36.6 206.5h.8M54.2 198.7h.8M48.4 206.6h.8M38.8 203.2h.8M41.5 207.0h.8M58.1 207.6h.8M45.9 201.6h.8M44.1 199.4h.8M62.6 207.9h.8M63.8 207.0h.8M49.0 203.6h.8M61.3 200.5h.8M61.6 205.5h.8" stroke="#111" stroke-width="0.8" fill="none"/>
<path d="M22.6 186.8h.8M20.6 185.1h.8M22.1 193.3h.8M33.1 191.0h.8M34.6 190.5h.8M30.3 186.0h.8M29.3 185.6h.8M19.9 191.1h.8M21.9 190.4h.8M28.9 188.3h.8M21.9 193.3h.8M30.9 178.3h.8M33.5 193.6h.8M26.0 189.4h.8M31.8 192.6h.8M25.9 189.2h.8M27.7 188.6h.8M30.3 194.2h.8M29.0 184.8h.8M26.7 191.2h.8M23.6 183.3h.8M30.8 187.9h.8M25.1 192.8h.8M29.4 179.7h.8M31.4 192.4h.8M33.6 194.1h.8M25.4 192.3h.8M19.5 181.7h.8M27.7 183.6h.8M23.5 187.7h.8M24.1 192.5h.8M28.6 180.2h.8M22.8 194.3h.8M31.3 189.5h.8M29.4 194.4h.8M37.3 192.8h.8M31.3 192.9h.8M28.6 194.2h.8M22.7 193.8h.8M33.8 192.4h.8M36.9 194.0h.8M25.0 193.2h.8M31.5 192.8h.8M32.4 192.1h.8M24.8 194.5h.8M33.0 194.2h.8M25.7 194.3h.8M27.1 194.3h.8M35.5 194.2h.8M32.6 192.5h.8M30.5 193.8h.8M30.8 194.0h.8M29.0 193.1h.8M24.2 194.3h.8M35.6 193.8h.8M30.3 193.8h.8M20.0 193.6h.8M26.4 192.1h.8M33.5 194.3h.8M21.7 193.2h.8M33.5 193.5h.8M24.8 193.9h.8M21.2 194.1h.8M23.3 192.7h.8M19.0 193.5h.8M37.4 193.7h.8M24.8 191.7h.8M31.8 192.6h.8M26.3 193.9h.8M20.0 194.0h.8M26.6 194.2h.8M26.7 194.1h.8M20.4 193.6h.8M30.6 193.9h.8M33.1 193.5h.8M18.4 193.9h.8M21.2 192.9h.8M19.7 193.0h.8M37.1 193.5h.8M28.0 194.0h.8M30.8 194.0h.8M31.8 193.5h.8M26.9 193.1h.8M19.2 194.0h.8M47.0 193.6h.8M48.4 192.7h.8M53.1 191.3h.8" stroke="#333" stroke-width="0.75" fill="none"/>
<rect x="16.80" y="165.80" width="59.20" height="42.50" fill="none" stroke="#111" stroke-width="0.9"/>
<line x1="34.50" y1="165.80" x2="34.50" y2="194.60" stroke="#111" stroke-width="0.9"/>
<line x1="16.80" y1="194.50" x2="76.00" y2="194.50" stroke="#111" stroke-width="0.9"/>
<text x="16.00" y="167.40" font-size="3.0" text-anchor="end" font-weight="bold" fill="#000" stroke="#000" stroke-width="0.22">10<tspan font-size="2" dy="-1.1">4</tspan></text>
<text x="16.80" y="211.90" font-size="3.0" text-anchor="middle" font-weight="bold" fill="#000" stroke="#000" stroke-width="0.22">10<tspan font-size="2" dy="-1.1">0</tspan></text>
<text x="16.00" y="178.03" font-size="3.0" text-anchor="end" font-weight="bold" fill="#000" stroke="#000" stroke-width="0.22">10<tspan font-size="2" dy="-1.1">3</tspan></text>
<text x="31.60" y="211.90" font-size="3.0" text-anchor="middle" font-weight="bold" fill="#000" stroke="#000" stroke-width="0.22">10<tspan font-size="2" dy="-1.1">1</tspan></text>
<text x="16.00" y="188.65" font-size="3.0" text-anchor="end" font-weight="bold" fill="#000" stroke="#000" stroke-width="0.22">10<tspan font-size="2" dy="-1.1">2</tspan></text>
<text x="46.40" y="211.90" font-size="3.0" text-anchor="middle" font-weight="bold" fill="#000" stroke="#000" stroke-width="0.22">10<tspan font-size="2" dy="-1.1">2</tspan></text>
<text x="16.00" y="199.28" font-size="3.0" text-anchor="end" font-weight="bold" fill="#000" stroke="#000" stroke-width="0.22">10<tspan font-size="2" dy="-1.1">1</tspan></text>
<text x="61.20" y="211.90" font-size="3.0" text-anchor="middle" font-weight="bold" fill="#000" stroke="#000" stroke-width="0.22">10<tspan font-size="2" dy="-1.1">3</tspan></text>
<text x="16.00" y="209.90" font-size="3.0" text-anchor="end" font-weight="bold" fill="#000" stroke="#000" stroke-width="0.22">10<tspan font-size="2" dy="-1.1">0</tspan></text>
<text x="76.00" y="211.90" font-size="3.0" text-anchor="middle" font-weight="bold" fill="#000" stroke="#000" stroke-width="0.22">10<tspan font-size="2" dy="-1.1">4</tspan></text>
<text x="36.20" y="171.00" font-size="4.25" text-anchor="start" font-weight="bold" fill="#111" stroke="#111" stroke-width="0.22">Sphk1 KO Control</text>
<text x="54.50" y="177.10" font-size="4.9" text-anchor="middle" font-weight="bold" fill="#111" stroke="#111" stroke-width="0.22">4</text>
<rect x="85.30" y="194.60" width="19.30" height="13.70" fill="#0a0a0a"/>
<path d="M110.2 200.4h.8M126.1 197.5h.8M104.1 202.4h.8M110.6 199.8h.8M106.9 199.3h.8M105.6 205.4h.8M115.0 198.4h.8M108.7 200.9h.8M104.9 204.6h.8M108.3 208.2h.8M117.3 207.0h.8M105.8 196.1h.8M113.2 196.1h.8M110.5 197.0h.8M110.8 195.3h.8M104.6 206.5h.8M108.1 200.8h.8M123.8 205.3h.8M105.5 204.3h.8M106.8 201.0h.8M106.2 197.7h.8M106.1 198.3h.8M105.3 206.6h.8M106.7 202.3h.8M113.3 203.9h.8M105.0 207.7h.8M118.9 206.1h.8M106.3 206.0h.8M109.7 195.0h.8M106.7 204.2h.8M108.4 207.6h.8M112.7 206.1h.8M125.7 199.3h.8M117.2 194.6h.8M112.9 195.8h.8M107.9 200.6h.8M104.5 203.3h.8M112.6 197.7h.8M105.6 205.2h.8M108.2 194.9h.8M106.1 207.5h.8M105.9 198.6h.8M107.4 206.7h.8M113.2 199.9h.8M110.1 195.0h.8M104.5 199.7h.8M109.6 196.5h.8M104.3 206.3h.8M105.2 195.3h.8M104.6 195.7h.8M106.0 202.5h.8M110.0 198.5h.8M108.1 199.2h.8M108.9 196.1h.8M109.5 194.6h.8M118.2 197.5h.8M108.5 197.2h.8M107.3 198.2h.8M109.7 205.3h.8M114.3 207.9h.8M107.4 202.1h.8M106.5 198.5h.8M108.0 207.9h.8M104.4 204.8h.8M106.2 202.8h.8M105.8 204.4h.8M107.9 198.8h.8M107.4 194.7h.8M104.7 207.0h.8M104.6 200.0h.8M110.2 195.1h.8M118.8 197.4h.8M122.1 200.5h.8M109.0 202.9h.8M104.6 201.5h.8M111.7 205.4h.8M111.4 203.9h.8M104.9 200.2h.8M108.0 195.2h.8M112.1 196.0h.8M108.7 198.3h.8M105.1 207.7h.8M109.4 204.6h.8M109.2 202.3h.8M115.4 195.5h.8M106.7 197.6h.8M109.1 200.0h.8M118.0 197.8h.8M105.8 207.2h.8M111.1 200.5h.8M106.7 204.7h.8M105.0 204.5h.8M105.5 205.6h.8M104.5 207.1h.8M115.0 194.9h.8M105.1 207.1h.8M113.5 198.6h.8M113.0 202.5h.8M105.7 204.0h.8M107.0 196.5h.8M114.6 204.4h.8M105.6 200.5h.8M110.4 199.7h.8M105.7 201.8h.8M120.6 195.9h.8M105.7 201.2h.8M127.1 208.2h.8M104.1 203.4h.8M104.9 197.4h.8M104.9 201.4h.8M131.8 207.8h.8M106.6 206.9h.8M110.5 195.6h.8M116.8 198.3h.8M125.2 196.4h.8M116.8 201.6h.8M108.1 197.1h.8M107.8 205.0h.8M108.6 208.0h.8M108.3 207.0h.8M104.9 204.7h.8M109.1 206.7h.8M106.4 200.9h.8M113.3 198.1h.8M106.7 206.2h.8M109.8 201.3h.8M104.2 205.1h.8M107.0 197.9h.8M106.8 196.5h.8M114.2 205.5h.8M122.7 203.8h.8M105.1 200.4h.8M133.9 194.6h.8M106.4 196.6h.8M105.1 198.4h.8M109.4 195.5h.8M115.2 200.5h.8M105.1 196.0h.8M108.2 199.4h.8M107.9 196.1h.8M106.5 201.5h.8M104.6 201.5h.8M114.2 202.7h.8M104.9 203.2h.8M104.6 196.5h.8M104.2 201.9h.8M105.2 198.4h.8M104.8 206.9h.8M105.0 203.8h.8M113.1 200.8h.8M108.9 199.2h.8M113.5 204.0h.8M104.5 204.2h.8M104.9 201.2h.8M105.2 201.2h.8M110.0 204.6h.8M106.3 195.3h.8M107.4 207.1h.8M108.5 203.1h.8M112.1 203.3h.8M120.4 207.7h.8M111.5 205.7h.8M104.9 198.2h.8M110.9 202.6h.8M115.0 205.2h.8M106.3 196.9h.8M110.0 196.1h.8M107.9 198.4h.8M106.9 203.6h.8M109.6 203.1h.8M104.4 206.8h.8M110.8 207.0h.8M109.3 203.5h.8M116.2 204.8h.8M109.6 195.1h.8M104.2 204.4h.8M114.4 199.9h.8M105.4 200.6h.8M114.2 205.0h.8M104.9 197.4h.8M105.4 204.8h.8M105.7 206.8h.8M107.0 197.2h.8M107.1 196.5h.8M115.7 194.9h.8M107.1 199.8h.8M104.3 197.6h.8M129.0 206.4h.8M107.1 206.6h.8M117.2 206.3h.8M111.2 202.4h.8M108.0 204.4h.8M109.2 207.9h.8M105.2 206.9h.8M111.8 200.7h.8M114.5 198.5h.8M106.8 202.5h.8M123.4 197.9h.8M114.4 203.6h.8M118.0 198.7h.8M110.1 206.8h.8M115.9 204.2h.8M114.2 203.3h.8M108.5 197.2h.8M108.1 208.0h.8M120.2 195.2h.8M106.1 197.9h.8M114.3 197.1h.8M112.1 197.3h.8M106.4 207.9h.8M104.8 202.6h.8M105.9 205.0h.8M104.5 203.9h.8M105.7 207.7h.8M106.3 203.8h.8M104.3 207.5h.8M109.6 207.1h.8M111.6 195.4h.8M111.6 199.8h.8M105.3 206.8h.8M110.1 199.4h.8M104.5 203.5h.8M104.4 197.9h.8M104.4 197.0h.8M111.7 198.3h.8M127.7 198.4h.8M112.9 204.7h.8M109.8 202.9h.8M104.9 206.0h.8M118.2 201.9h.8M105.2 195.8h.8M105.7 207.9h.8M106.2 198.4h.8M108.2 195.1h.8M112.7 205.3h.8M106.1 195.0h.8M116.8 205.7h.8M112.0 197.5h.8M121.1 203.4h.8M104.3 208.0h.8M110.7 197.1h.8M116.3 202.8h.8M109.7 195.0h.8M105.4 205.5h.8M104.2 197.3h.8M104.5 202.6h.8M104.9 205.3h.8M107.4 205.3h.8M117.6 207.9h.8M105.3 199.6h.8M112.8 199.2h.8M119.4 199.2h.8M109.5 198.1h.8M111.2 198.5h.8M107.1 204.5h.8M113.8 196.5h.8M105.1 197.5h.8M112.1 203.8h.8M111.0 205.7h.8M105.6 201.4h.8M104.1 199.4h.8M109.2 198.2h.8M112.8 197.5h.8M107.3 204.0h.8M105.5 203.7h.8M106.9 195.3h.8M104.7 203.5h.8M113.6 203.9h.8M115.0 203.7h.8M112.4 206.1h.8M109.1 201.9h.8M105.1 197.8h.8M104.6 196.1h.8M106.8 198.6h.8M108.7 205.9h.8M105.8 206.9h.8M114.0 197.2h.8M109.0 197.3h.8M104.5 197.6h.8M105.4 194.7h.8M104.2 205.7h.8M115.1 206.4h.8M104.5 194.9h.8M114.8 199.7h.8M106.4 204.2h.8M108.3 199.1h.8M105.0 196.2h.8M110.9 207.0h.8M104.3 197.7h.8M108.2 198.3h.8M107.8 201.5h.8M105.8 196.2h.8M107.1 205.7h.8M104.9 202.0h.8M113.3 202.4h.8M106.4 207.3h.8M112.5 208.3h.8M106.1 201.2h.8M107.4 206.1h.8M109.4 202.1h.8M108.1 206.8h.8M106.5 196.4h.8M105.2 197.9h.8M104.7 208.0h.8M108.6 205.5h.8M107.4 201.7h.8M105.5 206.8h.8M107.1 200.2h.8M111.6 206.5h.8M107.1 205.9h.8M107.1 197.4h.8M107.7 198.8h.8M105.7 205.2h.8M106.5 203.2h.8M106.1 196.2h.8M112.5 205.2h.8M110.8 203.0h.8M105.2 201.5h.8M113.9 205.3h.8M109.0 203.2h.8M105.1 195.4h.8M114.4 194.9h.8M105.7 200.1h.8M110.7 204.1h.8M115.2 207.3h.8M105.8 198.0h.8M104.8 199.1h.8M104.7 207.8h.8M108.8 201.3h.8M104.4 207.1h.8M105.6 205.1h.8M105.4 198.3h.8M104.9 201.9h.8M105.9 202.4h.8M111.0 197.7h.8M104.9 201.7h.8M106.9 200.7h.8M106.6 196.9h.8M104.8 204.6h.8M109.6 204.0h.8M109.7 201.6h.8M105.3 207.1h.8M108.3 200.9h.8M105.8 199.8h.8M125.9 200.2h.8M113.1 196.3h.8M109.1 198.3h.8M105.6 198.8h.8M106.9 203.4h.8M107.0 206.4h.8M105.0 206.3h.8M107.3 205.5h.8M106.9 198.1h.8M116.5 203.3h.8M111.1 201.8h.8M110.9 207.7h.8M111.5 207.9h.8M106.5 198.7h.8M115.9 206.0h.8M116.2 200.6h.8M107.0 207.6h.8M105.3 196.9h.8M105.1 198.7h.8M107.1 199.8h.8M107.5 195.1h.8M106.4 201.6h.8M104.4 201.2h.8M117.1 203.5h.8M120.2 206.4h.8M107.8 194.9h.8M104.4 202.5h.8M114.3 199.1h.8M104.9 205.0h.8M108.4 201.0h.8M104.9 202.2h.8M108.8 204.3h.8M116.9 195.6h.8M113.9 199.0h.8M107.1 199.3h.8M113.2 200.6h.8M104.5 201.1h.8M105.0 194.8h.8M104.4 199.8h.8M107.4 194.6h.8M104.9 207.0h.8M108.4 208.0h.8M108.4 207.7h.8M110.6 199.9h.8M104.4 196.6h.8M112.7 203.7h.8M106.0 196.8h.8M109.7 207.3h.8M105.7 208.3h.8M108.3 197.5h.8M105.2 204.3h.8M118.6 197.4h.8M105.6 196.6h.8M105.4 197.7h.8M107.1 197.9h.8M110.1 197.9h.8M105.8 200.3h.8M105.1 195.3h.8M104.6 194.7h.8M110.3 195.3h.8M107.7 206.8h.8M109.3 198.8h.8M106.9 200.5h.8M106.2 195.3h.8M105.0 196.6h.8M105.4 199.1h.8M104.7 203.0h.8M105.3 201.6h.8M110.6 201.4h.8M111.5 205.3h.8M107.4 197.5h.8M104.3 204.1h.8M106.6 198.6h.8M104.6 197.1h.8M116.3 201.1h.8M114.4 206.2h.8M105.7 197.7h.8M116.1 197.8h.8M109.1 207.4h.8M107.5 200.4h.8M121.5 206.4h.8M118.5 204.3h.8M105.5 195.3h.8M104.2 207.2h.8M108.4 206.7h.8M121.5 197.9h.8M123.4 198.4h.8M105.2 198.3h.8M133.8 207.5h.8M106.5 201.2h.8M113.6 205.6h.8M116.6 199.6h.8M105.6 201.6h.8M119.1 203.0h.8M115.4 197.3h.8M108.0 207.2h.8M108.8 205.5h.8M113.2 200.7h.8M110.5 204.1h.8M107.3 201.7h.8M113.2 206.7h.8M127.9 199.6h.8M110.3 202.1h.8M114.6 197.9h.8M107.6 198.1h.8M113.0 204.3h.8M104.1 196.1h.8M104.9 202.7h.8M112.3 199.3h.8M104.6 202.6h.8M109.3 200.5h.8M105.8 199.4h.8M105.6 205.7h.8M106.7 204.4h.8M108.5 197.7h.8M105.9 203.8h.8M115.0 207.2h.8M105.0 198.2h.8M104.7 197.2h.8M106.8 204.4h.8M117.7 202.7h.8M105.0 199.8h.8M105.0 198.4h.8M108.8 201.5h.8M105.1 198.4h.8M116.6 203.2h.8M109.2 199.0h.8M106.1 205.0h.8M104.2 203.6h.8M121.3 203.3h.8M104.4 195.1h.8M112.6 197.1h.8M107.1 203.5h.8M110.3 198.5h.8M110.4 207.1h.8M107.6 200.0h.8M110.5 206.6h.8M110.5 207.3h.8M112.5 207.7h.8M105.7 203.8h.8M105.4 196.2h.8M106.4 207.6h.8M106.0 198.8h.8M118.5 208.1h.8M111.9 199.4h.8M113.6 195.5h.8M104.2 195.5h.8M106.3 197.9h.8M114.9 200.7h.8M114.6 201.3h.8M106.7 199.2h.8M104.4 200.8h.8M120.7 207.9h.8M118.9 195.9h.8M107.3 206.0h.8M105.0 195.5h.8M105.4 195.8h.8M111.5 204.4h.8M128.6 195.3h.8M110.8 205.5h.8M105.2 195.7h.8M125.6 205.4h.8M104.5 197.2h.8M110.0 196.9h.8M107.3 196.7h.8M104.6 201.2h.8M108.4 206.2h.8M104.1 199.5h.8M104.5 202.2h.8M105.1 199.1h.8M123.3 203.5h.8M110.2 202.9h.8M105.3 204.0h.8M123.4 195.8h.8M114.1 199.3h.8M105.3 203.6h.8M114.6 196.9h.8M105.3 201.5h.8M105.4 201.5h.8M129.5 195.0h.8M107.2 197.4h.8M105.1 202.7h.8M120.3 201.0h.8M108.6 204.2h.8M114.9 207.8h.8M106.3 197.0h.8M117.8 202.9h.8M115.9 196.6h.8M112.7 196.2h.8M104.9 196.3h.8M106.6 200.3h.8M110.0 207.4h.8M107.2 202.5h.8M107.0 199.8h.8M105.8 194.7h.8M105.7 204.5h.8M112.9 204.0h.8M107.3 200.2h.8M105.3 197.9h.8M106.9 201.9h.8M107.8 198.6h.8M107.1 200.5h.8M116.7 206.8h.8M106.0 200.8h.8M105.5 207.7h.8M104.9 201.2h.8M104.2 200.9h.8M107.5 194.8h.8M105.0 201.4h.8M107.6 198.8h.8M104.4 199.0h.8M106.5 196.0h.8M109.1 197.6h.8M108.3 204.3h.8M104.2 201.4h.8M109.7 206.8h.8M110.5 206.1h.8M110.1 197.7h.8M113.3 205.0h.8M107.8 207.3h.8M104.4 207.0h.8M106.5 202.0h.8M112.9 196.9h.8M107.9 194.8h.8M104.3 207.7h.8M105.5 200.4h.8M104.8 207.4h.8M108.0 206.3h.8M105.8 200.9h.8M105.7 202.7h.8M110.9 202.5h.8M108.9 198.8h.8M120.8 194.9h.8M105.1 203.7h.8M123.9 206.2h.8M105.7 207.5h.8M107.5 202.4h.8M109.8 203.1h.8M115.7 206.9h.8M106.2 206.8h.8M106.2 204.0h.8M105.0 203.3h.8M106.1 208.2h.8M110.1 199.9h.8M122.1 196.2h.8M111.7 203.5h.8M104.2 200.9h.8M104.8 208.3h.8M104.7 203.3h.8M108.4 196.3h.8M119.1 202.5h.8M109.4 198.2h.8M105.0 199.1h.8M104.3 197.4h.8M107.9 199.9h.8M112.0 196.5h.8M105.4 201.8h.8M110.5 198.9h.8M105.4 196.3h.8M106.6 199.8h.8M112.9 197.9h.8M106.4 204.8h.8M105.4 195.1h.8M123.8 207.1h.8M106.2 198.5h.8M107.5 197.5h.8M112.6 206.7h.8M110.9 200.1h.8M114.2 207.4h.8M105.2 203.8h.8M105.1 208.1h.8M112.8 200.2h.8M111.5 198.6h.8M104.5 201.6h.8M104.5 200.9h.8M114.6 202.5h.8M105.8 197.5h.8M108.6 201.6h.8M117.0 196.9h.8M107.6 200.7h.8M106.7 197.2h.8M106.8 202.0h.8M105.3 199.0h.8M108.2 207.5h.8M107.7 199.3h.8M104.3 201.7h.8M106.4 196.2h.8M107.6 203.0h.8M106.5 204.7h.8M109.6 195.5h.8M104.4 201.8h.8M109.2 202.2h.8M105.5 199.3h.8M111.1 200.0h.8M108.2 197.7h.8M109.6 201.2h.8M104.1 204.9h.8M113.0 208.1h.8M119.8 204.2h.8M107.6 198.2h.8M110.8 200.3h.8M106.2 196.2h.8M109.2 204.3h.8M112.2 196.7h.8M105.4 203.3h.8M104.9 206.7h.8M118.5 203.2h.8M105.8 202.3h.8M112.1 199.3h.8M109.9 202.8h.8M117.3 205.2h.8M110.2 202.1h.8M116.2 202.9h.8M110.5 198.9h.8M104.7 202.2h.8M105.5 207.9h.8M105.5 206.9h.8M106.3 197.2h.8M108.8 199.0h.8M132.0 203.1h.8M104.7 198.8h.8M104.8 201.4h.8M108.2 198.9h.8M110.2 200.7h.8M113.5 203.9h.8M105.7 206.0h.8M104.3 197.8h.8M104.3 207.6h.8M108.3 206.1h.8M129.5 195.9h.8M116.8 194.9h.8M110.7 205.5h.8M106.8 206.8h.8M112.1 201.4h.8M105.9 196.8h.8M104.5 202.0h.8M108.2 197.2h.8M108.3 195.7h.8M106.1 203.8h.8M105.0 201.8h.8M104.9 206.7h.8M105.4 207.4h.8M117.9 207.8h.8M105.9 203.9h.8M104.5 207.9h.8M110.6 195.1h.8M104.9 196.0h.8M106.5 207.4h.8M112.7 199.1h.8M113.2 194.7h.8M108.4 199.9h.8M104.5 207.2h.8M110.0 208.2h.8M109.7 203.1h.8M119.9 204.1h.8M126.4 204.8h.8M116.1 199.6h.8M115.6 201.4h.8M121.9 202.1h.8M125.2 202.6h.8M122.3 202.1h.8M109.5 203.2h.8M133.3 197.4h.8M129.8 201.9h.8M126.6 199.6h.8M120.3 201.5h.8M131.6 203.8h.8M103.1 200.2h.8M116.1 197.8h.8M122.8 196.1h.8M113.1 194.7h.8M114.3 198.5h.8M122.1 204.3h.8M122.1 201.3h.8M121.2 200.3h.8M122.3 201.0h.8M134.5 203.0h.8M119.5 198.8h.8M117.2 204.1h.8M122.9 198.6h.8M119.6 200.7h.8M120.1 198.6h.8M115.3 203.2h.8M128.9 207.5h.8M115.6 199.0h.8M115.8 201.7h.8M114.0 200.9h.8M115.1 197.1h.8M117.5 198.2h.8M116.6 199.6h.8M125.1 199.9h.8M115.3 199.0h.8M123.4 200.7h.8M129.9 203.1h.8M118.1 199.5h.8M114.6 198.8h.8M113.8 201.4h.8M121.7 199.3h.8M127.1 197.0h.8M110.3 199.3h.8M113.2 198.6h.8M130.4 206.0h.8M130.9 198.4h.8M121.6 200.4h.8M113.5 203.2h.8M121.0 205.4h.8M124.5 202.0h.8M125.7 205.4h.8M121.0 201.0h.8M127.1 202.1h.8M126.0 207.2h.8M134.4 201.5h.8M115.0 208.1h.8M132.3 202.8h.8M119.2 204.3h.8M115.1 204.9h.8M120.4 201.4h.8M121.4 199.8h.8M118.9 203.3h.8M118.0 203.7h.8M117.2 203.4h.8M111.5 205.3h.8M117.6 200.2h.8M125.0 201.9h.8M124.1 200.9h.8M126.5 201.9h.8M120.4 198.2h.8M121.0 204.2h.8M129.5 203.0h.8M131.4 204.7h.8M132.8 201.2h.8M123.8 202.9h.8M124.7 203.5h.8M125.3 204.6h.8M119.9 197.8h.8M127.8 202.9h.8M122.3 203.6h.8M116.9 202.6h.8M124.8 201.4h.8M103.2 197.9h.8M127.2 199.8h.8M122.1 200.6h.8M126.5 201.7h.8M132.6 204.2h.8M124.6 201.6h.8M119.4 205.8h.8M119.1 200.6h.8M117.6 203.4h.8M133.1 202.2h.8M120.9 202.5h.8M117.1 205.3h.8M125.2 206.5h.8M128.1 203.1h.8M116.7 203.9h.8M127.3 201.7h.8M119.3 201.3h.8M117.9 200.4h.8M123.8 205.0h.8M125.0 199.7h.8M134.7 205.7h.8M115.2 197.4h.8M120.4 200.1h.8M127.5 198.7h.8M119.1 196.2h.8M125.4 206.6h.8M120.4 203.3h.8M116.8 203.6h.8M123.2 196.6h.8M121.1 201.1h.8M106.7 202.2h.8M115.7 205.0h.8M123.6 198.8h.8M132.6 204.8h.8M116.6 202.4h.8M110.7 198.5h.8M120.2 206.9h.8M112.8 204.8h.8M130.1 199.2h.8M119.3 204.5h.8M127.2 203.0h.8M109.7 203.0h.8M128.8 199.0h.8M121.6 203.5h.8M124.6 207.1h.8M116.6 205.1h.8M118.8 200.7h.8M121.1 198.2h.8M124.9 202.8h.8M121.0 201.2h.8M119.4 203.7h.8M120.3 200.3h.8M112.4 202.6h.8M128.1 200.1h.8M123.0 200.9h.8M122.5 199.6h.8M104.4 198.8h.8M119.4 200.1h.8M120.8 201.4h.8M111.2 204.0h.8M124.9 205.1h.8M128.1 207.8h.8M122.3 207.0h.8M126.0 203.0h.8M128.6 200.0h.8M106.2 202.9h.8M118.5 201.0h.8M114.4 203.4h.8M127.4 202.3h.8M120.6 200.5h.8M113.4 204.2h.8M116.1 201.8h.8M133.8 205.3h.8M127.3 201.5h.8M123.2 204.6h.8M132.1 205.4h.8M133.2 205.9h.8M133.0 205.9h.8M124.2 197.8h.8M119.2 203.6h.8M119.0 205.6h.8M120.7 202.5h.8M116.5 206.5h.8M120.9 199.7h.8M121.9 204.5h.8M115.3 207.9h.8M120.2 201.7h.8M110.7 204.5h.8M131.7 201.4h.8M118.2 203.0h.8M122.4 202.7h.8M131.9 202.2h.8M111.1 196.9h.8M132.4 203.0h.8M124.9 199.6h.8M122.9 201.2h.8M108.8 201.6h.8M115.4 199.4h.8M118.4 198.2h.8M118.7 205.1h.8M131.4 203.7h.8M110.7 203.6h.8M123.7 201.7h.8M109.3 196.6h.8M110.9 199.8h.8M123.2 199.2h.8M122.0 197.9h.8M128.8 199.6h.8M130.3 201.2h.8M120.3 195.7h.8M120.2 198.2h.8M110.9 195.5h.8M105.0 204.8h.8M122.8 203.4h.8M131.4 200.5h.8M130.3 201.4h.8M120.1 199.7h.8M117.3 201.6h.8M130.5 200.3h.8M117.8 201.4h.8M118.6 207.6h.8M125.7 208.3h.8M114.2 206.7h.8M120.7 198.4h.8M117.8 194.7h.8M117.7 204.9h.8M119.7 202.8h.8M128.8 196.9h.8M126.6 205.4h.8M116.9 205.0h.8M125.1 204.3h.8M126.9 203.6h.8M112.3 200.0h.8M121.9 207.2h.8M115.6 200.7h.8M121.3 200.4h.8M115.2 199.4h.8M124.9 201.5h.8M124.6 199.6h.8M114.7 197.2h.8M125.7 199.9h.8M121.0 201.3h.8M129.4 199.6h.8M113.1 201.7h.8M115.0 202.1h.8M112.6 201.7h.8M124.5 197.6h.8M112.1 207.0h.8M117.5 203.5h.8M113.3 201.8h.8M126.5 203.3h.8M117.1 198.0h.8M121.9 203.2h.8M121.5 203.4h.8M132.1 202.0h.8M118.4 206.3h.8M137.4 204.4h.8M131.2 196.5h.8M114.3 201.6h.8M118.2 202.3h.8M125.1 200.8h.8M128.1 198.0h.8M119.8 200.7h.8M120.1 203.9h.8M114.8 204.6h.8M125.6 202.9h.8M127.5 200.8h.8M110.4 203.0h.8M125.6 205.9h.8M119.3 203.3h.8M129.3 201.7h.8M123.7 200.9h.8M118.4 204.6h.8M128.7 202.8h.8M120.6 201.7h.8M117.5 202.2h.8M121.5 206.5h.8M122.4 202.1h.8M120.5 202.3h.8M122.7 199.5h.8M124.3 203.7h.8M132.3 205.1h.8M126.7 204.4h.8M128.5 203.1h.8M124.2 204.1h.8M120.7 197.5h.8M124.0 205.5h.8M121.0 205.0h.8M127.5 200.1h.8M113.2 197.6h.8M129.1 205.2h.8M124.3 195.3h.8M117.1 202.1h.8M116.4 198.7h.8M127.0 200.9h.8M122.7 205.0h.8M120.8 202.8h.8M124.0 208.3h.8M122.5 204.2h.8M127.5 206.5h.8M117.3 199.7h.8M118.2 199.2h.8M110.6 202.3h.8M125.6 198.3h.8M125.7 204.8h.8M115.5 201.2h.8M131.5 202.6h.8M123.6 205.6h.8M121.6 198.8h.8M117.7 199.9h.8M119.7 202.7h.8M129.5 198.8h.8M125.5 204.6h.8M117.4 201.7h.8M118.8 200.7h.8M121.2 202.3h.8M125.1 200.4h.8M123.6 204.0h.8M118.9 201.3h.8M123.5 198.1h.8M129.4 195.6h.8M117.2 198.5h.8M114.8 196.6h.8M126.6 200.2h.8M122.2 202.6h.8M132.6 203.5h.8M122.6 198.6h.8M114.1 197.5h.8M123.1 198.2h.8M125.3 204.7h.8M122.7 205.6h.8M119.7 199.5h.8M128.7 205.0h.8M120.0 196.9h.8M127.2 203.0h.8M117.3 200.5h.8M116.3 198.5h.8M130.4 197.4h.8M132.0 195.7h.8M122.2 203.8h.8M125.9 207.5h.8M123.8 204.4h.8M124.9 199.8h.8M124.7 206.1h.8M132.2 202.9h.8M113.6 201.0h.8M108.8 201.0h.8M118.4 198.1h.8M110.5 198.6h.8M122.2 200.5h.8M117.8 202.4h.8M130.8 203.2h.8M121.0 199.9h.8M114.5 203.5h.8M122.0 200.2h.8M130.5 203.7h.8M125.8 198.1h.8M113.6 207.4h.8M120.8 203.1h.8M128.9 198.7h.8M116.0 199.3h.8M117.4 202.1h.8M130.7 204.9h.8M114.1 197.6h.8M107.4 201.6h.8M129.6 203.8h.8M112.7 205.3h.8M121.2 202.5h.8M117.1 195.0h.8M132.5 198.1h.8M123.4 196.9h.8M113.8 195.6h.8M124.9 200.9h.8M114.8 199.8h.8M117.5 205.0h.8M123.5 204.1h.8M122.7 206.1h.8M106.7 202.3h.8M124.8 199.7h.8M126.8 205.1h.8M130.3 203.8h.8M127.9 201.1h.8M130.4 204.3h.8M126.2 202.0h.8M120.1 202.1h.8M123.5 204.0h.8M112.8 202.0h.8M135.0 203.3h.8M127.8 201.2h.8M112.4 202.6h.8M121.9 204.6h.8M135.5 203.8h.8M117.8 205.8h.8M123.8 203.7h.8M134.1 206.3h.8M115.5 202.6h.8M110.0 203.2h.8M115.6 201.6h.8M120.1 200.6h.8M114.5 207.0h.8M120.0 197.2h.8M124.1 198.2h.8M116.5 203.9h.8M121.3 201.5h.8M131.2 205.4h.8M116.5 201.9h.8M111.9 203.1h.8M125.1 197.3h.8M115.8 197.7h.8M126.0 200.4h.8M126.0 203.2h.8M127.0 200.5h.8M119.6 202.1h.8M120.7 201.4h.8M115.1 204.0h.8M119.1 206.3h.8M122.7 197.7h.8M129.4 200.1h.8M115.0 199.3h.8M112.8 200.8h.8M124.9 199.5h.8M114.2 203.4h.8M122.2 200.5h.8M122.3 198.8h.8M120.1 200.3h.8M131.5 201.6h.8M109.5 194.9h.8M109.4 202.0h.8M125.7 200.7h.8M125.3 203.0h.8M125.3 196.2h.8M121.0 201.8h.8M119.3 202.2h.8M111.9 201.7h.8M121.9 202.8h.8M118.4 201.7h.8M126.6 203.8h.8M106.1 206.8h.8M114.7 203.6h.8M115.0 203.8h.8M122.7 202.7h.8M123.6 203.5h.8M125.4 204.1h.8M122.8 203.1h.8M117.3 195.9h.8M120.4 206.5h.8M122.1 201.0h.8M120.7 205.9h.8M113.8 207.9h.8M131.0 198.0h.8M116.8 201.9h.8M122.7 200.4h.8M111.2 202.1h.8M122.7 199.4h.8M118.6 198.3h.8M131.9 200.3h.8M119.8 200.2h.8M111.2 195.0h.8M114.4 197.4h.8M122.5 204.1h.8M123.0 200.7h.8M127.7 200.2h.8M120.9 201.4h.8M119.1 201.7h.8M129.7 204.4h.8M122.0 203.5h.8M111.3 200.4h.8M123.9 201.7h.8M108.0 204.4h.8M124.4 197.3h.8M118.2 203.4h.8M132.7 197.6h.8M113.7 206.0h.8M117.9 200.5h.8M116.3 201.3h.8M127.3 203.2h.8M113.0 200.6h.8M119.2 198.9h.8M112.4 196.5h.8M122.3 198.7h.8M125.6 203.0h.8M126.7 197.5h.8M126.6 202.8h.8M124.7 199.6h.8M115.3 202.2h.8M120.2 196.4h.8M125.4 201.8h.8M115.0 198.7h.8M120.4 203.0h.8M121.2 202.6h.8M134.2 202.6h.8M126.1 197.4h.8M117.5 200.2h.8M116.6 201.5h.8M122.0 202.5h.8M115.0 201.2h.8M125.4 200.0h.8M121.3 201.1h.8M123.8 203.1h.8M128.5 201.1h.8M123.8 202.5h.8M119.5 199.6h.8M123.9 204.1h.8M123.0 197.4h.8M124.7 201.6h.8M127.4 205.2h.8M115.7 199.8h.8M122.6 203.3h.8M106.5 202.1h.8M133.8 199.3h.8M126.4 203.9h.8M121.9 201.8h.8M125.5 205.1h.8M106.9 199.5h.8M131.7 200.5h.8M129.2 204.0h.8M134.5 197.7h.8M120.3 202.7h.8M113.5 197.0h.8M121.7 197.8h.8M122.5 201.2h.8M124.7 203.1h.8M120.4 203.2h.8M119.7 202.7h.8M119.7 204.7h.8M103.7 201.5h.8M105.0 198.6h.8M127.3 199.6h.8M110.5 200.6h.8M109.3 198.9h.8M131.0 195.5h.8M111.6 199.9h.8M129.2 205.0h.8M112.7 201.2h.8M117.6 203.2h.8M125.8 201.3h.8M119.7 200.9h.8M118.3 202.6h.8M126.0 197.2h.8M118.0 203.8h.8M119.6 206.8h.8M127.7 196.0h.8M113.3 201.4h.8M117.7 200.4h.8M124.6 199.4h.8M122.7 205.8h.8M110.5 206.3h.8M119.6 206.8h.8M109.9 201.4h.8M115.0 198.2h.8M113.0 199.9h.8M127.3 203.2h.8M123.1 202.5h.8M115.7 200.8h.8M114.5 201.1h.8M115.9 205.5h.8M126.1 201.6h.8M125.5 198.3h.8M122.8 205.3h.8M114.7 198.8h.8M123.9 200.4h.8M119.1 200.5h.8M129.5 205.5h.8M117.8 203.7h.8M116.7 201.2h.8M122.4 201.9h.8M116.6 203.9h.8M111.9 202.4h.8M112.8 201.8h.8M122.9 201.3h.8M120.5 196.6h.8M119.8 203.8h.8M126.5 200.1h.8M120.2 203.0h.8M129.6 202.5h.8M124.4 203.0h.8M136.1 202.9h.8M119.2 199.0h.8M118.1 204.0h.8M122.1 201.4h.8M120.1 204.1h.8M119.7 197.5h.8M134.1 202.7h.8M123.7 199.2h.8M122.1 200.1h.8M128.9 204.7h.8M119.0 204.5h.8M122.8 203.6h.8M115.6 203.8h.8M122.9 202.1h.8M127.1 199.9h.8M129.9 201.5h.8M119.2 205.1h.8M130.7 205.5h.8M113.0 203.8h.8M130.1 205.7h.8M125.5 202.8h.8M133.3 203.6h.8M115.0 200.6h.8M105.6 205.1h.8M115.3 199.6h.8M117.0 201.1h.8M117.8 200.5h.8M121.8 205.5h.8M126.4 199.9h.8M123.1 204.1h.8M119.4 198.3h.8M119.2 205.5h.8M107.4 199.7h.8M134.7 207.8h.8M112.8 202.5h.8M124.5 202.9h.8M122.5 201.4h.8M119.1 199.0h.8M122.4 201.6h.8M119.1 200.3h.8M105.0 200.8h.8M127.4 201.6h.8M115.6 207.4h.8M103.2 202.3h.8M128.3 204.1h.8M127.7 195.4h.8M131.9 200.4h.8M109.8 198.4h.8M127.6 203.8h.8M112.5 203.3h.8M127.8 198.3h.8M126.2 199.8h.8M118.3 204.1h.8M116.2 202.5h.8M110.8 205.3h.8M120.1 197.3h.8M115.2 201.8h.8M123.1 203.5h.8M111.9 201.7h.8M109.4 203.6h.8M133.8 197.1h.8M109.0 196.1h.8M116.6 203.4h.8M122.5 197.5h.8M117.9 200.8h.8M122.8 202.6h.8M119.5 203.4h.8M118.1 200.6h.8M112.7 202.0h.8M126.9 201.9h.8M129.1 201.1h.8M129.1 201.4h.8M124.3 201.0h.8M116.3 204.6h.8M119.0 201.4h.8M131.4 204.1h.8M117.5 201.4h.8M115.3 204.3h.8M120.9 202.0h.8M121.2 197.7h.8M118.7 201.0h.8M127.6 199.3h.8M124.5 203.1h.8M128.7 201.4h.8M119.8 203.4h.8M117.7 199.6h.8M121.8 200.3h.8M115.2 199.0h.8M117.8 200.4h.8M121.0 204.9h.8M120.3 198.9h.8M132.1 200.3h.8M132.2 200.4h.8M122.6 199.6h.8M118.7 204.5h.8M118.3 203.3h.8M112.0 201.2h.8M124.3 200.0h.8M119.0 201.8h.8M112.4 202.7h.8M132.2 205.1h.8M119.6 204.9h.8M119.8 205.0h.8M121.9 197.7h.8M118.8 203.3h.8M126.5 202.7h.8M121.3 201.5h.8M119.5 202.3h.8M127.9 203.7h.8M118.8 206.4h.8M121.4 201.2h.8M117.7 207.1h.8M115.4 206.9h.8M116.4 197.3h.8M118.2 204.8h.8M127.7 200.1h.8M125.8 201.2h.8M123.6 203.6h.8M110.8 205.3h.8M121.6 205.5h.8M122.3 205.5h.8M135.4 200.2h.8M128.3 201.2h.8M135.1 204.3h.8M121.4 202.5h.8M131.7 197.6h.8M130.4 201.0h.8M124.1 200.5h.8M121.9 203.8h.8M127.6 199.9h.8M119.1 203.3h.8M128.2 198.5h.8M123.6 200.9h.8M118.0 202.8h.8M121.3 203.0h.8M111.4 203.3h.8M125.9 199.3h.8M134.9 197.7h.8M126.5 202.5h.8M122.1 202.4h.8M130.3 196.0h.8M125.4 203.7h.8M120.8 202.7h.8M119.2 200.4h.8M123.2 199.0h.8M116.1 202.7h.8M122.5 197.6h.8M123.1 198.9h.8M125.2 198.6h.8M113.6 200.9h.8M114.6 204.6h.8M132.7 203.7h.8M122.2 203.2h.8M129.2 200.7h.8M119.0 197.8h.8M120.3 201.3h.8M118.8 201.4h.8M116.0 200.6h.8M123.3 204.0h.8M113.6 203.1h.8M113.9 204.1h.8M125.3 202.9h.8M122.5 201.7h.8M121.1 201.1h.8M122.3 202.5h.8M122.4 204.0h.8M120.4 198.5h.8M118.1 199.2h.8M111.0 201.6h.8M121.4 198.5h.8M128.2 204.9h.8M119.5 199.2h.8M124.5 201.2h.8M120.2 208.1h.8M112.7 202.0h.8M121.2 201.1h.8M124.5 202.5h.8M108.1 194.8h.8M116.7 202.0h.8M114.3 200.8h.8M108.9 207.2h.8M125.1 198.5h.8M109.7 198.5h.8M114.7 203.6h.8M125.8 207.6h.8M105.5 197.3h.8M114.2 207.6h.8M116.5 204.5h.8M127.4 200.9h.8M114.1 205.2h.8M121.9 208.2h.8M111.0 207.7h.8M117.4 206.5h.8M121.9 202.3h.8M128.2 195.7h.8M111.3 201.3h.8M127.1 197.1h.8M125.9 195.8h.8M113.4 201.0h.8M124.1 201.8h.8M128.0 204.1h.8M114.3 201.7h.8M114.5 206.6h.8M112.0 197.1h.8M110.3 198.0h.8M126.8 204.0h.8M110.3 200.4h.8M129.3 207.8h.8M109.6 207.5h.8M104.8 208.3h.8M112.5 207.7h.8M104.0 204.0h.8M130.2 205.8h.8M119.9 196.7h.8M110.0 207.5h.8M128.5 197.6h.8M113.2 203.0h.8M112.0 197.5h.8M128.6 196.1h.8M121.6 200.2h.8M116.9 206.5h.8M125.0 205.2h.8M103.6 205.7h.8M126.3 194.6h.8M109.7 204.6h.8M128.6 202.0h.8M129.1 195.8h.8M110.7 205.8h.8M126.4 197.7h.8M119.8 200.6h.8M124.7 200.1h.8M112.4 205.0h.8M123.5 199.6h.8M124.0 198.2h.8M117.8 197.2h.8M113.2 200.3h.8M105.7 198.9h.8M113.4 199.1h.8M117.9 206.9h.8M128.0 198.7h.8M107.0 195.8h.8M129.0 205.0h.8M124.7 207.0h.8M114.9 196.9h.8M105.8 200.1h.8M125.6 195.8h.8M115.9 195.7h.8M109.4 202.2h.8M122.1 207.5h.8M112.5 197.8h.8M104.9 197.2h.8M104.1 194.6h.8M106.5 202.0h.8M116.5 207.0h.8M117.3 195.8h.8M107.4 204.2h.8M131.8 204.9h.8M110.0 199.3h.8M115.9 200.5h.8M111.4 196.7h.8M103.9 206.7h.8M131.7 208.0h.8M114.2 204.0h.8M109.2 196.1h.8M103.2 199.2h.8M126.5 201.8h.8M109.9 201.2h.8M118.9 197.3h.8M116.2 207.3h.8M116.2 208.2h.8M124.3 196.4h.8M130.0 204.1h.8M116.1 197.2h.8M122.4 197.2h.8M116.6 196.7h.8M115.2 207.9h.8M120.6 201.6h.8M121.2 203.6h.8M120.8 198.5h.8M109.3 202.9h.8M130.3 206.5h.8M117.4 198.6h.8M120.3 195.2h.8M117.7 205.3h.8M131.4 195.8h.8M109.0 201.2h.8M120.9 207.8h.8M106.2 196.4h.8M117.3 205.5h.8M103.9 199.8h.8M123.9 200.4h.8M108.4 195.6h.8M125.4 201.6h.8M118.9 204.0h.8M125.4 200.1h.8M113.8 207.2h.8M105.3 205.2h.8M116.6 201.9h.8M110.4 207.5h.8M112.0 199.0h.8M104.8 206.8h.8M127.4 195.3h.8M107.4 198.5h.8M103.9 201.4h.8M128.0 204.5h.8M117.8 208.0h.8M112.0 199.0h.8M110.9 202.9h.8M116.8 196.3h.8M117.5 207.8h.8M128.8 203.1h.8M128.4 201.3h.8M117.6 204.1h.8M109.0 202.7h.8M117.8 198.7h.8M117.7 197.0h.8M121.9 196.2h.8M116.2 195.4h.8M118.9 195.9h.8M127.2 194.8h.8M126.7 198.7h.8M131.1 199.1h.8M107.3 203.8h.8M110.2 205.7h.8M117.1 198.3h.8M120.4 197.7h.8M110.9 195.7h.8M110.1 197.6h.8M107.8 200.3h.8M116.3 202.7h.8M119.2 203.9h.8M121.1 201.0h.8M128.1 196.5h.8M111.2 194.8h.8M129.8 206.7h.8M115.0 206.1h.8M119.6 207.4h.8M129.5 199.1h.8M111.3 200.3h.8M131.1 201.0h.8M113.7 194.9h.8M114.4 207.3h.8M115.4 205.5h.8M129.4 207.4h.8M124.6 201.4h.8M111.9 207.5h.8M126.7 204.8h.8M104.7 203.5h.8M123.3 196.4h.8M112.7 200.8h.8M110.5 196.1h.8M107.6 200.9h.8M103.5 205.5h.8M115.3 198.4h.8M110.5 198.9h.8M120.6 204.4h.8M115.7 204.4h.8M119.9 205.7h.8M124.5 205.1h.8M103.8 199.4h.8M106.5 206.0h.8M107.9 207.3h.8M113.1 196.7h.8M123.5 197.1h.8M113.8 200.6h.8M121.7 201.7h.8M122.5 205.5h.8M131.4 203.1h.8M115.6 201.4h.8M113.3 206.0h.8M119.1 204.1h.8M127.1 204.1h.8M129.1 200.8h.8M123.5 206.7h.8M117.4 205.8h.8M111.3 196.8h.8M128.1 202.2h.8M131.3 202.8h.8M110.7 196.3h.8M129.4 198.1h.8M107.9 201.8h.8M124.1 202.5h.8M104.5 205.3h.8M122.9 199.1h.8M130.1 201.4h.8M125.6 195.8h.8M112.1 205.0h.8M123.1 204.2h.8M123.4 195.0h.8M128.2 195.2h.8M110.2 198.7h.8M117.7 195.9h.8M115.7 196.5h.8M112.9 199.3h.8M106.4 205.6h.8M104.0 197.4h.8M129.3 200.2h.8M130.8 198.8h.8M118.3 201.8h.8" stroke="#111" stroke-width="0.8" fill="none"/>
<path d="M93.1 191.3h.8M102.9 187.3h.8M94.8 189.4h.8M92.2 188.2h.8M86.6 185.2h.8M96.4 194.4h.8M93.1 188.7h.8M98.4 191.5h.8M89.7 189.9h.8M100.8 193.5h.8M99.5 189.7h.8M95.4 192.5h.8M99.3 191.5h.8M97.2 190.7h.8M93.1 194.5h.8M99.4 194.1h.8M100.6 186.1h.8M89.1 194.0h.8M90.9 190.5h.8M92.2 193.3h.8M92.7 187.6h.8M97.8 193.4h.8M100.8 191.5h.8M95.1 188.1h.8M89.9 187.1h.8M94.2 194.4h.8M92.9 193.7h.8M95.4 189.0h.8M100.4 192.7h.8M88.2 193.8h.8M87.7 190.6h.8M94.1 190.8h.8M89.1 190.6h.8M93.8 183.7h.8M89.8 182.0h.8M93.8 188.7h.8M88.0 192.6h.8M102.9 194.0h.8M94.2 193.9h.8M98.2 192.3h.8M91.8 191.9h.8M102.3 190.9h.8M86.6 192.9h.8M94.0 192.5h.8M89.2 194.2h.8M97.5 193.6h.8M94.0 193.7h.8M106.0 190.3h.8M99.3 190.8h.8M98.7 192.1h.8M100.7 193.1h.8M95.1 193.3h.8M85.3 190.3h.8M104.7 191.5h.8M86.8 194.0h.8M101.0 193.5h.8M102.8 194.1h.8M90.4 192.8h.8M96.9 193.3h.8M94.6 194.5h.8M96.0 192.5h.8M90.1 194.0h.8M90.7 193.7h.8M91.1 194.1h.8M88.5 193.5h.8M105.5 194.0h.8M103.3 193.9h.8M101.1 190.3h.8M96.4 191.0h.8M88.2 193.6h.8M94.9 194.5h.8M96.8 194.2h.8M86.8 193.9h.8M87.3 191.2h.8M101.5 190.7h.8M86.2 193.4h.8M90.0 193.8h.8M92.0 194.6h.8M90.0 192.8h.8M92.5 192.2h.8M100.5 193.1h.8M91.1 191.8h.8M91.8 194.1h.8M89.7 190.1h.8M97.8 191.7h.8M100.2 191.9h.8M99.9 193.8h.8M103.3 194.6h.8M105.8 193.9h.8M85.6 194.3h.8M104.6 192.1h.8M105.0 194.6h.8M98.8 193.7h.8M87.8 193.6h.8M91.6 194.1h.8M86.4 193.7h.8M90.4 194.4h.8M101.5 193.8h.8M103.3 191.8h.8M98.5 192.5h.8M90.4 190.0h.8M89.2 189.7h.8M92.0 194.4h.8M104.6 193.2h.8M103.3 193.8h.8M87.5 193.6h.8M101.3 193.4h.8M87.9 191.7h.8M96.9 194.6h.8M103.2 191.2h.8M103.0 193.8h.8M96.2 194.2h.8M94.2 190.7h.8M90.7 194.1h.8M102.4 190.9h.8M95.6 194.1h.8M96.8 194.6h.8M86.1 193.8h.8M101.4 193.8h.8M85.7 194.0h.8M106.1 193.1h.8M95.2 190.3h.8M91.2 194.1h.8M105.5 194.4h.8M91.1 194.0h.8M92.9 193.9h.8M126.9 193.5h.8M123.6 193.8h.8M104.5 187.1h.8M121.1 193.1h.8M113.9 192.9h.8M108.4 191.7h.8M124.9 192.8h.8M109.7 190.9h.8M112.1 191.7h.8M110.1 191.2h.8M113.9 192.4h.8M108.4 193.1h.8M106.4 192.2h.8M118.7 193.1h.8M112.6 192.7h.8M129.1 193.6h.8M125.3 192.5h.8M127.8 192.0h.8M119.7 190.4h.8M117.7 191.2h.8M120.1 192.1h.8M127.7 193.0h.8M103.3 193.7h.8M122.1 189.4h.8M128.7 193.1h.8M109.8 193.1h.8" stroke="#333" stroke-width="0.75" fill="none"/>
<rect x="85.30" y="165.80" width="59.10" height="42.50" fill="none" stroke="#111" stroke-width="0.9"/>
<line x1="103.50" y1="165.80" x2="103.50" y2="194.60" stroke="#111" stroke-width="0.9"/>
<line x1="85.30" y1="194.50" x2="144.40" y2="194.50" stroke="#111" stroke-width="0.9"/>
<text x="84.50" y="167.40" font-size="3.0" text-anchor="end" font-weight="bold" fill="#000" stroke="#000" stroke-width="0.22">10<tspan font-size="2" dy="-1.1">4</tspan></text>
<text x="85.30" y="211.90" font-size="3.0" text-anchor="middle" font-weight="bold" fill="#000" stroke="#000" stroke-width="0.22">10<tspan font-size="2" dy="-1.1">0</tspan></text>
<text x="84.50" y="178.03" font-size="3.0" text-anchor="end" font-weight="bold" fill="#000" stroke="#000" stroke-width="0.22">10<tspan font-size="2" dy="-1.1">3</tspan></text>
<text x="100.08" y="211.90" font-size="3.0" text-anchor="middle" font-weight="bold" fill="#000" stroke="#000" stroke-width="0.22">10<tspan font-size="2" dy="-1.1">1</tspan></text>
<text x="84.50" y="188.65" font-size="3.0" text-anchor="end" font-weight="bold" fill="#000" stroke="#000" stroke-width="0.22">10<tspan font-size="2" dy="-1.1">2</tspan></text>
<text x="114.85" y="211.90" font-size="3.0" text-anchor="middle" font-weight="bold" fill="#000" stroke="#000" stroke-width="0.22">10<tspan font-size="2" dy="-1.1">2</tspan></text>
<text x="84.50" y="199.28" font-size="3.0" text-anchor="end" font-weight="bold" fill="#000" stroke="#000" stroke-width="0.22">10<tspan font-size="2" dy="-1.1">1</tspan></text>
<text x="129.62" y="211.90" font-size="3.0" text-anchor="middle" font-weight="bold" fill="#000" stroke="#000" stroke-width="0.22">10<tspan font-size="2" dy="-1.1">3</tspan></text>
<text x="84.50" y="209.90" font-size="3.0" text-anchor="end" font-weight="bold" fill="#000" stroke="#000" stroke-width="0.22">10<tspan font-size="2" dy="-1.1">0</tspan></text>
<text x="144.40" y="211.90" font-size="3.0" text-anchor="middle" font-weight="bold" fill="#000" stroke="#000" stroke-width="0.22">10<tspan font-size="2" dy="-1.1">4</tspan></text>
<text x="104.50" y="171.00" font-size="4.25" text-anchor="start" font-weight="bold" fill="#111" stroke="#111" stroke-width="0.22">Sphk1 KO G-CSF</text>
<text x="123.00" y="177.10" font-size="4.9" text-anchor="middle" font-weight="bold" fill="#111" stroke="#111" stroke-width="0.22">19</text>
<line x1="170.50" y1="128.40" x2="170.50" y2="201.30" stroke="#777" stroke-width="0.8"/>
<line x1="170.20" y1="201.50" x2="251.00" y2="201.50" stroke="#777" stroke-width="0.8"/>
<line x1="168.60" y1="201.50" x2="170.20" y2="201.50" stroke="#777" stroke-width="0.6"/>
<text x="166.80" y="202.85" font-size="4.3" text-anchor="end" font-weight="bold" fill="#111" stroke="#111" stroke-width="0.22">0</text>
<line x1="168.60" y1="189.50" x2="170.20" y2="189.50" stroke="#777" stroke-width="0.6"/>
<text x="166.80" y="190.77" font-size="4.3" text-anchor="end" font-weight="bold" fill="#111" stroke="#111" stroke-width="0.22">200</text>
<line x1="168.60" y1="177.50" x2="170.20" y2="177.50" stroke="#777" stroke-width="0.6"/>
<text x="166.80" y="178.69" font-size="4.3" text-anchor="end" font-weight="bold" fill="#111" stroke="#111" stroke-width="0.22">400</text>
<line x1="168.60" y1="165.50" x2="170.20" y2="165.50" stroke="#777" stroke-width="0.6"/>
<text x="166.80" y="166.61" font-size="4.3" text-anchor="end" font-weight="bold" fill="#111" stroke="#111" stroke-width="0.22">600</text>
<line x1="168.60" y1="152.50" x2="170.20" y2="152.50" stroke="#777" stroke-width="0.6"/>
<text x="166.80" y="154.53" font-size="4.3" text-anchor="end" font-weight="bold" fill="#111" stroke="#111" stroke-width="0.22">800</text>
<line x1="168.60" y1="140.50" x2="170.20" y2="140.50" stroke="#777" stroke-width="0.6"/>
<text x="166.80" y="142.45" font-size="4.3" text-anchor="end" font-weight="bold" fill="#111" stroke="#111" stroke-width="0.22">1000</text>
<line x1="168.60" y1="128.50" x2="170.20" y2="128.50" stroke="#777" stroke-width="0.6"/>
<text x="166.80" y="130.37" font-size="4.3" text-anchor="end" font-weight="bold" fill="#111" stroke="#111" stroke-width="0.22">1200</text>
<line x1="183.50" y1="195.98" x2="183.50" y2="196.89" stroke="#888" stroke-width="0.7"/>
<line x1="182.10" y1="195.50" x2="184.10" y2="195.50" stroke="#888" stroke-width="0.6"/>
<rect x="176.00" y="196.89" width="14.20" height="4.41" fill="#c9c9c9" stroke="#555" stroke-width="0.5"/>
<line x1="197.50" y1="196.47" x2="197.50" y2="197.19" stroke="#888" stroke-width="0.7"/>
<line x1="196.40" y1="196.50" x2="198.40" y2="196.50" stroke="#888" stroke-width="0.6"/>
<rect x="190.20" y="197.19" width="14.40" height="4.11" fill="#333333" stroke="#222" stroke-width="0.5"/>
<line x1="223.50" y1="136.40" x2="223.50" y2="145.43" stroke="#888" stroke-width="0.7"/>
<line x1="222.75" y1="136.50" x2="224.75" y2="136.50" stroke="#888" stroke-width="0.6"/>
<rect x="216.50" y="145.43" width="14.50" height="55.87" fill="#c9c9c9" stroke="#555" stroke-width="0.5"/>
<line x1="237.50" y1="187.40" x2="237.50" y2="190.91" stroke="#888" stroke-width="0.7"/>
<line x1="236.90" y1="187.50" x2="238.90" y2="187.50" stroke="#888" stroke-width="0.6"/>
<rect x="231.00" y="190.91" width="13.80" height="10.39" fill="#333333" stroke="#222" stroke-width="0.5"/>
<text x="190.00" y="207.20" font-size="5" text-anchor="middle" font-weight="bold" fill="#111" stroke="#111" stroke-width="0.22">Control</text>
<text x="229.60" y="207.20" font-size="5" text-anchor="middle" font-weight="bold" fill="#111" stroke="#111" stroke-width="0.22">G-CSF</text>
<rect x="180.40" y="128.20" width="2.50" height="2.60" fill="#c9c9c9" stroke="#555" stroke-width="0.5"/>
<text x="185.90" y="131.30" font-size="5.0" text-anchor="start" font-weight="bold" fill="#111" stroke="#111" stroke-width="0.22">WT</text>
<rect x="180.40" y="137.40" width="2.50" height="2.80" fill="#333333" stroke="#222" stroke-width="0.5"/>
<text x="185.90" y="140.60" font-size="5.0" text-anchor="start" font-weight="bold" fill="#111" stroke="#111" stroke-width="0.22">Sphk1 KO</text>
<text x="155.20" y="164.00" font-size="5.6" text-anchor="middle" font-weight="bold" fill="#111" transform="rotate(-90 155.20 164.00)" stroke="#111" stroke-width="0.22">Circulating SKL/ml of blood</text>
<line x1="221.50" y1="131.50" x2="239.80" y2="131.50" stroke="#555" stroke-width="0.9"/>
<text x="230.65" y="132.90" font-size="8" text-anchor="middle" font-weight="bold" fill="#222" stroke="#222" stroke-width="0.45">**</text>
<line x1="25.50" y1="253.20" x2="25.50" y2="328.20" stroke="#777" stroke-width="0.8"/>
<line x1="25.10" y1="328.50" x2="129.30" y2="328.50" stroke="#777" stroke-width="0.8"/>
<line x1="23.50" y1="328.50" x2="25.10" y2="328.50" stroke="#777" stroke-width="0.6"/>
<text x="23.10" y="329.75" font-size="4.3" text-anchor="end" font-weight="bold" fill="#111" stroke="#111" stroke-width="0.22">0</text>
<line x1="23.50" y1="303.50" x2="25.10" y2="303.50" stroke="#777" stroke-width="0.6"/>
<text x="23.10" y="305.15" font-size="4.3" text-anchor="end" font-weight="bold" fill="#111" stroke="#111" stroke-width="0.22">2</text>
<line x1="23.50" y1="279.50" x2="25.10" y2="279.50" stroke="#777" stroke-width="0.6"/>
<text x="23.10" y="280.55" font-size="4.3" text-anchor="end" font-weight="bold" fill="#111" stroke="#111" stroke-width="0.22">4</text>
<line x1="23.50" y1="254.50" x2="25.10" y2="254.50" stroke="#777" stroke-width="0.6"/>
<text x="23.10" y="255.95" font-size="4.3" text-anchor="end" font-weight="bold" fill="#111" stroke="#111" stroke-width="0.22">6</text>
<line x1="38.50" y1="304.58" x2="38.50" y2="306.43" stroke="#888" stroke-width="0.7"/>
<line x1="37.75" y1="304.50" x2="39.75" y2="304.50" stroke="#888" stroke-width="0.6"/>
<rect x="32.30" y="306.43" width="12.90" height="21.77" fill="#555555" stroke="#444" stroke-width="0.5"/>
<line x1="63.50" y1="262.90" x2="63.50" y2="269.77" stroke="#888" stroke-width="0.7"/>
<line x1="62.75" y1="262.50" x2="64.75" y2="262.50" stroke="#888" stroke-width="0.6"/>
<rect x="57.10" y="269.77" width="13.30" height="58.43" fill="#555555" stroke="#444" stroke-width="0.5"/>
<line x1="89.50" y1="285.30" x2="89.50" y2="290.07" stroke="#888" stroke-width="0.7"/>
<line x1="88.15" y1="285.50" x2="90.15" y2="285.50" stroke="#888" stroke-width="0.6"/>
<rect x="82.70" y="290.07" width="12.90" height="38.13" fill="#555555" stroke="#444" stroke-width="0.5"/>
<line x1="114.50" y1="265.60" x2="114.50" y2="271.37" stroke="#888" stroke-width="0.7"/>
<line x1="113.25" y1="265.50" x2="115.25" y2="265.50" stroke="#888" stroke-width="0.6"/>
<rect x="107.80" y="271.37" width="12.90" height="56.83" fill="#555555" stroke="#444" stroke-width="0.5"/>
<text x="1.70" y="336.05" font-size="5.0" text-anchor="start" font-weight="bold" fill="#111" stroke="#111" stroke-width="0.22">G-CSF</text>
<line x1="37.40" y1="333.50" x2="39.80" y2="333.50" stroke="#111" stroke-width="1.0"/>
<line x1="61.20" y1="333.50" x2="65.40" y2="333.50" stroke="#111" stroke-width="1.25"/>
<line x1="63.50" y1="331.50" x2="63.50" y2="335.70" stroke="#111" stroke-width="1.25"/>
<line x1="87.00" y1="333.50" x2="91.20" y2="333.50" stroke="#111" stroke-width="1.25"/>
<line x1="89.50" y1="331.50" x2="89.50" y2="335.70" stroke="#111" stroke-width="1.25"/>
<line x1="111.90" y1="333.50" x2="116.10" y2="333.50" stroke="#111" stroke-width="1.25"/>
<line x1="114.50" y1="331.50" x2="114.50" y2="335.70" stroke="#111" stroke-width="1.25"/>
<text x="1.70" y="344.55" font-size="5.0" text-anchor="start" font-weight="bold" fill="#111" stroke="#111" stroke-width="0.22">Rapamycin</text>
<line x1="37.40" y1="341.50" x2="39.80" y2="341.50" stroke="#111" stroke-width="1.0"/>
<line x1="62.10" y1="341.50" x2="64.50" y2="341.50" stroke="#111" stroke-width="1.0"/>
<line x1="87.00" y1="341.50" x2="91.20" y2="341.50" stroke="#111" stroke-width="1.25"/>
<line x1="89.50" y1="339.30" x2="89.50" y2="343.50" stroke="#111" stroke-width="1.25"/>
<line x1="112.80" y1="341.50" x2="115.20" y2="341.50" stroke="#111" stroke-width="1.0"/>
<text x="1.70" y="352.85" font-size="5.0" text-anchor="start" font-weight="bold" fill="#111" stroke="#111" stroke-width="0.22">Akt inhibitor</text>
<line x1="37.40" y1="349.50" x2="39.80" y2="349.50" stroke="#111" stroke-width="1.0"/>
<line x1="62.10" y1="349.50" x2="64.50" y2="349.50" stroke="#111" stroke-width="1.0"/>
<line x1="87.90" y1="349.50" x2="90.30" y2="349.50" stroke="#111" stroke-width="1.0"/>
<line x1="111.90" y1="349.50" x2="116.10" y2="349.50" stroke="#111" stroke-width="1.25"/>
<line x1="114.50" y1="347.10" x2="114.50" y2="351.30" stroke="#111" stroke-width="1.25"/>
<line x1="40.10" y1="264.50" x2="58.50" y2="264.50" stroke="#555" stroke-width="0.9"/>
<text x="49.30" y="266.00" font-size="8" text-anchor="middle" font-weight="bold" fill="#222" stroke="#222" stroke-width="0.45">**</text>
<line x1="67.30" y1="264.50" x2="84.20" y2="264.50" stroke="#555" stroke-width="0.9"/>
<text x="75.75" y="266.00" font-size="8" text-anchor="middle" font-weight="bold" fill="#222" stroke="#222" stroke-width="0.45">*</text>
<line x1="67.30" y1="253.50" x2="104.00" y2="253.50" stroke="#555" stroke-width="0.9"/>
<text x="85.65" y="252.60" font-size="4.4" text-anchor="middle" font-weight="normal" fill="#111" stroke="#111" stroke-width="0.18">NS</text>
<text x="10.60" y="292.50" font-size="5.2" text-anchor="middle" font-weight="bold" fill="#111" transform="rotate(-90 10.60 292.50)" stroke="#111" stroke-width="0.22">BM S1P levels</text>
<text x="16.70" y="292.50" font-size="5.2" text-anchor="middle" font-weight="bold" fill="#111" transform="rotate(-90 16.70 292.50)" stroke="#111" stroke-width="0.22">(pmol/ml of BM-CM)</text>
<line x1="163.50" y1="254.90" x2="163.50" y2="328.20" stroke="#777" stroke-width="0.8"/>
<line x1="163.00" y1="328.50" x2="250.70" y2="328.50" stroke="#777" stroke-width="0.8"/>
<line x1="161.40" y1="328.50" x2="163.00" y2="328.50" stroke="#777" stroke-width="0.6"/>
<text x="160.20" y="329.86" font-size="4.6" text-anchor="end" font-weight="bold" fill="#111" stroke="#111" stroke-width="0.22">0</text>
<line x1="161.40" y1="319.50" x2="163.00" y2="319.50" stroke="#777" stroke-width="0.6"/>
<text x="160.20" y="320.76" font-size="4.6" text-anchor="end" font-weight="bold" fill="#111" stroke="#111" stroke-width="0.22">0.2</text>
<line x1="161.40" y1="310.50" x2="163.00" y2="310.50" stroke="#777" stroke-width="0.6"/>
<text x="160.20" y="311.66" font-size="4.6" text-anchor="end" font-weight="bold" fill="#111" stroke="#111" stroke-width="0.22">0.4</text>
<line x1="161.40" y1="300.50" x2="163.00" y2="300.50" stroke="#777" stroke-width="0.6"/>
<text x="160.20" y="302.56" font-size="4.6" text-anchor="end" font-weight="bold" fill="#111" stroke="#111" stroke-width="0.22">0.6</text>
<line x1="161.40" y1="291.50" x2="163.00" y2="291.50" stroke="#777" stroke-width="0.6"/>
<text x="160.20" y="293.46" font-size="4.6" text-anchor="end" font-weight="bold" fill="#111" stroke="#111" stroke-width="0.22">0.8</text>
<line x1="161.40" y1="282.50" x2="163.00" y2="282.50" stroke="#777" stroke-width="0.6"/>
<text x="160.20" y="284.36" font-size="4.6" text-anchor="end" font-weight="bold" fill="#111" stroke="#111" stroke-width="0.22">1</text>
<line x1="161.40" y1="273.50" x2="163.00" y2="273.50" stroke="#777" stroke-width="0.6"/>
<text x="160.20" y="275.26" font-size="4.6" text-anchor="end" font-weight="bold" fill="#111" stroke="#111" stroke-width="0.22">1.2</text>
<line x1="161.40" y1="264.50" x2="163.00" y2="264.50" stroke="#777" stroke-width="0.6"/>
<text x="160.20" y="266.16" font-size="4.6" text-anchor="end" font-weight="bold" fill="#111" stroke="#111" stroke-width="0.22">1.4</text>
<line x1="161.40" y1="255.50" x2="163.00" y2="255.50" stroke="#777" stroke-width="0.6"/>
<text x="160.20" y="257.06" font-size="4.6" text-anchor="end" font-weight="bold" fill="#111" stroke="#111" stroke-width="0.22">1.6</text>
<line x1="177.50" y1="279.20" x2="177.50" y2="282.70" stroke="#888" stroke-width="0.7"/>
<line x1="176.90" y1="279.50" x2="178.90" y2="279.50" stroke="#888" stroke-width="0.6"/>
<rect x="170.60" y="282.70" width="14.60" height="45.50" fill="#c9c9c9" stroke="#555" stroke-width="0.5"/>
<line x1="192.50" y1="258.80" x2="192.50" y2="273.14" stroke="#888" stroke-width="0.7"/>
<line x1="191.55" y1="258.50" x2="193.55" y2="258.50" stroke="#888" stroke-width="0.6"/>
<rect x="185.20" y="273.14" width="14.70" height="55.06" fill="#333333" stroke="#222" stroke-width="0.5"/>
<line x1="221.50" y1="279.20" x2="221.50" y2="282.70" stroke="#888" stroke-width="0.7"/>
<line x1="220.20" y1="279.50" x2="222.20" y2="279.50" stroke="#888" stroke-width="0.6"/>
<rect x="213.70" y="282.70" width="15.00" height="45.50" fill="#c9c9c9" stroke="#555" stroke-width="0.5"/>
<line x1="235.50" y1="298.40" x2="235.50" y2="306.36" stroke="#888" stroke-width="0.7"/>
<line x1="234.90" y1="298.50" x2="236.90" y2="298.50" stroke="#888" stroke-width="0.6"/>
<rect x="228.70" y="306.36" width="14.40" height="21.84" fill="#333333" stroke="#222" stroke-width="0.5"/>
<text x="185.10" y="334.40" font-size="4.9" text-anchor="middle" font-weight="bold" fill="#111" stroke="#111" stroke-width="0.22">Sphk1</text>
<text x="228.60" y="334.40" font-size="4.9" text-anchor="middle" font-weight="bold" fill="#111" stroke="#111" stroke-width="0.22">SPP1</text>
<rect x="215.80" y="252.80" width="2.50" height="2.80" fill="#c9c9c9" stroke="#555" stroke-width="0.5"/>
<text x="220.80" y="256.00" font-size="5.1" text-anchor="start" font-weight="bold" fill="#111" stroke="#111" stroke-width="0.22">control</text>
<rect x="215.80" y="262.30" width="2.50" height="3.00" fill="#333333" stroke="#222" stroke-width="0.5"/>
<text x="220.80" y="265.60" font-size="5.1" text-anchor="start" font-weight="bold" fill="#111" stroke="#111" stroke-width="0.22">G-CSF 30min</text>
<line x1="217.60" y1="277.50" x2="238.60" y2="277.50" stroke="#555" stroke-width="0.9"/>
<text x="228.10" y="278.90" font-size="8" text-anchor="middle" font-weight="bold" fill="#222" stroke="#222" stroke-width="0.45">*</text>
<text x="144.40" y="291.00" font-size="5.4" text-anchor="middle" font-weight="bold" fill="#111" transform="rotate(-90 144.40 291.00)" stroke="#111" stroke-width="0.22">mRNA levels in the BM</text>
<text x="150.60" y="291.00" font-size="5.4" text-anchor="middle" font-weight="bold" fill="#111" transform="rotate(-90 150.60 291.00)" stroke="#111" stroke-width="0.22">(fold change)</text>
<line x1="294.50" y1="11.10" x2="294.50" y2="85.90" stroke="#777" stroke-width="0.8"/>
<line x1="294.20" y1="85.50" x2="389.50" y2="85.50" stroke="#777" stroke-width="0.8"/>
<line x1="292.60" y1="85.50" x2="294.20" y2="85.50" stroke="#777" stroke-width="0.6"/>
<text x="291.20" y="87.48" font-size="4.4" text-anchor="end" font-weight="bold" fill="#111" stroke="#111" stroke-width="0.22">0</text>
<line x1="292.60" y1="73.50" x2="294.20" y2="73.50" stroke="#777" stroke-width="0.6"/>
<text x="291.20" y="75.10" font-size="4.4" text-anchor="end" font-weight="bold" fill="#111" stroke="#111" stroke-width="0.22">0.2</text>
<line x1="292.60" y1="61.50" x2="294.20" y2="61.50" stroke="#777" stroke-width="0.6"/>
<text x="291.20" y="62.72" font-size="4.4" text-anchor="end" font-weight="bold" fill="#111" stroke="#111" stroke-width="0.22">0.4</text>
<line x1="292.60" y1="48.50" x2="294.20" y2="48.50" stroke="#777" stroke-width="0.6"/>
<text x="291.20" y="50.34" font-size="4.4" text-anchor="end" font-weight="bold" fill="#111" stroke="#111" stroke-width="0.22">0.6</text>
<line x1="292.60" y1="36.50" x2="294.20" y2="36.50" stroke="#777" stroke-width="0.6"/>
<text x="291.20" y="37.96" font-size="4.4" text-anchor="end" font-weight="bold" fill="#111" stroke="#111" stroke-width="0.22">0.8</text>
<line x1="292.60" y1="24.50" x2="294.20" y2="24.50" stroke="#777" stroke-width="0.6"/>
<text x="291.20" y="25.58" font-size="4.4" text-anchor="end" font-weight="bold" fill="#111" stroke="#111" stroke-width="0.22">1</text>
<line x1="292.60" y1="11.50" x2="294.20" y2="11.50" stroke="#777" stroke-width="0.6"/>
<text x="291.20" y="13.20" font-size="4.4" text-anchor="end" font-weight="bold" fill="#111" stroke="#111" stroke-width="0.22">1.2</text>
<line x1="307.50" y1="19.50" x2="307.50" y2="24.00" stroke="#888" stroke-width="0.7"/>
<line x1="306.80" y1="19.50" x2="308.80" y2="19.50" stroke="#888" stroke-width="0.6"/>
<rect x="300.70" y="24.00" width="14.20" height="61.90" fill="#555555" stroke="#444" stroke-width="0.5"/>
<line x1="331.50" y1="73.30" x2="331.50" y2="75.38" stroke="#888" stroke-width="0.7"/>
<line x1="330.70" y1="73.50" x2="332.70" y2="73.50" stroke="#888" stroke-width="0.6"/>
<rect x="324.30" y="75.38" width="14.80" height="10.52" fill="#555555" stroke="#444" stroke-width="0.5"/>
<line x1="355.50" y1="30.80" x2="355.50" y2="38.24" stroke="#888" stroke-width="0.7"/>
<line x1="354.65" y1="30.50" x2="356.65" y2="30.50" stroke="#888" stroke-width="0.6"/>
<rect x="348.60" y="38.24" width="14.10" height="47.66" fill="#555555" stroke="#444" stroke-width="0.5"/>
<line x1="379.50" y1="76.50" x2="379.50" y2="78.47" stroke="#888" stroke-width="0.7"/>
<line x1="378.25" y1="76.50" x2="380.25" y2="76.50" stroke="#888" stroke-width="0.6"/>
<rect x="372.20" y="78.47" width="14.10" height="7.43" fill="#555555" stroke="#444" stroke-width="0.5"/>
<text x="268.90" y="92.55" font-size="5.0" text-anchor="start" font-weight="bold" fill="#111" stroke="#111" stroke-width="0.22">G-CSF</text>
<line x1="306.60" y1="90.50" x2="309.00" y2="90.50" stroke="#111" stroke-width="1.0"/>
<line x1="329.50" y1="90.50" x2="333.70" y2="90.50" stroke="#111" stroke-width="1.25"/>
<line x1="331.50" y1="88.70" x2="331.50" y2="92.90" stroke="#111" stroke-width="1.25"/>
<line x1="353.80" y1="90.50" x2="358.00" y2="90.50" stroke="#111" stroke-width="1.25"/>
<line x1="355.50" y1="88.70" x2="355.50" y2="92.90" stroke="#111" stroke-width="1.25"/>
<line x1="376.90" y1="90.50" x2="381.10" y2="90.50" stroke="#111" stroke-width="1.25"/>
<line x1="379.50" y1="88.70" x2="379.50" y2="92.90" stroke="#111" stroke-width="1.25"/>
<text x="268.90" y="99.85" font-size="5.0" text-anchor="start" font-weight="bold" fill="#111" stroke="#111" stroke-width="0.22">Rapamycin</text>
<line x1="306.60" y1="98.50" x2="309.00" y2="98.50" stroke="#111" stroke-width="1.0"/>
<line x1="330.40" y1="98.50" x2="332.80" y2="98.50" stroke="#111" stroke-width="1.0"/>
<line x1="353.80" y1="98.50" x2="358.00" y2="98.50" stroke="#111" stroke-width="1.25"/>
<line x1="355.50" y1="96.00" x2="355.50" y2="100.20" stroke="#111" stroke-width="1.25"/>
<line x1="377.80" y1="98.50" x2="380.20" y2="98.50" stroke="#111" stroke-width="1.0"/>
<text x="268.90" y="107.15" font-size="5.0" text-anchor="start" font-weight="bold" fill="#111" stroke="#111" stroke-width="0.22">Akt inhibitor</text>
<line x1="306.60" y1="105.50" x2="309.00" y2="105.50" stroke="#111" stroke-width="1.0"/>
<line x1="330.40" y1="105.50" x2="332.80" y2="105.50" stroke="#111" stroke-width="1.0"/>
<line x1="354.70" y1="105.50" x2="357.10" y2="105.50" stroke="#111" stroke-width="1.0"/>
<line x1="376.90" y1="105.50" x2="381.10" y2="105.50" stroke="#111" stroke-width="1.25"/>
<line x1="379.50" y1="103.30" x2="379.50" y2="107.50" stroke="#111" stroke-width="1.25"/>
<line x1="311.40" y1="15.50" x2="329.60" y2="15.50" stroke="#555" stroke-width="0.9"/>
<text x="320.50" y="16.90" font-size="8" text-anchor="middle" font-weight="bold" fill="#222" stroke="#222" stroke-width="0.45">**</text>
<line x1="333.80" y1="15.50" x2="353.30" y2="15.50" stroke="#555" stroke-width="0.9"/>
<text x="343.55" y="16.90" font-size="8" text-anchor="middle" font-weight="bold" fill="#222" stroke="#222" stroke-width="0.45">**</text>
<line x1="333.80" y1="9.50" x2="374.70" y2="9.50" stroke="#555" stroke-width="0.9"/>
<text x="354.25" y="7.80" font-size="4.4" text-anchor="middle" font-weight="normal" fill="#111" stroke="#111" stroke-width="0.18">NS</text>
<text x="275.80" y="48.00" font-size="5.6" text-anchor="middle" font-weight="bold" fill="#111" transform="rotate(-90 275.80 48.00)" stroke="#111" stroke-width="0.22">Sphk1 mRNA levels</text>
<text x="281.70" y="48.00" font-size="5.6" text-anchor="middle" font-weight="bold" fill="#111" transform="rotate(-90 281.70 48.00)" stroke="#111" stroke-width="0.22">in the BM (fold change)</text>
<line x1="419.50" y1="10.50" x2="419.50" y2="87.00" stroke="#777" stroke-width="0.8"/>
<line x1="419.50" y1="87.50" x2="517.00" y2="87.50" stroke="#777" stroke-width="0.8"/>
<line x1="417.90" y1="87.50" x2="419.50" y2="87.50" stroke="#777" stroke-width="0.6"/>
<text x="416.70" y="88.62" font-size="4.5" text-anchor="end" font-weight="bold" fill="#111" stroke="#111" stroke-width="0.22">0</text>
<line x1="417.90" y1="78.50" x2="419.50" y2="78.50" stroke="#777" stroke-width="0.6"/>
<text x="416.70" y="80.18" font-size="4.5" text-anchor="end" font-weight="bold" fill="#111" stroke="#111" stroke-width="0.22">0.2</text>
<line x1="417.90" y1="70.50" x2="419.50" y2="70.50" stroke="#777" stroke-width="0.6"/>
<text x="416.70" y="71.74" font-size="4.5" text-anchor="end" font-weight="bold" fill="#111" stroke="#111" stroke-width="0.22">0.4</text>
<line x1="417.90" y1="61.50" x2="419.50" y2="61.50" stroke="#777" stroke-width="0.6"/>
<text x="416.70" y="63.30" font-size="4.5" text-anchor="end" font-weight="bold" fill="#111" stroke="#111" stroke-width="0.22">0.6</text>
<line x1="417.90" y1="53.50" x2="419.50" y2="53.50" stroke="#777" stroke-width="0.6"/>
<text x="416.70" y="54.86" font-size="4.5" text-anchor="end" font-weight="bold" fill="#111" stroke="#111" stroke-width="0.22">0.8</text>
<line x1="417.90" y1="44.50" x2="419.50" y2="44.50" stroke="#777" stroke-width="0.6"/>
<text x="416.70" y="46.42" font-size="4.5" text-anchor="end" font-weight="bold" fill="#111" stroke="#111" stroke-width="0.22">1</text>
<line x1="417.90" y1="36.50" x2="419.50" y2="36.50" stroke="#777" stroke-width="0.6"/>
<text x="416.70" y="37.98" font-size="4.5" text-anchor="end" font-weight="bold" fill="#111" stroke="#111" stroke-width="0.22">1.2</text>
<line x1="417.90" y1="27.50" x2="419.50" y2="27.50" stroke="#777" stroke-width="0.6"/>
<text x="416.70" y="29.54" font-size="4.5" text-anchor="end" font-weight="bold" fill="#111" stroke="#111" stroke-width="0.22">1.4</text>
<line x1="417.90" y1="19.50" x2="419.50" y2="19.50" stroke="#777" stroke-width="0.6"/>
<text x="416.70" y="21.10" font-size="4.5" text-anchor="end" font-weight="bold" fill="#111" stroke="#111" stroke-width="0.22">1.6</text>
<line x1="417.90" y1="11.50" x2="419.50" y2="11.50" stroke="#777" stroke-width="0.6"/>
<text x="416.70" y="12.66" font-size="4.5" text-anchor="end" font-weight="bold" fill="#111" stroke="#111" stroke-width="0.22">1.8</text>
<line x1="432.50" y1="43.40" x2="432.50" y2="44.80" stroke="#888" stroke-width="0.7"/>
<line x1="431.85" y1="43.50" x2="433.85" y2="43.50" stroke="#888" stroke-width="0.6"/>
<rect x="425.80" y="44.80" width="14.10" height="42.20" fill="#242424" stroke="#111" stroke-width="0.5"/>
<line x1="458.50" y1="23.60" x2="458.50" y2="26.65" stroke="#888" stroke-width="0.7"/>
<line x1="457.20" y1="23.50" x2="459.20" y2="23.50" stroke="#888" stroke-width="0.6"/>
<rect x="451.20" y="26.65" width="14.00" height="60.35" fill="#242424" stroke="#111" stroke-width="0.5"/>
<line x1="481.50" y1="40.90" x2="481.50" y2="42.69" stroke="#888" stroke-width="0.7"/>
<line x1="480.70" y1="40.50" x2="482.70" y2="40.50" stroke="#888" stroke-width="0.6"/>
<rect x="474.60" y="42.69" width="14.20" height="44.31" fill="#242424" stroke="#111" stroke-width="0.5"/>
<line x1="505.50" y1="22.00" x2="505.50" y2="25.39" stroke="#888" stroke-width="0.7"/>
<line x1="504.35" y1="22.50" x2="506.35" y2="22.50" stroke="#888" stroke-width="0.6"/>
<rect x="498.30" y="25.39" width="14.10" height="61.61" fill="#242424" stroke="#111" stroke-width="0.5"/>
<text x="396.90" y="92.55" font-size="5.0" text-anchor="start" font-weight="bold" fill="#111" stroke="#111" stroke-width="0.22">G-CSF</text>
<line x1="431.60" y1="90.50" x2="434.00" y2="90.50" stroke="#111" stroke-width="1.0"/>
<line x1="456.10" y1="90.50" x2="460.30" y2="90.50" stroke="#111" stroke-width="1.25"/>
<line x1="458.50" y1="88.70" x2="458.50" y2="92.90" stroke="#111" stroke-width="1.25"/>
<line x1="479.60" y1="90.50" x2="483.80" y2="90.50" stroke="#111" stroke-width="1.25"/>
<line x1="481.50" y1="88.70" x2="481.50" y2="92.90" stroke="#111" stroke-width="1.25"/>
<line x1="503.20" y1="90.50" x2="507.40" y2="90.50" stroke="#111" stroke-width="1.25"/>
<line x1="505.50" y1="88.70" x2="505.50" y2="92.90" stroke="#111" stroke-width="1.25"/>
<text x="396.90" y="100.05" font-size="5.0" text-anchor="start" font-weight="bold" fill="#111" stroke="#111" stroke-width="0.22">Rapamycin</text>
<line x1="431.60" y1="98.50" x2="434.00" y2="98.50" stroke="#111" stroke-width="1.0"/>
<line x1="457.00" y1="98.50" x2="459.40" y2="98.50" stroke="#111" stroke-width="1.0"/>
<line x1="479.60" y1="98.50" x2="483.80" y2="98.50" stroke="#111" stroke-width="1.25"/>
<line x1="481.50" y1="96.20" x2="481.50" y2="100.40" stroke="#111" stroke-width="1.25"/>
<line x1="504.10" y1="98.50" x2="506.50" y2="98.50" stroke="#111" stroke-width="1.0"/>
<text x="396.90" y="107.65" font-size="5.0" text-anchor="start" font-weight="bold" fill="#111" stroke="#111" stroke-width="0.22">Akt inhibitor</text>
<line x1="431.60" y1="105.50" x2="434.00" y2="105.50" stroke="#111" stroke-width="1.0"/>
<line x1="457.00" y1="105.50" x2="459.40" y2="105.50" stroke="#111" stroke-width="1.0"/>
<line x1="480.50" y1="105.50" x2="482.90" y2="105.50" stroke="#111" stroke-width="1.0"/>
<line x1="503.20" y1="105.50" x2="507.40" y2="105.50" stroke="#111" stroke-width="1.25"/>
<line x1="505.50" y1="103.80" x2="505.50" y2="108.00" stroke="#111" stroke-width="1.25"/>
<line x1="437.00" y1="16.50" x2="455.80" y2="16.50" stroke="#555" stroke-width="0.9"/>
<text x="446.40" y="17.40" font-size="8" text-anchor="middle" font-weight="bold" fill="#222" stroke="#222" stroke-width="0.45">**</text>
<line x1="461.40" y1="16.50" x2="480.30" y2="16.50" stroke="#555" stroke-width="0.9"/>
<text x="470.85" y="17.40" font-size="8" text-anchor="middle" font-weight="bold" fill="#222" stroke="#222" stroke-width="0.45">**</text>
<line x1="461.40" y1="9.50" x2="498.50" y2="9.50" stroke="#555" stroke-width="0.9"/>
<text x="479.95" y="8.40" font-size="4.4" text-anchor="middle" font-weight="normal" fill="#111" stroke="#111" stroke-width="0.18">NS</text>
<text x="401.20" y="47.00" font-size="5.6" text-anchor="middle" font-weight="bold" fill="#111" transform="rotate(-90 401.20 47.00)" stroke="#111" stroke-width="0.22">Sgpp1 mRNA levels</text>
<text x="408.00" y="47.00" font-size="5.6" text-anchor="middle" font-weight="bold" fill="#111" transform="rotate(-90 408.00 47.00)" stroke="#111" stroke-width="0.22">in the BM (fold change)</text>
<line x1="288.50" y1="142.40" x2="288.50" y2="214.10" stroke="#777" stroke-width="0.8"/>
<line x1="288.10" y1="214.50" x2="383.20" y2="214.50" stroke="#777" stroke-width="0.8"/>
<line x1="286.50" y1="214.50" x2="288.10" y2="214.50" stroke="#777" stroke-width="0.6"/>
<text x="285.50" y="215.76" font-size="4.6" text-anchor="end" font-weight="bold" fill="#111" stroke="#111" stroke-width="0.22">0</text>
<line x1="286.50" y1="190.50" x2="288.10" y2="190.50" stroke="#777" stroke-width="0.6"/>
<text x="285.50" y="192.02" font-size="4.6" text-anchor="end" font-weight="bold" fill="#111" stroke="#111" stroke-width="0.22">2</text>
<line x1="286.50" y1="166.50" x2="288.10" y2="166.50" stroke="#777" stroke-width="0.6"/>
<text x="285.50" y="168.28" font-size="4.6" text-anchor="end" font-weight="bold" fill="#111" stroke="#111" stroke-width="0.22">4</text>
<line x1="286.50" y1="142.50" x2="288.10" y2="142.50" stroke="#777" stroke-width="0.6"/>
<text x="285.50" y="144.54" font-size="4.6" text-anchor="end" font-weight="bold" fill="#111" stroke="#111" stroke-width="0.22">6</text>
<line x1="303.50" y1="199.90" x2="303.50" y2="202.23" stroke="#888" stroke-width="0.7"/>
<line x1="302.85" y1="199.50" x2="304.85" y2="199.50" stroke="#888" stroke-width="0.6"/>
<rect x="295.70" y="202.23" width="16.30" height="11.87" fill="#ababab" stroke="#666" stroke-width="0.5"/>
<line x1="335.50" y1="144.50" x2="335.50" y2="157.95" stroke="#888" stroke-width="0.7"/>
<line x1="334.80" y1="144.50" x2="336.80" y2="144.50" stroke="#888" stroke-width="0.6"/>
<rect x="327.70" y="157.95" width="16.20" height="56.15" fill="#ababab" stroke="#666" stroke-width="0.5"/>
<line x1="367.50" y1="172.20" x2="367.50" y2="177.90" stroke="#888" stroke-width="0.7"/>
<line x1="366.55" y1="172.50" x2="368.55" y2="172.50" stroke="#888" stroke-width="0.6"/>
<rect x="359.50" y="177.90" width="16.10" height="36.20" fill="#ababab" stroke="#666" stroke-width="0.5"/>
<text x="304.20" y="221.70" font-size="5.0" text-anchor="middle" font-weight="bold" fill="#111" stroke="#111" stroke-width="0.22">Control</text>
<text x="336.00" y="221.70" font-size="5.0" text-anchor="middle" font-weight="bold" fill="#111" stroke="#111" stroke-width="0.22">G-CSF</text>
<text x="336.00" y="228.30" font-size="5.0" text-anchor="middle" font-weight="bold" fill="#111" stroke="#111" stroke-width="0.22">30 min</text>
<text x="367.60" y="221.70" font-size="5.0" text-anchor="middle" font-weight="bold" fill="#111" stroke="#111" stroke-width="0.22">G-CSF</text>
<text x="367.60" y="228.30" font-size="5.0" text-anchor="middle" font-weight="bold" fill="#111" stroke="#111" stroke-width="0.22">24 hours</text>
<line x1="309.20" y1="141.50" x2="365.90" y2="141.50" stroke="#555" stroke-width="0.9"/>
<text x="336.10" y="143.30" font-size="8" text-anchor="middle" font-weight="bold" fill="#222" stroke="#222" stroke-width="0.45">*</text>
<line x1="309.20" y1="152.50" x2="327.80" y2="152.50" stroke="#555" stroke-width="0.9"/>
<text x="318.50" y="154.10" font-size="8" text-anchor="middle" font-weight="bold" fill="#222" stroke="#222" stroke-width="0.45">**</text>
<text x="272.40" y="172.00" font-size="5.6" text-anchor="middle" font-weight="bold" fill="#111" transform="rotate(-90 272.40 172.00)" stroke="#111" stroke-width="0.22">Sphk1 mRNA levels</text>
<text x="279.60" y="172.00" font-size="5.6" text-anchor="middle" font-weight="bold" fill="#111" transform="rotate(-90 279.60 172.00)" stroke="#111" stroke-width="0.22">in the PB (fold change)</text>
<line x1="403.50" y1="142.40" x2="403.50" y2="214.10" stroke="#777" stroke-width="0.8"/>
<line x1="403.80" y1="214.50" x2="517.50" y2="214.50" stroke="#777" stroke-width="0.8"/>
<line x1="402.20" y1="214.50" x2="403.80" y2="214.50" stroke="#777" stroke-width="0.6"/>
<text x="401.00" y="215.83" font-size="4.8" text-anchor="end" font-weight="bold" fill="#111" stroke="#111" stroke-width="0.22">0</text>
<line x1="402.20" y1="199.50" x2="403.80" y2="199.50" stroke="#777" stroke-width="0.6"/>
<text x="401.00" y="201.59" font-size="4.8" text-anchor="end" font-weight="bold" fill="#111" stroke="#111" stroke-width="0.22">1</text>
<line x1="402.20" y1="185.50" x2="403.80" y2="185.50" stroke="#777" stroke-width="0.6"/>
<text x="401.00" y="187.35" font-size="4.8" text-anchor="end" font-weight="bold" fill="#111" stroke="#111" stroke-width="0.22">2</text>
<line x1="402.20" y1="171.50" x2="403.80" y2="171.50" stroke="#777" stroke-width="0.6"/>
<text x="401.00" y="173.11" font-size="4.8" text-anchor="end" font-weight="bold" fill="#111" stroke="#111" stroke-width="0.22">3</text>
<line x1="402.20" y1="157.50" x2="403.80" y2="157.50" stroke="#777" stroke-width="0.6"/>
<text x="401.00" y="158.87" font-size="4.8" text-anchor="end" font-weight="bold" fill="#111" stroke="#111" stroke-width="0.22">4</text>
<line x1="402.20" y1="142.50" x2="403.80" y2="142.50" stroke="#777" stroke-width="0.6"/>
<text x="401.00" y="144.63" font-size="4.8" text-anchor="end" font-weight="bold" fill="#111" stroke="#111" stroke-width="0.22">5</text>
<line x1="412.50" y1="202.69" x2="412.50" y2="203.99" stroke="#888" stroke-width="0.7"/>
<line x1="411.30" y1="202.50" x2="413.30" y2="202.50" stroke="#888" stroke-width="0.6"/>
<rect x="407.70" y="203.99" width="9.20" height="10.11" fill="#242424" stroke="#111" stroke-width="0.5"/>
<line x1="431.50" y1="198.30" x2="431.50" y2="199.86" stroke="#888" stroke-width="0.7"/>
<line x1="430.55" y1="198.50" x2="432.55" y2="198.50" stroke="#888" stroke-width="0.6"/>
<rect x="426.90" y="199.86" width="9.30" height="14.24" fill="#242424" stroke="#111" stroke-width="0.5"/>
<line x1="450.50" y1="187.00" x2="450.50" y2="195.59" stroke="#888" stroke-width="0.7"/>
<line x1="449.80" y1="187.50" x2="451.80" y2="187.50" stroke="#888" stroke-width="0.6"/>
<rect x="446.20" y="195.59" width="9.20" height="18.51" fill="#242424" stroke="#111" stroke-width="0.5"/>
<line x1="469.50" y1="154.90" x2="469.50" y2="172.80" stroke="#888" stroke-width="0.7"/>
<line x1="468.90" y1="154.50" x2="470.90" y2="154.50" stroke="#888" stroke-width="0.6"/>
<rect x="465.00" y="172.80" width="9.80" height="41.30" fill="#242424" stroke="#111" stroke-width="0.5"/>
<line x1="489.50" y1="157.10" x2="489.50" y2="163.98" stroke="#888" stroke-width="0.7"/>
<line x1="488.05" y1="157.50" x2="490.05" y2="157.50" stroke="#888" stroke-width="0.6"/>
<rect x="484.40" y="163.98" width="9.30" height="50.12" fill="#242424" stroke="#111" stroke-width="0.5"/>
<line x1="508.50" y1="193.30" x2="508.50" y2="197.01" stroke="#888" stroke-width="0.7"/>
<line x1="507.20" y1="193.50" x2="509.20" y2="193.50" stroke="#888" stroke-width="0.6"/>
<rect x="503.30" y="197.01" width="9.80" height="17.09" fill="#242424" stroke="#111" stroke-width="0.5"/>
<text x="412.70" y="220.20" font-size="5.0" text-anchor="middle" font-weight="bold" fill="#111" stroke="#111" stroke-width="0.22">Control</text>
<text x="431.50" y="220.20" font-size="5.0" text-anchor="middle" font-weight="bold" fill="#111" stroke="#111" stroke-width="0.22">G-CSF</text>
<text x="431.50" y="226.20" font-size="5.0" text-anchor="middle" font-weight="bold" fill="#111" stroke="#111" stroke-width="0.22">30min</text>
<text x="450.70" y="220.20" font-size="5.0" text-anchor="middle" font-weight="bold" fill="#111" stroke="#111" stroke-width="0.22">G-CSF</text>
<text x="450.70" y="226.20" font-size="5.0" text-anchor="middle" font-weight="bold" fill="#111" stroke="#111" stroke-width="0.22">1d</text>
<text x="469.80" y="220.20" font-size="5.0" text-anchor="middle" font-weight="bold" fill="#111" stroke="#111" stroke-width="0.22">G-CSF</text>
<text x="469.80" y="226.20" font-size="5.0" text-anchor="middle" font-weight="bold" fill="#111" stroke="#111" stroke-width="0.22">3d</text>
<text x="489.00" y="220.20" font-size="5.0" text-anchor="middle" font-weight="bold" fill="#111" stroke="#111" stroke-width="0.22">G-CSF</text>
<text x="489.00" y="226.20" font-size="5.0" text-anchor="middle" font-weight="bold" fill="#111" stroke="#111" stroke-width="0.22">4d</text>
<text x="508.30" y="220.20" font-size="5.0" text-anchor="middle" font-weight="bold" fill="#111" stroke="#111" stroke-width="0.22">G-CSF</text>
<text x="508.30" y="226.20" font-size="5.0" text-anchor="middle" font-weight="bold" fill="#111" stroke="#111" stroke-width="0.22">5d</text>
<line x1="412.20" y1="176.50" x2="430.30" y2="176.50" stroke="#666" stroke-width="0.9"/>
<text x="421.10" y="176.90" font-size="6.6" text-anchor="middle" font-weight="bold" fill="#222" stroke="#222" stroke-width="0.3">**</text>
<line x1="412.20" y1="167.50" x2="449.80" y2="167.50" stroke="#666" stroke-width="0.9"/>
<text x="429.40" y="168.40" font-size="6.6" text-anchor="middle" font-weight="bold" fill="#222" stroke="#222" stroke-width="0.3">*</text>
<line x1="412.20" y1="158.50" x2="467.10" y2="158.50" stroke="#666" stroke-width="0.9"/>
<text x="437.40" y="159.60" font-size="6.6" text-anchor="middle" font-weight="bold" fill="#222" stroke="#222" stroke-width="0.3">**</text>
<line x1="412.20" y1="149.50" x2="484.40" y2="149.50" stroke="#666" stroke-width="0.9"/>
<text x="446.50" y="150.80" font-size="6.6" text-anchor="middle" font-weight="bold" fill="#222" stroke="#222" stroke-width="0.3">**</text>
<line x1="412.20" y1="141.50" x2="503.30" y2="141.50" stroke="#666" stroke-width="0.9"/>
<text x="456.40" y="141.90" font-size="6.6" text-anchor="middle" font-weight="bold" fill="#222" stroke="#222" stroke-width="0.3">*</text>
<text x="396.40" y="179.50" font-size="5.7" text-anchor="middle" font-weight="bold" fill="#111" transform="rotate(-90 396.40 179.50)" stroke="#111" stroke-width="0.22">plasma S1P levels (uM)</text>
<line x1="295.50" y1="256.40" x2="295.50" y2="328.60" stroke="#777" stroke-width="0.8"/>
<line x1="295.00" y1="328.50" x2="388.30" y2="328.50" stroke="#777" stroke-width="0.8"/>
<line x1="293.40" y1="328.50" x2="295.00" y2="328.50" stroke="#777" stroke-width="0.6"/>
<text x="292.20" y="330.33" font-size="4.8" text-anchor="end" font-weight="bold" fill="#111" stroke="#111" stroke-width="0.22">0</text>
<line x1="293.40" y1="310.50" x2="295.00" y2="310.50" stroke="#777" stroke-width="0.6"/>
<text x="292.20" y="312.41" font-size="4.8" text-anchor="end" font-weight="bold" fill="#111" stroke="#111" stroke-width="0.22">0.4</text>
<line x1="293.40" y1="292.50" x2="295.00" y2="292.50" stroke="#777" stroke-width="0.6"/>
<text x="292.20" y="294.49" font-size="4.8" text-anchor="end" font-weight="bold" fill="#111" stroke="#111" stroke-width="0.22">0.8</text>
<line x1="293.40" y1="274.50" x2="295.00" y2="274.50" stroke="#777" stroke-width="0.6"/>
<text x="292.20" y="276.57" font-size="4.8" text-anchor="end" font-weight="bold" fill="#111" stroke="#111" stroke-width="0.22">1.2</text>
<line x1="293.40" y1="256.50" x2="295.00" y2="256.50" stroke="#777" stroke-width="0.6"/>
<text x="292.20" y="258.65" font-size="4.8" text-anchor="end" font-weight="bold" fill="#111" stroke="#111" stroke-width="0.22">1.6</text>
<line x1="306.50" y1="291.60" x2="306.50" y2="295.45" stroke="#888" stroke-width="0.7"/>
<line x1="305.60" y1="291.50" x2="307.60" y2="291.50" stroke="#888" stroke-width="0.6"/>
<rect x="299.50" y="295.45" width="14.20" height="33.15" fill="#242424" stroke="#111" stroke-width="0.5"/>
<line x1="330.50" y1="266.30" x2="330.50" y2="276.41" stroke="#888" stroke-width="0.7"/>
<line x1="329.30" y1="266.50" x2="331.30" y2="266.50" stroke="#888" stroke-width="0.6"/>
<rect x="323.20" y="276.41" width="14.20" height="52.19" fill="#242424" stroke="#111" stroke-width="0.5"/>
<line x1="353.50" y1="293.30" x2="353.50" y2="295.45" stroke="#888" stroke-width="0.7"/>
<line x1="352.85" y1="293.50" x2="354.85" y2="293.50" stroke="#888" stroke-width="0.6"/>
<rect x="346.50" y="295.45" width="14.70" height="33.15" fill="#242424" stroke="#111" stroke-width="0.5"/>
<line x1="377.50" y1="289.20" x2="377.50" y2="294.78" stroke="#888" stroke-width="0.7"/>
<line x1="376.20" y1="289.50" x2="378.20" y2="289.50" stroke="#888" stroke-width="0.6"/>
<rect x="370.00" y="294.78" width="14.40" height="33.82" fill="#242424" stroke="#111" stroke-width="0.5"/>
<text x="269.40" y="334.75" font-size="5.0" text-anchor="start" font-weight="bold" fill="#111" stroke="#111" stroke-width="0.22">G-CSF</text>
<line x1="305.20" y1="332.50" x2="307.60" y2="332.50" stroke="#111" stroke-width="1.0"/>
<line x1="327.60" y1="332.50" x2="331.80" y2="332.50" stroke="#111" stroke-width="1.25"/>
<line x1="329.50" y1="330.50" x2="329.50" y2="334.70" stroke="#111" stroke-width="1.25"/>
<line x1="351.50" y1="332.50" x2="355.70" y2="332.50" stroke="#111" stroke-width="1.25"/>
<line x1="353.50" y1="330.50" x2="353.50" y2="334.70" stroke="#111" stroke-width="1.25"/>
<line x1="374.80" y1="332.50" x2="379.00" y2="332.50" stroke="#111" stroke-width="1.25"/>
<line x1="376.50" y1="330.50" x2="376.50" y2="334.70" stroke="#111" stroke-width="1.25"/>
<text x="269.40" y="341.95" font-size="5.0" text-anchor="start" font-weight="bold" fill="#111" stroke="#111" stroke-width="0.22">Rapamycin</text>
<line x1="305.20" y1="340.50" x2="307.60" y2="340.50" stroke="#111" stroke-width="1.0"/>
<line x1="328.50" y1="340.50" x2="330.90" y2="340.50" stroke="#111" stroke-width="1.0"/>
<line x1="351.50" y1="340.50" x2="355.70" y2="340.50" stroke="#111" stroke-width="1.25"/>
<line x1="353.50" y1="337.90" x2="353.50" y2="342.10" stroke="#111" stroke-width="1.25"/>
<line x1="375.70" y1="340.50" x2="378.10" y2="340.50" stroke="#111" stroke-width="1.0"/>
<text x="269.40" y="349.45" font-size="5.0" text-anchor="start" font-weight="bold" fill="#111" stroke="#111" stroke-width="0.22">Akt inhibitor</text>
<line x1="305.20" y1="347.50" x2="307.60" y2="347.50" stroke="#111" stroke-width="1.0"/>
<line x1="328.50" y1="347.50" x2="330.90" y2="347.50" stroke="#111" stroke-width="1.0"/>
<line x1="352.40" y1="347.50" x2="354.80" y2="347.50" stroke="#111" stroke-width="1.0"/>
<line x1="374.80" y1="347.50" x2="379.00" y2="347.50" stroke="#111" stroke-width="1.25"/>
<line x1="376.50" y1="345.60" x2="376.50" y2="349.80" stroke="#111" stroke-width="1.25"/>
<line x1="307.50" y1="263.50" x2="326.00" y2="263.50" stroke="#666" stroke-width="0.9"/>
<text x="316.90" y="264.50" font-size="6.6" text-anchor="middle" font-weight="bold" fill="#222" stroke="#222" stroke-width="0.3">*</text>
<line x1="334.40" y1="263.50" x2="352.30" y2="263.50" stroke="#666" stroke-width="0.9"/>
<text x="343.50" y="264.50" font-size="6.6" text-anchor="middle" font-weight="bold" fill="#222" stroke="#222" stroke-width="0.3">*</text>
<line x1="334.40" y1="256.50" x2="371.50" y2="256.50" stroke="#666" stroke-width="0.9"/>
<text x="352.90" y="257.80" font-size="6.6" text-anchor="middle" font-weight="bold" fill="#222" stroke="#222" stroke-width="0.3">*</text>
<text x="284.70" y="293.30" font-size="5.6" text-anchor="middle" font-weight="bold" fill="#111" transform="rotate(-90 284.70 293.30)" stroke="#111" stroke-width="0.22">plasma S1P levels (uM)</text>
</svg>
</body></html>
